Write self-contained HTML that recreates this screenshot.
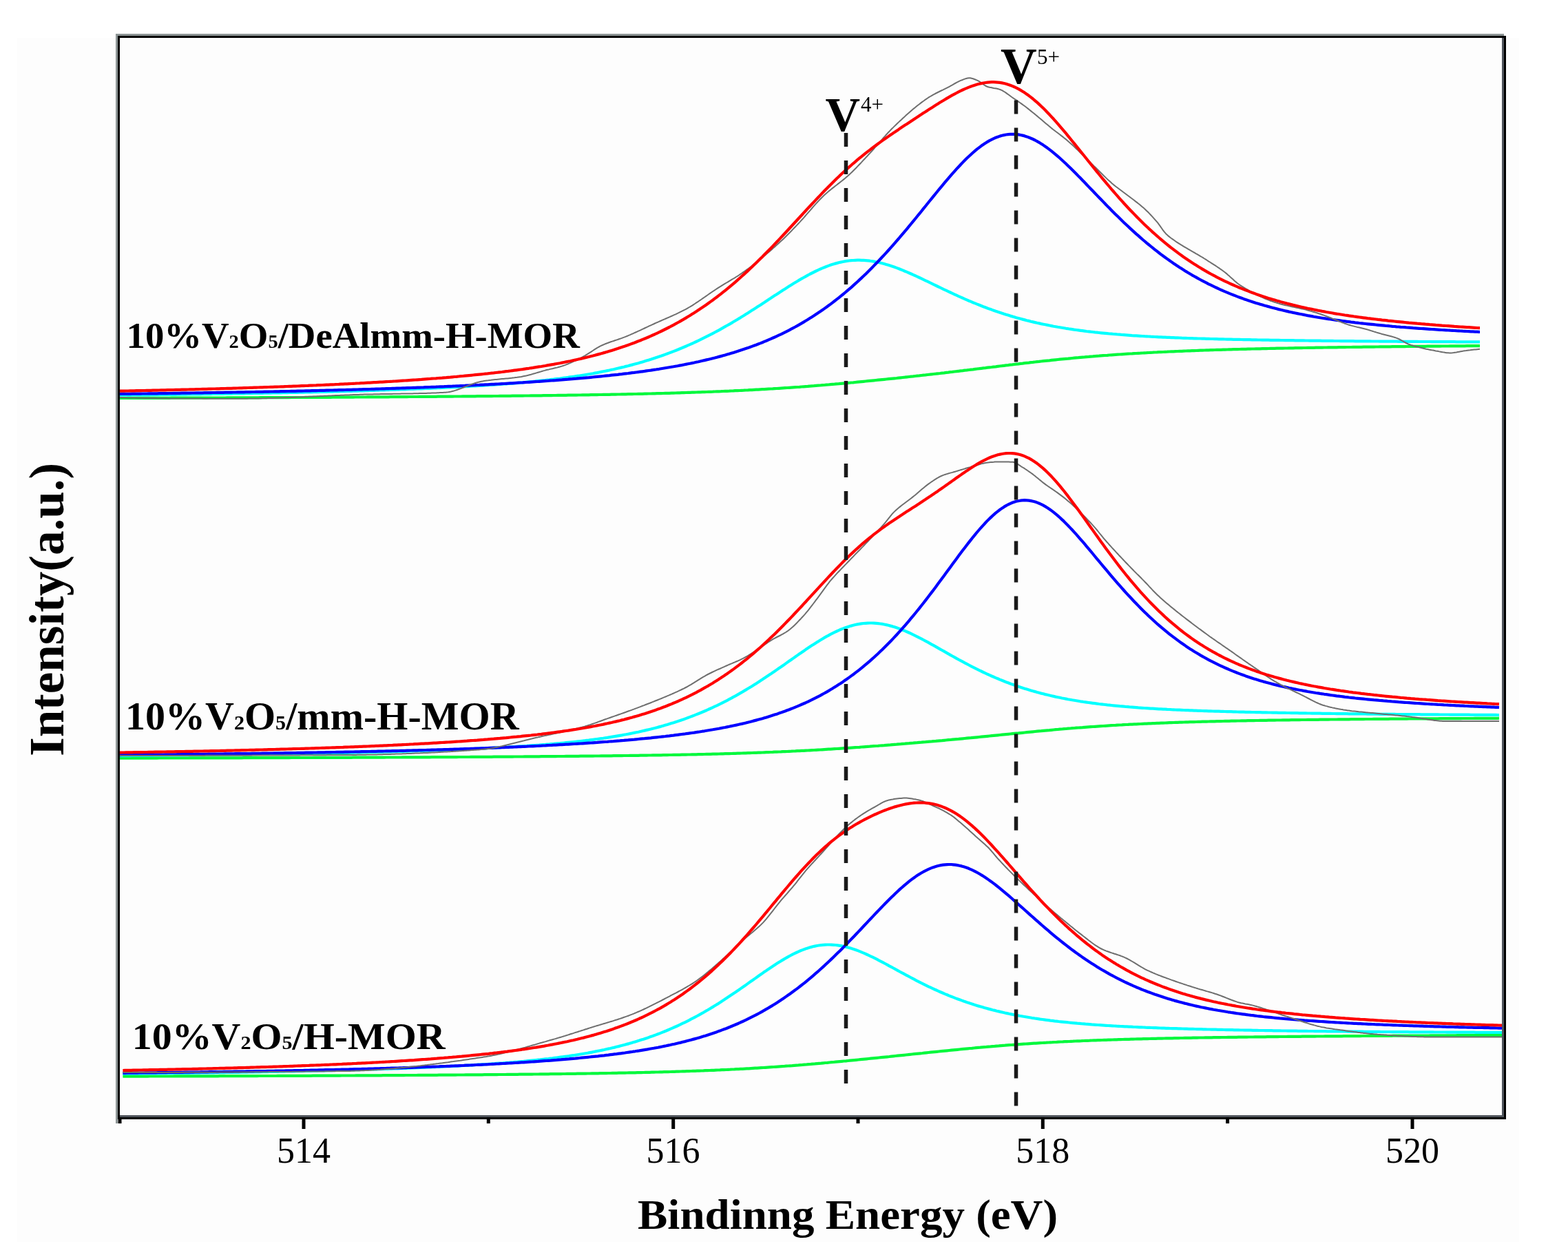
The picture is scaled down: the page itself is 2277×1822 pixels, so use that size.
<!DOCTYPE html>
<html><head><meta charset="utf-8"><title>XPS V2p spectra</title>
<style>
html,body{margin:0;padding:0;background:#fff;}
body{width:2277px;height:1822px;overflow:hidden;position:relative;}
svg{position:absolute;left:0;top:0;}
.t{position:absolute;white-space:nowrap;font-family:"Liberation Serif","Times New Roman",serif;color:#000;line-height:1;}
.b{font-weight:bold;}
.s{font-size:0.52em;}
</style></head><body>
<svg width="2277" height="1822" viewBox="0 0 2277 1822">
<rect width="2277" height="1822" fill="#ffffff"/>
<rect x="25" y="55" width="2181" height="1748" fill="#fdfdfd"/>
<g fill="none" stroke-linejoin="round" stroke-linecap="butt">
<path d="M171,578 L174,578 L177,578 L180,578 L183,578 L186,577.9 L189,577.9 L192,577.9 L195,577.9 L198,577.9 L201,577.9 L204,577.9 L207,577.9 L210,577.9 L213,577.9 L216,577.9 L219,577.8 L222,577.8 L225,577.8 L228,577.8 L231,577.8 L234,577.8 L237,577.8 L240,577.8 L243,577.8 L246,577.8 L249,577.7 L252,577.7 L255,577.7 L258,577.7 L261,577.7 L264,577.7 L267,577.7 L270,577.7 L273,577.7 L276,577.6 L279,577.6 L282,577.6 L285,577.6 L288,577.6 L291,577.6 L294,577.6 L297,577.6 L300,577.6 L303,577.5 L306,577.5 L309,577.5 L312,577.5 L315,577.5 L318,577.5 L321,577.5 L324,577.5 L327,577.5 L330,577.4 L333,577.4 L336,577.4 L339,577.4 L342,577.4 L345,577.4 L348,577.4 L351,577.4 L354,577.3 L357,577.3 L360,577.3 L363,577.3 L366,577.3 L369,577.3 L372,577.3 L375,577.3 L378,577.2 L381,577.2 L384,577.2 L387,577.2 L390,577.2 L393,577.2 L396,577.2 L399,577.2 L402,577.1 L405,577.1 L408,577.1 L411,577.1 L414,577.1 L417,577.1 L420,577.1 L423,577 L426,577 L429,577 L432,577 L435,577 L438,577 L441,577 L444,576.9 L447,576.9 L450,576.9 L453,576.9 L456,576.9 L459,576.9 L462,576.8 L465,576.8 L468,576.8 L471,576.8 L474,576.8 L477,576.8 L480,576.8 L483,576.7 L486,576.7 L489,576.7 L492,576.7 L495,576.7 L498,576.7 L501,576.6 L504,576.6 L507,576.6 L510,576.6 L513,576.6 L516,576.5 L519,576.5 L522,576.5 L525,576.5 L528,576.5 L531,576.5 L534,576.4 L537,576.4 L540,576.4 L543,576.4 L546,576.4 L549,576.3 L552,576.3 L555,576.3 L558,576.3 L561,576.3 L564,576.3 L567,576.2 L570,576.2 L573,576.2 L576,576.2 L579,576.2 L582,576.1 L585,576.1 L588,576.1 L591,576.1 L594,576 L597,576 L600,576 L603,576 L606,576 L609,575.9 L612,575.9 L615,575.9 L618,575.9 L621,575.9 L624,575.8 L627,575.8 L630,575.8 L633,575.8 L636,575.7 L639,575.7 L642,575.7 L645,575.7 L648,575.6 L651,575.6 L654,575.6 L657,575.6 L660,575.5 L663,575.5 L666,575.5 L669,575.5 L672,575.4 L675,575.4 L678,575.4 L681,575.4 L684,575.3 L687,575.3 L690,575.3 L693,575.2 L696,575.2 L699,575.2 L702,575.2 L705,575.1 L708,575.1 L711,575.1 L714,575.1 L717,575 L720,575 L723,575 L726,574.9 L729,574.9 L732,574.9 L735,574.8 L738,574.8 L741,574.8 L744,574.7 L747,574.7 L750,574.7 L753,574.6 L756,574.6 L759,574.6 L762,574.5 L765,574.5 L768,574.5 L771,574.4 L774,574.4 L777,574.4 L780,574.3 L783,574.3 L786,574.3 L789,574.2 L792,574.2 L795,574.1 L798,574.1 L801,574.1 L804,574 L807,574 L810,573.9 L813,573.9 L816,573.9 L819,573.8 L822,573.8 L825,573.7 L828,573.7 L831,573.6 L834,573.6 L837,573.6 L840,573.5 L843,573.5 L846,573.4 L849,573.4 L852,573.3 L855,573.3 L858,573.2 L861,573.2 L864,573.1 L867,573.1 L870,573 L873,573 L876,572.9 L879,572.9 L882,572.8 L885,572.8 L888,572.7 L891,572.6 L894,572.6 L897,572.5 L900,572.5 L903,572.4 L906,572.3 L909,572.3 L912,572.2 L915,572.2 L918,572.1 L921,572 L924,572 L927,571.9 L930,571.8 L933,571.8 L936,571.7 L939,571.6 L942,571.5 L945,571.5 L948,571.4 L951,571.3 L954,571.2 L957,571.2 L960,571.1 L963,571 L966,570.9 L969,570.8 L972,570.8 L975,570.7 L978,570.6 L981,570.5 L984,570.4 L987,570.3 L990,570.2 L993,570.1 L996,570 L999,569.9 L1002,569.8 L1005,569.7 L1008,569.6 L1011,569.5 L1014,569.4 L1017,569.3 L1020,569.2 L1023,569.1 L1026,569 L1029,568.9 L1032,568.8 L1035,568.7 L1038,568.5 L1041,568.4 L1044,568.3 L1047,568.2 L1050,568 L1053,567.9 L1056,567.8 L1059,567.7 L1062,567.5 L1065,567.4 L1068,567.2 L1071,567.1 L1074,567 L1077,566.8 L1080,566.7 L1083,566.5 L1086,566.4 L1089,566.2 L1092,566.1 L1095,565.9 L1098,565.7 L1101,565.6 L1104,565.4 L1107,565.2 L1110,565.1 L1113,564.9 L1116,564.7 L1119,564.5 L1122,564.4 L1125,564.2 L1128,564 L1131,563.8 L1134,563.6 L1137,563.4 L1140,563.2 L1143,563 L1146,562.8 L1149,562.6 L1152,562.4 L1155,562.2 L1158,562 L1161,561.8 L1164,561.5 L1167,561.3 L1170,561.1 L1173,560.9 L1176,560.6 L1179,560.4 L1182,560.2 L1185,559.9 L1188,559.7 L1191,559.5 L1194,559.2 L1197,559 L1200,558.7 L1203,558.5 L1206,558.2 L1209,557.9 L1212,557.7 L1215,557.4 L1218,557.2 L1221,556.9 L1224,556.6 L1227,556.4 L1230,556.1 L1233,555.8 L1236,555.5 L1239,555.3 L1242,555 L1245,554.7 L1248,554.4 L1251,554.1 L1254,553.8 L1257,553.5 L1260,553.2 L1263,552.9 L1266,552.6 L1269,552.3 L1272,552 L1275,551.7 L1278,551.4 L1281,551.1 L1284,550.8 L1287,550.5 L1290,550.2 L1293,549.9 L1296,549.6 L1299,549.3 L1302,549 L1305,548.6 L1308,548.3 L1311,548 L1314,547.7 L1317,547.3 L1320,547 L1323,546.7 L1326,546.4 L1329,546 L1332,545.7 L1335,545.4 L1338,545 L1341,544.7 L1344,544.4 L1347,544 L1350,543.7 L1353,543.3 L1356,543 L1359,542.7 L1362,542.3 L1365,542 L1368,541.6 L1371,541.3 L1374,540.9 L1377,540.6 L1380,540.2 L1383,539.9 L1386,539.5 L1389,539.2 L1392,538.8 L1395,538.4 L1398,538.1 L1401,537.7 L1404,537.4 L1407,537 L1410,536.6 L1413,536.3 L1416,535.9 L1419,535.5 L1422,535.2 L1425,534.8 L1428,534.4 L1431,534.1 L1434,533.7 L1437,533.3 L1440,533 L1443,532.6 L1446,532.3 L1449,531.9 L1452,531.5 L1455,531.2 L1458,530.8 L1461,530.4 L1464,530.1 L1467,529.7 L1470,529.4 L1473,529 L1476,528.6 L1479,528.3 L1482,527.9 L1485,527.6 L1488,527.2 L1491,526.9 L1494,526.6 L1497,526.2 L1500,525.9 L1503,525.5 L1506,525.2 L1509,524.9 L1512,524.5 L1515,524.2 L1518,523.9 L1521,523.6 L1524,523.3 L1527,522.9 L1530,522.6 L1533,522.3 L1536,522 L1539,521.7 L1542,521.4 L1545,521.1 L1548,520.8 L1551,520.6 L1554,520.3 L1557,520 L1560,519.7 L1563,519.4 L1566,519.2 L1569,518.9 L1572,518.6 L1575,518.4 L1578,518.1 L1581,517.9 L1584,517.6 L1587,517.4 L1590,517.1 L1593,516.9 L1596,516.7 L1599,516.4 L1602,516.2 L1605,516 L1608,515.8 L1611,515.5 L1614,515.3 L1617,515.1 L1620,514.9 L1623,514.7 L1626,514.5 L1629,514.3 L1632,514.1 L1635,513.9 L1638,513.7 L1641,513.5 L1644,513.4 L1647,513.2 L1650,513 L1653,512.8 L1656,512.7 L1659,512.5 L1662,512.3 L1665,512.2 L1668,512 L1671,511.8 L1674,511.7 L1677,511.5 L1680,511.4 L1683,511.2 L1686,511.1 L1689,511 L1692,510.8 L1695,510.7 L1698,510.5 L1701,510.4 L1704,510.3 L1707,510.1 L1710,510 L1713,509.9 L1716,509.8 L1719,509.6 L1722,509.5 L1725,509.4 L1728,509.3 L1731,509.2 L1734,509.1 L1737,509 L1740,508.8 L1743,508.7 L1746,508.6 L1749,508.5 L1752,508.4 L1755,508.3 L1758,508.2 L1761,508.1 L1764,508 L1767,507.9 L1770,507.8 L1773,507.8 L1776,507.7 L1779,507.6 L1782,507.5 L1785,507.4 L1788,507.3 L1791,507.2 L1794,507.2 L1797,507.1 L1800,507 L1803,506.9 L1806,506.8 L1809,506.8 L1812,506.7 L1815,506.6 L1818,506.5 L1821,506.5 L1824,506.4 L1827,506.3 L1830,506.3 L1833,506.2 L1836,506.1 L1839,506.1 L1842,506 L1845,505.9 L1848,505.9 L1851,505.8 L1854,505.7 L1857,505.7 L1860,505.6 L1863,505.6 L1866,505.5 L1869,505.5 L1872,505.4 L1875,505.3 L1878,505.3 L1881,505.2 L1884,505.2 L1887,505.1 L1890,505.1 L1893,505 L1896,505 L1899,504.9 L1902,504.9 L1905,504.8 L1908,504.8 L1911,504.7 L1914,504.7 L1917,504.6 L1920,504.6 L1923,504.5 L1926,504.5 L1929,504.4 L1932,504.4 L1935,504.3 L1938,504.3 L1941,504.3 L1944,504.2 L1947,504.2 L1950,504.1 L1953,504.1 L1956,504 L1959,504 L1962,504 L1965,503.9 L1968,503.9 L1971,503.9 L1974,503.8 L1977,503.8 L1980,503.7 L1983,503.7 L1986,503.7 L1989,503.6 L1992,503.6 L1995,503.6 L1998,503.5 L2001,503.5 L2004,503.4 L2007,503.4 L2010,503.4 L2013,503.3 L2016,503.3 L2019,503.3 L2022,503.2 L2025,503.2 L2028,503.2 L2031,503.2 L2034,503.1 L2037,503.1 L2040,503.1 L2043,503 L2046,503 L2049,503 L2052,502.9 L2055,502.9 L2058,502.9 L2061,502.8 L2064,502.8 L2067,502.8 L2070,502.8 L2073,502.7 L2076,502.7 L2079,502.7 L2082,502.6 L2085,502.6 L2088,502.6 L2091,502.6 L2094,502.5 L2097,502.5 L2100,502.5 L2103,502.5 L2106,502.4 L2109,502.4 L2112,502.4 L2115,502.4 L2118,502.3 L2121,502.3 L2124,502.3 L2127,502.3 L2130,502.2 L2133,502.2 L2136,502.2 L2139,502.2 L2142,502.1 L2145,502.1 L2148,502.1 L2149,502.1" stroke="#00f83c" stroke-width="4.2"/>
<path d="M171,573.8 L174,573.7 L177,573.7 L180,573.7 L183,573.6 L186,573.6 L189,573.6 L192,573.5 L195,573.5 L198,573.5 L201,573.4 L204,573.4 L207,573.4 L210,573.3 L213,573.3 L216,573.3 L219,573.2 L222,573.2 L225,573.2 L228,573.1 L231,573.1 L234,573 L237,573 L240,573 L243,572.9 L246,572.9 L249,572.9 L252,572.8 L255,572.8 L258,572.7 L261,572.7 L264,572.7 L267,572.6 L270,572.6 L273,572.5 L276,572.5 L279,572.5 L282,572.4 L285,572.4 L288,572.3 L291,572.3 L294,572.2 L297,572.2 L300,572.1 L303,572.1 L306,572.1 L309,572 L312,572 L315,571.9 L318,571.9 L321,571.8 L324,571.8 L327,571.7 L330,571.7 L333,571.6 L336,571.6 L339,571.5 L342,571.5 L345,571.4 L348,571.4 L351,571.3 L354,571.3 L357,571.2 L360,571.2 L363,571.1 L366,571.1 L369,571 L372,571 L375,570.9 L378,570.9 L381,570.8 L384,570.7 L387,570.7 L390,570.6 L393,570.6 L396,570.5 L399,570.5 L402,570.4 L405,570.3 L408,570.3 L411,570.2 L414,570.1 L417,570.1 L420,570 L423,570 L426,569.9 L429,569.8 L432,569.8 L435,569.7 L438,569.6 L441,569.6 L444,569.5 L447,569.4 L450,569.4 L453,569.3 L456,569.2 L459,569.1 L462,569.1 L465,569 L468,568.9 L471,568.9 L474,568.8 L477,568.7 L480,568.6 L483,568.6 L486,568.5 L489,568.4 L492,568.3 L495,568.2 L498,568.2 L501,568.1 L504,568 L507,567.9 L510,567.8 L513,567.7 L516,567.6 L519,567.6 L522,567.5 L525,567.4 L528,567.3 L531,567.2 L534,567.1 L537,567 L540,566.9 L543,566.8 L546,566.7 L549,566.6 L552,566.5 L555,566.4 L558,566.3 L561,566.2 L564,566.1 L567,566 L570,565.9 L573,565.8 L576,565.7 L579,565.6 L582,565.5 L585,565.4 L588,565.3 L591,565.1 L594,565 L597,564.9 L600,564.8 L603,564.7 L606,564.5 L609,564.4 L612,564.3 L615,564.2 L618,564 L621,563.9 L624,563.8 L627,563.7 L630,563.5 L633,563.4 L636,563.2 L639,563.1 L642,563 L645,562.8 L648,562.7 L651,562.5 L654,562.4 L657,562.2 L660,562.1 L663,561.9 L666,561.7 L669,561.6 L672,561.4 L675,561.2 L678,561.1 L681,560.9 L684,560.7 L687,560.5 L690,560.4 L693,560.2 L696,560 L699,559.8 L702,559.6 L705,559.4 L708,559.2 L711,559 L714,558.8 L717,558.6 L720,558.4 L723,558.2 L726,558 L729,557.7 L732,557.5 L735,557.3 L738,557 L741,556.8 L744,556.6 L747,556.3 L750,556.1 L753,555.8 L756,555.5 L759,555.3 L762,555 L765,554.7 L768,554.4 L771,554.1 L774,553.9 L777,553.6 L780,553.2 L783,552.9 L786,552.6 L789,552.3 L792,552 L795,551.6 L798,551.3 L801,550.9 L804,550.6 L807,550.2 L810,549.8 L813,549.5 L816,549.1 L819,548.7 L822,548.3 L825,547.9 L828,547.4 L831,547 L834,546.6 L837,546.1 L840,545.7 L843,545.2 L846,544.7 L849,544.2 L852,543.7 L855,543.2 L858,542.7 L861,542.2 L864,541.6 L867,541.1 L870,540.5 L873,539.9 L876,539.3 L879,538.7 L882,538.1 L885,537.5 L888,536.8 L891,536.2 L894,535.5 L897,534.8 L900,534.1 L903,533.4 L906,532.7 L909,531.9 L912,531.2 L915,530.4 L918,529.6 L921,528.8 L924,528 L927,527.2 L930,526.3 L933,525.4 L936,524.5 L939,523.6 L942,522.7 L945,521.8 L948,520.8 L951,519.8 L954,518.8 L957,517.8 L960,516.8 L963,515.7 L966,514.6 L969,513.5 L972,512.4 L975,511.3 L978,510.1 L981,509 L984,507.8 L987,506.5 L990,505.3 L993,504 L996,502.7 L999,501.4 L1002,500.1 L1005,498.8 L1008,497.4 L1011,496 L1014,494.6 L1017,493.2 L1020,491.7 L1023,490.2 L1026,488.7 L1029,487.2 L1032,485.7 L1035,484.1 L1038,482.5 L1041,480.9 L1044,479.3 L1047,477.6 L1050,475.9 L1053,474.2 L1056,472.5 L1059,470.8 L1062,469.1 L1065,467.3 L1068,465.5 L1071,463.7 L1074,461.9 L1077,460 L1080,458.2 L1083,456.3 L1086,454.4 L1089,452.5 L1092,450.6 L1095,448.7 L1098,446.8 L1101,444.8 L1104,442.9 L1107,440.9 L1110,439 L1113,437 L1116,435 L1119,433.1 L1122,431.1 L1125,429.1 L1128,427.2 L1131,425.2 L1134,423.3 L1137,421.3 L1140,419.4 L1143,417.5 L1146,415.6 L1149,413.7 L1152,411.8 L1155,410 L1158,408.2 L1161,406.4 L1164,404.7 L1167,403 L1170,401.3 L1173,399.6 L1176,398 L1179,396.5 L1182,395 L1185,393.5 L1188,392.1 L1191,390.7 L1194,389.4 L1197,388.2 L1200,387 L1203,385.9 L1206,384.8 L1209,383.8 L1212,382.9 L1215,382.1 L1218,381.3 L1221,380.6 L1224,380 L1227,379.4 L1230,378.9 L1233,378.5 L1236,378.2 L1239,378 L1242,377.8 L1245,377.7 L1248,377.7 L1251,377.8 L1254,377.9 L1257,378.1 L1260,378.4 L1263,378.7 L1266,379.2 L1269,379.6 L1272,380.2 L1275,380.8 L1278,381.5 L1281,382.2 L1284,383 L1287,383.9 L1290,384.8 L1293,385.8 L1296,386.8 L1299,387.8 L1302,388.9 L1305,390 L1308,391.2 L1311,392.4 L1314,393.7 L1317,394.9 L1320,396.2 L1323,397.5 L1326,398.9 L1329,400.2 L1332,401.6 L1335,403 L1338,404.4 L1341,405.9 L1344,407.3 L1347,408.7 L1350,410.2 L1353,411.6 L1356,413.1 L1359,414.5 L1362,416 L1365,417.4 L1368,418.8 L1371,420.3 L1374,421.7 L1377,423.1 L1380,424.5 L1383,425.9 L1386,427.3 L1389,428.7 L1392,430.1 L1395,431.4 L1398,432.7 L1401,434.1 L1404,435.4 L1407,436.7 L1410,437.9 L1413,439.2 L1416,440.4 L1419,441.6 L1422,442.8 L1425,444 L1428,445.2 L1431,446.3 L1434,447.5 L1437,448.6 L1440,449.6 L1443,450.7 L1446,451.8 L1449,452.8 L1452,453.8 L1455,454.8 L1458,455.8 L1461,456.7 L1464,457.6 L1467,458.6 L1470,459.4 L1473,460.3 L1476,461.2 L1479,462 L1482,462.8 L1485,463.6 L1488,464.4 L1491,465.2 L1494,465.9 L1497,466.7 L1500,467.4 L1503,468.1 L1506,468.8 L1509,469.4 L1512,470.1 L1515,470.7 L1518,471.3 L1521,471.9 L1524,472.5 L1527,473.1 L1530,473.7 L1533,474.2 L1536,474.8 L1539,475.3 L1542,475.8 L1545,476.3 L1548,476.8 L1551,477.2 L1554,477.7 L1557,478.1 L1560,478.6 L1563,479 L1566,479.4 L1569,479.8 L1572,480.2 L1575,480.6 L1578,481 L1581,481.3 L1584,481.7 L1587,482 L1590,482.4 L1593,482.7 L1596,483 L1599,483.3 L1602,483.6 L1605,483.9 L1608,484.2 L1611,484.5 L1614,484.7 L1617,485 L1620,485.2 L1623,485.5 L1626,485.7 L1629,486 L1632,486.2 L1635,486.4 L1638,486.6 L1641,486.8 L1644,487.1 L1647,487.3 L1650,487.4 L1653,487.6 L1656,487.8 L1659,488 L1662,488.2 L1665,488.3 L1668,488.5 L1671,488.7 L1674,488.8 L1677,489 L1680,489.1 L1683,489.3 L1686,489.4 L1689,489.6 L1692,489.7 L1695,489.8 L1698,489.9 L1701,490.1 L1704,490.2 L1707,490.3 L1710,490.4 L1713,490.5 L1716,490.7 L1719,490.8 L1722,490.9 L1725,491 L1728,491.1 L1731,491.2 L1734,491.3 L1737,491.4 L1740,491.5 L1743,491.5 L1746,491.6 L1749,491.7 L1752,491.8 L1755,491.9 L1758,492 L1761,492 L1764,492.1 L1767,492.2 L1770,492.3 L1773,492.3 L1776,492.4 L1779,492.5 L1782,492.6 L1785,492.6 L1788,492.7 L1791,492.8 L1794,492.8 L1797,492.9 L1800,492.9 L1803,493 L1806,493.1 L1809,493.1 L1812,493.2 L1815,493.2 L1818,493.3 L1821,493.4 L1824,493.4 L1827,493.5 L1830,493.5 L1833,493.6 L1836,493.6 L1839,493.7 L1842,493.7 L1845,493.8 L1848,493.8 L1851,493.9 L1854,493.9 L1857,493.9 L1860,494 L1863,494 L1866,494.1 L1869,494.1 L1872,494.2 L1875,494.2 L1878,494.2 L1881,494.3 L1884,494.3 L1887,494.4 L1890,494.4 L1893,494.4 L1896,494.5 L1899,494.5 L1902,494.6 L1905,494.6 L1908,494.6 L1911,494.7 L1914,494.7 L1917,494.7 L1920,494.8 L1923,494.8 L1926,494.8 L1929,494.9 L1932,494.9 L1935,494.9 L1938,495 L1941,495 L1944,495 L1947,495.1 L1950,495.1 L1953,495.1 L1956,495.1 L1959,495.2 L1962,495.2 L1965,495.2 L1968,495.3 L1971,495.3 L1974,495.3 L1977,495.3 L1980,495.4 L1983,495.4 L1986,495.4 L1989,495.4 L1992,495.5 L1995,495.5 L1998,495.5 L2001,495.5 L2004,495.6 L2007,495.6 L2010,495.6 L2013,495.6 L2016,495.6 L2019,495.7 L2022,495.7 L2025,495.7 L2028,495.7 L2031,495.8 L2034,495.8 L2037,495.8 L2040,495.8 L2043,495.8 L2046,495.9 L2049,495.9 L2052,495.9 L2055,495.9 L2058,495.9 L2061,496 L2064,496 L2067,496 L2070,496 L2073,496 L2076,496 L2079,496.1 L2082,496.1 L2085,496.1 L2088,496.1 L2091,496.1 L2094,496.1 L2097,496.2 L2100,496.2 L2103,496.2 L2106,496.2 L2109,496.2 L2112,496.2 L2115,496.3 L2118,496.3 L2121,496.3 L2124,496.3 L2127,496.3 L2130,496.3 L2133,496.3 L2136,496.4 L2139,496.4 L2142,496.4 L2145,496.4 L2148,496.4 L2149,496.4" stroke="#00ffff" stroke-width="4.2"/>
<path d="M171,572 L174,572 L177,571.9 L180,571.9 L183,571.8 L186,571.8 L189,571.8 L192,571.7 L195,571.7 L198,571.7 L201,571.6 L204,571.6 L207,571.5 L210,571.5 L213,571.5 L216,571.4 L219,571.4 L222,571.3 L225,571.3 L228,571.3 L231,571.2 L234,571.2 L237,571.1 L240,571.1 L243,571.1 L246,571 L249,571 L252,570.9 L255,570.9 L258,570.8 L261,570.8 L264,570.7 L267,570.7 L270,570.7 L273,570.6 L276,570.6 L279,570.5 L282,570.5 L285,570.4 L288,570.4 L291,570.3 L294,570.3 L297,570.2 L300,570.2 L303,570.1 L306,570.1 L309,570 L312,570 L315,569.9 L318,569.9 L321,569.8 L324,569.8 L327,569.7 L330,569.7 L333,569.6 L336,569.6 L339,569.5 L342,569.5 L345,569.4 L348,569.4 L351,569.3 L354,569.3 L357,569.2 L360,569.2 L363,569.1 L366,569 L369,569 L372,568.9 L375,568.9 L378,568.8 L381,568.8 L384,568.7 L387,568.6 L390,568.6 L393,568.5 L396,568.5 L399,568.4 L402,568.3 L405,568.3 L408,568.2 L411,568.1 L414,568.1 L417,568 L420,568 L423,567.9 L426,567.8 L429,567.8 L432,567.7 L435,567.6 L438,567.6 L441,567.5 L444,567.4 L447,567.3 L450,567.3 L453,567.2 L456,567.1 L459,567.1 L462,567 L465,566.9 L468,566.8 L471,566.8 L474,566.7 L477,566.6 L480,566.5 L483,566.5 L486,566.4 L489,566.3 L492,566.2 L495,566.2 L498,566.1 L501,566 L504,565.9 L507,565.8 L510,565.8 L513,565.7 L516,565.6 L519,565.5 L522,565.4 L525,565.3 L528,565.2 L531,565.2 L534,565.1 L537,565 L540,564.9 L543,564.8 L546,564.7 L549,564.6 L552,564.5 L555,564.4 L558,564.3 L561,564.2 L564,564.1 L567,564 L570,563.9 L573,563.8 L576,563.7 L579,563.6 L582,563.5 L585,563.4 L588,563.3 L591,563.2 L594,563.1 L597,563 L600,562.9 L603,562.8 L606,562.7 L609,562.6 L612,562.5 L615,562.4 L618,562.2 L621,562.1 L624,562 L627,561.9 L630,561.8 L633,561.7 L636,561.5 L639,561.4 L642,561.3 L645,561.2 L648,561 L651,560.9 L654,560.8 L657,560.7 L660,560.5 L663,560.4 L666,560.3 L669,560.1 L672,560 L675,559.9 L678,559.7 L681,559.6 L684,559.4 L687,559.3 L690,559.2 L693,559 L696,558.9 L699,558.7 L702,558.6 L705,558.4 L708,558.3 L711,558.1 L714,557.9 L717,557.8 L720,557.6 L723,557.5 L726,557.3 L729,557.1 L732,557 L735,556.8 L738,556.6 L741,556.4 L744,556.3 L747,556.1 L750,555.9 L753,555.7 L756,555.5 L759,555.4 L762,555.2 L765,555 L768,554.8 L771,554.6 L774,554.4 L777,554.2 L780,554 L783,553.8 L786,553.6 L789,553.4 L792,553.2 L795,553 L798,552.7 L801,552.5 L804,552.3 L807,552.1 L810,551.8 L813,551.6 L816,551.4 L819,551.1 L822,550.9 L825,550.7 L828,550.4 L831,550.2 L834,549.9 L837,549.7 L840,549.4 L843,549.1 L846,548.9 L849,548.6 L852,548.3 L855,548.1 L858,547.8 L861,547.5 L864,547.2 L867,546.9 L870,546.6 L873,546.3 L876,546 L879,545.7 L882,545.4 L885,545.1 L888,544.7 L891,544.4 L894,544.1 L897,543.8 L900,543.4 L903,543.1 L906,542.7 L909,542.3 L912,542 L915,541.6 L918,541.2 L921,540.9 L924,540.5 L927,540.1 L930,539.7 L933,539.3 L936,538.9 L939,538.4 L942,538 L945,537.6 L948,537.1 L951,536.7 L954,536.2 L957,535.8 L960,535.3 L963,534.8 L966,534.3 L969,533.8 L972,533.3 L975,532.8 L978,532.3 L981,531.7 L984,531.2 L987,530.6 L990,530.1 L993,529.5 L996,528.9 L999,528.3 L1002,527.7 L1005,527.1 L1008,526.5 L1011,525.8 L1014,525.2 L1017,524.5 L1020,523.8 L1023,523.1 L1026,522.4 L1029,521.7 L1032,521 L1035,520.2 L1038,519.5 L1041,518.7 L1044,517.9 L1047,517.1 L1050,516.3 L1053,515.5 L1056,514.6 L1059,513.7 L1062,512.8 L1065,511.9 L1068,511 L1071,510.1 L1074,509.1 L1077,508.1 L1080,507.1 L1083,506.1 L1086,505.1 L1089,504 L1092,502.9 L1095,501.8 L1098,500.7 L1101,499.5 L1104,498.4 L1107,497.2 L1110,495.9 L1113,494.7 L1116,493.4 L1119,492.1 L1122,490.8 L1125,489.5 L1128,488.1 L1131,486.7 L1134,485.3 L1137,483.8 L1140,482.3 L1143,480.8 L1146,479.3 L1149,477.7 L1152,476.1 L1155,474.5 L1158,472.8 L1161,471.1 L1164,469.4 L1167,467.6 L1170,465.8 L1173,464 L1176,462.1 L1179,460.2 L1182,458.3 L1185,456.3 L1188,454.3 L1191,452.3 L1194,450.2 L1197,448.1 L1200,446 L1203,443.8 L1206,441.6 L1209,439.3 L1212,437 L1215,434.7 L1218,432.3 L1221,429.9 L1224,427.5 L1227,425 L1230,422.4 L1233,419.9 L1236,417.3 L1239,414.6 L1242,411.9 L1245,409.2 L1248,406.4 L1251,403.6 L1254,400.8 L1257,397.9 L1260,394.9 L1263,392 L1266,389 L1269,385.9 L1272,382.8 L1275,379.7 L1278,376.5 L1281,373.3 L1284,370.1 L1287,366.8 L1290,363.5 L1293,360.2 L1296,356.8 L1299,353.4 L1302,349.9 L1305,346.5 L1308,342.9 L1311,339.4 L1314,335.9 L1317,332.3 L1320,328.7 L1323,325 L1326,321.4 L1329,317.7 L1332,314 L1335,310.4 L1338,306.7 L1341,302.9 L1344,299.2 L1347,295.5 L1350,291.8 L1353,288.1 L1356,284.4 L1359,280.7 L1362,277 L1365,273.4 L1368,269.8 L1371,266.2 L1374,262.6 L1377,259.1 L1380,255.6 L1383,252.2 L1386,248.8 L1389,245.4 L1392,242.2 L1395,239 L1398,235.9 L1401,232.8 L1404,229.8 L1407,227 L1410,224.2 L1413,221.5 L1416,218.9 L1419,216.4 L1422,214.1 L1425,211.8 L1428,209.7 L1431,207.7 L1434,205.9 L1437,204.1 L1440,202.6 L1443,201.1 L1446,199.8 L1449,198.7 L1452,197.6 L1455,196.8 L1458,196.1 L1461,195.5 L1464,195.1 L1467,194.9 L1470,194.8 L1473,194.9 L1476,195.1 L1479,195.4 L1482,196 L1485,196.6 L1488,197.4 L1491,198.4 L1494,199.5 L1497,200.7 L1500,202 L1503,203.5 L1506,205.1 L1509,206.8 L1512,208.7 L1515,210.6 L1518,212.7 L1521,214.8 L1524,217.1 L1527,219.4 L1530,221.8 L1533,224.3 L1536,226.9 L1539,229.5 L1542,232.2 L1545,235 L1548,237.8 L1551,240.7 L1554,243.6 L1557,246.5 L1560,249.5 L1563,252.5 L1566,255.6 L1569,258.6 L1572,261.7 L1575,264.8 L1578,268 L1581,271.1 L1584,274.2 L1587,277.3 L1590,280.5 L1593,283.6 L1596,286.7 L1599,289.8 L1602,292.9 L1605,296 L1608,299.1 L1611,302.1 L1614,305.2 L1617,308.2 L1620,311.2 L1623,314.1 L1626,317.1 L1629,320 L1632,322.9 L1635,325.7 L1638,328.6 L1641,331.4 L1644,334.1 L1647,336.9 L1650,339.6 L1653,342.2 L1656,344.9 L1659,347.5 L1662,350 L1665,352.6 L1668,355 L1671,357.5 L1674,359.9 L1677,362.3 L1680,364.7 L1683,367 L1686,369.3 L1689,371.5 L1692,373.7 L1695,375.9 L1698,378 L1701,380.1 L1704,382.2 L1707,384.2 L1710,386.2 L1713,388.2 L1716,390.1 L1719,392 L1722,393.9 L1725,395.7 L1728,397.5 L1731,399.3 L1734,401 L1737,402.7 L1740,404.4 L1743,406 L1746,407.6 L1749,409.2 L1752,410.7 L1755,412.3 L1758,413.7 L1761,415.2 L1764,416.6 L1767,418 L1770,419.4 L1773,420.8 L1776,422.1 L1779,423.4 L1782,424.6 L1785,425.9 L1788,427.1 L1791,428.3 L1794,429.4 L1797,430.6 L1800,431.7 L1803,432.8 L1806,433.9 L1809,434.9 L1812,436 L1815,437 L1818,437.9 L1821,438.9 L1824,439.9 L1827,440.8 L1830,441.7 L1833,442.6 L1836,443.5 L1839,444.3 L1842,445.1 L1845,446 L1848,446.8 L1851,447.5 L1854,448.3 L1857,449.1 L1860,449.8 L1863,450.5 L1866,451.2 L1869,451.9 L1872,452.6 L1875,453.2 L1878,453.9 L1881,454.5 L1884,455.1 L1887,455.7 L1890,456.3 L1893,456.9 L1896,457.5 L1899,458.1 L1902,458.6 L1905,459.1 L1908,459.7 L1911,460.2 L1914,460.7 L1917,461.2 L1920,461.7 L1923,462.2 L1926,462.6 L1929,463.1 L1932,463.5 L1935,464 L1938,464.4 L1941,464.8 L1944,465.2 L1947,465.6 L1950,466 L1953,466.4 L1956,466.8 L1959,467.2 L1962,467.6 L1965,467.9 L1968,468.3 L1971,468.6 L1974,469 L1977,469.3 L1980,469.7 L1983,470 L1986,470.3 L1989,470.6 L1992,470.9 L1995,471.2 L1998,471.5 L2001,471.8 L2004,472.1 L2007,472.4 L2010,472.7 L2013,473 L2016,473.2 L2019,473.5 L2022,473.8 L2025,474 L2028,474.3 L2031,474.5 L2034,474.8 L2037,475 L2040,475.2 L2043,475.5 L2046,475.7 L2049,475.9 L2052,476.2 L2055,476.4 L2058,476.6 L2061,476.8 L2064,477 L2067,477.2 L2070,477.4 L2073,477.6 L2076,477.8 L2079,478 L2082,478.2 L2085,478.4 L2088,478.6 L2091,478.8 L2094,479 L2097,479.1 L2100,479.3 L2103,479.5 L2106,479.7 L2109,479.8 L2112,480 L2115,480.2 L2118,480.3 L2121,480.5 L2124,480.7 L2127,480.8 L2130,481 L2133,481.1 L2136,481.3 L2139,481.4 L2142,481.6 L2145,481.7 L2148,481.9 L2149,481.9" stroke="#0000ff" stroke-width="4.2"/>
<path d="M171,577 L173,577.1 L175,577.1 L177,577.2 L179,577.2 L181,577.3 L183,577.3 L185,577.4 L187,577.4 L189,577.5 L191,577.5 L193,577.6 L195,577.6 L197,577.6 L199,577.7 L201,577.7 L203,577.8 L205,577.8 L207,577.8 L209,577.9 L211,577.9 L213,577.9 L215,578 L217,578 L219,578 L221,578.1 L223,578.1 L225,578.1 L227,578.2 L229,578.2 L231,578.2 L233,578.2 L235,578.3 L237,578.3 L239,578.3 L241,578.3 L243,578.3 L245,578.4 L247,578.4 L249,578.4 L251,578.4 L253,578.4 L255,578.4 L257,578.5 L259,578.5 L261,578.5 L263,578.5 L265,578.5 L267,578.5 L269,578.5 L271,578.6 L273,578.6 L275,578.6 L277,578.6 L279,578.6 L281,578.6 L283,578.6 L285,578.6 L287,578.6 L289,578.6 L291,578.6 L293,578.6 L295,578.7 L297,578.7 L299,578.7 L301,578.7 L303,578.7 L305,578.7 L307,578.7 L309,578.7 L311,578.7 L313,578.7 L315,578.7 L317,578.7 L319,578.7 L321,578.7 L323,578.7 L325,578.7 L327,578.7 L329,578.7 L331,578.7 L333,578.7 L335,578.7 L337,578.7 L339,578.7 L341,578.7 L343,578.7 L345,578.7 L347,578.7 L349,578.7 L351,578.7 L353,578.7 L355,578.7 L357,578.7 L359,578.7 L361,578.6 L363,578.6 L365,578.6 L367,578.6 L369,578.5 L371,578.5 L373,578.5 L375,578.4 L377,578.4 L379,578.4 L381,578.3 L383,578.3 L385,578.2 L387,578.2 L389,578.1 L391,578.1 L393,578 L395,578 L397,577.9 L399,577.8 L401,577.8 L403,577.7 L405,577.6 L407,577.6 L409,577.5 L411,577.4 L413,577.3 L415,577.3 L417,577.2 L419,577.1 L421,577 L423,577 L425,576.9 L427,576.8 L429,576.7 L431,576.6 L433,576.5 L435,576.5 L437,576.4 L439,576.3 L441,576.2 L443,576.1 L445,576 L447,575.9 L449,575.8 L451,575.7 L453,575.7 L455,575.6 L457,575.5 L459,575.4 L461,575.3 L463,575.2 L465,575.1 L467,575 L469,574.9 L471,574.8 L473,574.8 L475,574.7 L477,574.6 L479,574.5 L481,574.4 L483,574.3 L485,574.2 L487,574.1 L489,574.1 L491,574 L493,573.9 L495,573.8 L497,573.7 L499,573.7 L501,573.6 L503,573.5 L505,573.4 L507,573.4 L509,573.3 L511,573.2 L513,573.1 L515,573.1 L517,573 L519,572.9 L521,572.9 L523,572.8 L525,572.8 L527,572.7 L529,572.6 L531,572.6 L533,572.5 L535,572.5 L537,572.4 L539,572.4 L541,572.4 L543,572.3 L545,572.3 L547,572.2 L549,572.2 L551,572.2 L553,572.1 L555,572.1 L557,572.1 L559,572 L561,572 L563,572 L565,571.9 L567,571.9 L569,571.9 L571,571.8 L573,571.8 L575,571.8 L577,571.7 L579,571.7 L581,571.7 L583,571.6 L585,571.6 L587,571.6 L589,571.5 L591,571.5 L593,571.5 L595,571.4 L597,571.4 L599,571.4 L601,571.3 L603,571.3 L605,571.2 L607,571.2 L609,571.1 L611,571.1 L613,571 L615,571 L617,570.9 L619,570.9 L621,570.8 L623,570.7 L625,570.7 L627,570.6 L629,570.5 L631,570.5 L633,570.4 L635,570.3 L637,570.2 L639,570.1 L641,570 L643,569.9 L645,569.8 L647,569.7 L649,569.5 L651,569.3 L653,568.9 L655,568.5 L657,568 L659,567.5 L661,566.9 L663,566.2 L665,565.5 L667,564.8 L669,564.1 L671,563.3 L673,562.5 L675,561.7 L677,560.9 L679,560.1 L681,559.4 L683,558.6 L685,557.8 L687,557.1 L689,556.4 L691,555.8 L693,555.2 L695,554.7 L697,554.2 L699,553.8 L701,553.4 L703,553.1 L705,552.8 L707,552.5 L709,552.3 L711,552 L713,551.8 L715,551.5 L717,551.3 L719,551.1 L721,550.9 L723,550.7 L725,550.5 L727,550.3 L729,550.1 L731,550 L733,549.8 L735,549.6 L737,549.4 L739,549.2 L741,549 L743,548.8 L745,548.5 L747,548.3 L749,548 L751,547.8 L753,547.5 L755,547.2 L757,546.9 L759,546.5 L761,546.1 L763,545.7 L765,545.3 L767,544.8 L769,544.2 L771,543.7 L773,543.1 L775,542.5 L777,542 L779,541.4 L781,540.8 L783,540.2 L785,539.6 L787,539 L789,538.4 L791,537.9 L793,537.3 L795,536.8 L797,536.4 L799,535.9 L801,535.4 L803,535 L805,534.5 L807,534.1 L809,533.6 L811,533 L813,532.5 L815,531.9 L817,531.3 L819,530.6 L821,529.9 L823,529.1 L825,528.3 L827,527.4 L829,526.6 L831,525.7 L833,524.7 L835,523.8 L837,522.8 L839,521.8 L841,520.8 L843,519.8 L845,518.8 L847,517.7 L849,516.6 L851,515.4 L853,514.2 L855,512.9 L857,511.6 L859,510.3 L861,509 L863,507.7 L865,506.4 L867,505.2 L869,504 L871,502.9 L873,501.9 L875,501 L877,500.1 L879,499.3 L881,498.5 L883,497.8 L885,497 L887,496.3 L889,495.6 L891,495 L893,494.3 L895,493.6 L897,493 L899,492.3 L901,491.6 L903,490.9 L905,490.1 L907,489.4 L909,488.6 L911,487.8 L913,486.9 L915,486.1 L917,485.2 L919,484.3 L921,483.4 L923,482.5 L925,481.6 L927,480.7 L929,479.8 L931,478.9 L933,477.9 L935,477 L937,476 L939,475.1 L941,474.2 L943,473.2 L945,472.3 L947,471.4 L949,470.5 L951,469.5 L953,468.6 L955,467.8 L957,466.9 L959,466 L961,465.1 L963,464.2 L965,463.4 L967,462.5 L969,461.6 L971,460.8 L973,459.9 L975,459 L977,458.1 L979,457.2 L981,456.3 L983,455.3 L985,454.4 L987,453.4 L989,452.4 L991,451.4 L993,450.4 L995,449.4 L997,448.3 L999,447.2 L1001,446 L1003,444.8 L1005,443.6 L1007,442.3 L1009,441 L1011,439.7 L1013,438.4 L1015,437 L1017,435.7 L1019,434.3 L1021,432.9 L1023,431.5 L1025,430.1 L1027,428.7 L1029,427.3 L1031,425.9 L1033,424.5 L1035,423.2 L1037,421.8 L1039,420.5 L1041,419.2 L1043,417.9 L1045,416.6 L1047,415.4 L1049,414.1 L1051,412.9 L1053,411.7 L1055,410.5 L1057,409.3 L1059,408.1 L1061,406.9 L1063,405.7 L1065,404.5 L1067,403.3 L1069,402 L1071,400.8 L1073,399.5 L1075,398.1 L1077,396.8 L1079,395.4 L1081,394 L1083,392.6 L1085,391.1 L1087,389.7 L1089,388.2 L1091,386.7 L1093,385.1 L1095,383.6 L1097,382 L1099,380.4 L1101,378.8 L1103,377.2 L1105,375.6 L1107,373.9 L1109,372.2 L1111,370.5 L1113,368.8 L1115,367.1 L1117,365.4 L1119,363.7 L1121,361.9 L1123,360.1 L1125,358.4 L1127,356.6 L1129,354.8 L1131,352.9 L1133,351.1 L1135,349.3 L1137,347.4 L1139,345.5 L1141,343.5 L1143,341.5 L1145,339.5 L1147,337.5 L1149,335.5 L1151,333.4 L1153,331.3 L1155,329.2 L1157,327.1 L1159,325 L1161,322.9 L1163,320.7 L1165,318.5 L1167,316.3 L1169,314 L1171,311.7 L1173,309.4 L1175,307.1 L1177,304.8 L1179,302.5 L1181,300.2 L1183,297.9 L1185,295.7 L1187,293.5 L1189,291.4 L1191,289.3 L1193,287.2 L1195,285.2 L1197,283.3 L1199,281.5 L1201,279.7 L1203,278 L1205,276.4 L1207,274.7 L1209,273.1 L1211,271.6 L1213,270 L1215,268.5 L1217,266.9 L1219,265.4 L1221,263.8 L1223,262.2 L1225,260.6 L1227,259 L1229,257.3 L1231,255.6 L1233,253.8 L1235,251.9 L1237,250 L1239,248 L1241,246 L1243,244 L1245,241.9 L1247,239.8 L1249,237.7 L1251,235.6 L1253,233.4 L1255,231.3 L1257,229.1 L1259,227 L1261,224.8 L1263,222.7 L1265,220.5 L1267,218.3 L1269,216 L1271,213.7 L1273,211.5 L1275,209.2 L1277,206.9 L1279,204.6 L1281,202.3 L1283,200 L1285,197.8 L1287,195.5 L1289,193.3 L1291,191.2 L1293,189.1 L1295,187 L1297,185.1 L1299,183.1 L1301,181.2 L1303,179.3 L1305,177.4 L1307,175.5 L1309,173.7 L1311,171.8 L1313,170 L1315,168.1 L1317,166.3 L1319,164.6 L1321,162.8 L1323,161 L1325,159.3 L1327,157.6 L1329,156 L1331,154.3 L1333,152.7 L1335,151.2 L1337,149.6 L1339,148.1 L1341,146.7 L1343,145.2 L1345,143.9 L1347,142.5 L1349,141.2 L1351,140 L1353,138.8 L1355,137.7 L1357,136.6 L1359,135.5 L1361,134.5 L1363,133.5 L1365,132.5 L1367,131.5 L1369,130.6 L1371,129.6 L1373,128.6 L1375,127.6 L1377,126.6 L1379,125.6 L1381,124.4 L1383,123.3 L1385,122.1 L1387,121 L1389,119.9 L1391,118.8 L1393,117.8 L1395,116.9 L1397,116.2 L1399,115.4 L1401,114.6 L1403,114 L1405,113.5 L1407,113.2 L1409,113.3 L1411,113.7 L1413,114.2 L1415,115 L1417,115.8 L1419,116.7 L1421,117.6 L1423,118.8 L1425,120.2 L1427,121.8 L1429,123.2 L1431,124.5 L1433,125.5 L1435,126.2 L1437,126.7 L1439,127.1 L1441,127.5 L1443,127.9 L1445,128.2 L1447,128.6 L1449,129 L1451,129.6 L1453,130.3 L1455,131.2 L1457,132.3 L1459,133.5 L1461,134.9 L1463,136.4 L1465,137.8 L1467,139.3 L1469,140.8 L1471,142.2 L1473,143.5 L1475,144.9 L1477,146.2 L1479,147.6 L1481,149 L1483,150.4 L1485,151.9 L1487,153.3 L1489,154.8 L1491,156.3 L1493,157.9 L1495,159.5 L1497,161.1 L1499,162.7 L1501,164.3 L1503,165.9 L1505,167.6 L1507,169.2 L1509,170.9 L1511,172.6 L1513,174.2 L1515,176 L1517,177.7 L1519,179.4 L1521,181.1 L1523,182.8 L1525,184.4 L1527,186.1 L1529,187.7 L1531,189.2 L1533,190.8 L1535,192.3 L1537,193.8 L1539,195.3 L1541,196.9 L1543,198.4 L1545,200 L1547,201.6 L1549,203.3 L1551,205 L1553,206.7 L1555,208.5 L1557,210.3 L1559,212.1 L1561,214 L1563,215.9 L1565,217.8 L1567,219.7 L1569,221.7 L1571,223.7 L1573,225.6 L1575,227.6 L1577,229.6 L1579,231.6 L1581,233.5 L1583,235.5 L1585,237.5 L1587,239.4 L1589,241.4 L1591,243.3 L1593,245.3 L1595,247.2 L1597,249.2 L1599,251.2 L1601,253.2 L1603,255.2 L1605,257.1 L1607,259.1 L1609,261 L1611,262.8 L1613,264.6 L1615,266.4 L1617,268.1 L1619,269.7 L1621,271.3 L1623,272.8 L1625,274.3 L1627,275.8 L1629,277.3 L1631,278.8 L1633,280.2 L1635,281.7 L1637,283.2 L1639,284.7 L1641,286.2 L1643,287.8 L1645,289.3 L1647,290.8 L1649,292.4 L1651,293.9 L1653,295.5 L1655,297 L1657,298.7 L1659,300.4 L1661,302.1 L1663,304 L1665,305.9 L1667,307.8 L1669,309.9 L1671,312 L1673,314.1 L1675,316.3 L1677,318.6 L1679,320.9 L1681,323.2 L1683,325.9 L1685,328.6 L1687,331.5 L1689,334.3 L1691,336.9 L1693,339.2 L1695,341.1 L1697,342.9 L1699,344.5 L1701,346 L1703,347.4 L1705,348.8 L1707,350.2 L1709,351.6 L1711,352.9 L1713,354.2 L1715,355.4 L1717,356.6 L1719,357.9 L1721,359 L1723,360.2 L1725,361.4 L1727,362.5 L1729,363.7 L1731,364.8 L1733,366 L1735,367.1 L1737,368.3 L1739,369.4 L1741,370.6 L1743,371.8 L1745,373 L1747,374.2 L1749,375.5 L1751,376.7 L1753,378 L1755,379.3 L1757,380.5 L1759,381.8 L1761,383.1 L1763,384.4 L1765,385.7 L1767,387 L1769,388.4 L1771,389.7 L1773,391.1 L1775,392.5 L1777,394 L1779,395.5 L1781,397.1 L1783,398.9 L1785,400.6 L1787,402.5 L1789,404.3 L1791,406.1 L1793,407.9 L1795,409.6 L1797,411.2 L1799,412.7 L1801,414.1 L1803,415.4 L1805,416.6 L1807,417.8 L1809,419.1 L1811,420.2 L1813,421.4 L1815,422.5 L1817,423.7 L1819,424.7 L1821,425.8 L1823,426.9 L1825,427.9 L1827,428.9 L1829,429.8 L1831,430.8 L1833,431.7 L1835,432.6 L1837,433.5 L1839,434.3 L1841,435.1 L1843,435.9 L1845,436.7 L1847,437.4 L1849,438.1 L1851,438.8 L1853,439.4 L1855,440 L1857,440.6 L1859,441.2 L1861,441.7 L1863,442.2 L1865,442.7 L1867,443.2 L1869,443.6 L1871,444.1 L1873,444.5 L1875,445 L1877,445.4 L1879,445.8 L1881,446.2 L1883,446.7 L1885,447.1 L1887,447.5 L1889,448 L1891,448.4 L1893,448.9 L1895,449.4 L1897,449.9 L1899,450.5 L1901,451 L1903,451.6 L1905,452.1 L1907,452.7 L1909,453.3 L1911,453.9 L1913,454.5 L1915,455.2 L1917,455.8 L1919,456.5 L1921,457.2 L1923,457.9 L1925,458.6 L1927,459.4 L1929,460.2 L1931,461 L1933,461.8 L1935,462.6 L1937,463.4 L1939,464.2 L1941,465 L1943,465.8 L1945,466.6 L1947,467.4 L1949,468.2 L1951,468.9 L1953,469.7 L1955,470.4 L1957,471.1 L1959,471.7 L1961,472.3 L1963,472.9 L1965,473.4 L1967,473.9 L1969,474.4 L1971,474.9 L1973,475.3 L1975,475.8 L1977,476.3 L1979,476.8 L1981,477.3 L1983,477.8 L1985,478.3 L1987,478.9 L1989,479.5 L1991,480.1 L1993,480.7 L1995,481.4 L1997,482 L1999,482.6 L2001,483.2 L2003,483.8 L2005,484.4 L2007,485 L2009,485.5 L2011,486 L2013,486.5 L2015,487 L2017,487.5 L2019,488 L2021,488.5 L2023,489.1 L2025,489.7 L2027,490.4 L2029,491.1 L2031,492 L2033,493 L2035,494.1 L2037,495.2 L2039,496.4 L2041,497.5 L2043,498.5 L2045,499.5 L2047,500.2 L2049,500.9 L2051,501.5 L2053,502.1 L2055,502.7 L2057,503.3 L2059,503.8 L2061,504.3 L2063,504.8 L2065,505.3 L2067,505.8 L2069,506.2 L2071,506.7 L2073,507.1 L2075,507.5 L2077,507.9 L2079,508.3 L2081,508.6 L2083,509 L2085,509.4 L2087,509.7 L2089,510.1 L2091,510.6 L2093,510.9 L2095,511.3 L2097,511.6 L2099,511.9 L2101,512.2 L2103,512.3 L2105,512.4 L2107,512.4 L2109,512.3 L2111,512.1 L2113,511.8 L2115,511.5 L2117,511.1 L2119,510.7 L2121,510.3 L2123,509.9 L2125,509.6 L2127,509.2 L2129,509 L2131,508.7 L2133,508.5 L2135,508.3 L2137,508 L2139,507.8 L2141,507.6 L2143,507.4 L2145,507.2 L2147,507 L2149,506.8" stroke="#6e6e6e" stroke-width="2.0"/>
<path d="M171,567.8 L174,567.7 L177,567.7 L180,567.6 L183,567.5 L186,567.5 L189,567.4 L192,567.3 L195,567.3 L198,567.2 L201,567.2 L204,567.1 L207,567 L210,567 L213,566.9 L216,566.8 L219,566.8 L222,566.7 L225,566.6 L228,566.6 L231,566.5 L234,566.4 L237,566.4 L240,566.3 L243,566.2 L246,566.2 L249,566.1 L252,566 L255,565.9 L258,565.9 L261,565.8 L264,565.7 L267,565.6 L270,565.6 L273,565.5 L276,565.4 L279,565.3 L282,565.3 L285,565.2 L288,565.1 L291,565 L294,564.9 L297,564.9 L300,564.8 L303,564.7 L306,564.6 L309,564.5 L312,564.5 L315,564.4 L318,564.3 L321,564.2 L324,564.1 L327,564 L330,563.9 L333,563.8 L336,563.8 L339,563.7 L342,563.6 L345,563.5 L348,563.4 L351,563.3 L354,563.2 L357,563.1 L360,563 L363,562.9 L366,562.8 L369,562.7 L372,562.6 L375,562.5 L378,562.4 L381,562.3 L384,562.2 L387,562.1 L390,562 L393,561.9 L396,561.8 L399,561.7 L402,561.6 L405,561.5 L408,561.4 L411,561.3 L414,561.1 L417,561 L420,560.9 L423,560.8 L426,560.7 L429,560.6 L432,560.5 L435,560.3 L438,560.2 L441,560.1 L444,560 L447,559.9 L450,559.7 L453,559.6 L456,559.5 L459,559.4 L462,559.2 L465,559.1 L468,559 L471,558.8 L474,558.7 L477,558.6 L480,558.4 L483,558.3 L486,558.2 L489,558 L492,557.9 L495,557.7 L498,557.6 L501,557.4 L504,557.3 L507,557.1 L510,557 L513,556.8 L516,556.7 L519,556.5 L522,556.4 L525,556.2 L528,556.1 L531,555.9 L534,555.7 L537,555.6 L540,555.4 L543,555.2 L546,555.1 L549,554.9 L552,554.7 L555,554.6 L558,554.4 L561,554.2 L564,554 L567,553.8 L570,553.7 L573,553.5 L576,553.3 L579,553.1 L582,552.9 L585,552.7 L588,552.5 L591,552.3 L594,552.1 L597,551.9 L600,551.7 L603,551.5 L606,551.3 L609,551.1 L612,550.9 L615,550.6 L618,550.4 L621,550.2 L624,550 L627,549.7 L630,549.5 L633,549.3 L636,549 L639,548.8 L642,548.6 L645,548.3 L648,548.1 L651,547.8 L654,547.6 L657,547.3 L660,547 L663,546.8 L666,546.5 L669,546.2 L672,546 L675,545.7 L678,545.4 L681,545.1 L684,544.8 L687,544.5 L690,544.2 L693,543.9 L696,543.6 L699,543.3 L702,543 L705,542.7 L708,542.4 L711,542 L714,541.7 L717,541.4 L720,541 L723,540.7 L726,540.3 L729,540 L732,539.6 L735,539.2 L738,538.9 L741,538.5 L744,538.1 L747,537.7 L750,537.3 L753,536.9 L756,536.5 L759,536.1 L762,535.6 L765,535.2 L768,534.8 L771,534.3 L774,533.9 L777,533.4 L780,532.9 L783,532.4 L786,532 L789,531.5 L792,531 L795,530.4 L798,529.9 L801,529.4 L804,528.9 L807,528.3 L810,527.7 L813,527.2 L816,526.6 L819,526 L822,525.4 L825,524.8 L828,524.2 L831,523.5 L834,522.9 L837,522.2 L840,521.5 L843,520.9 L846,520.2 L849,519.5 L852,518.7 L855,518 L858,517.2 L861,516.5 L864,515.7 L867,514.9 L870,514.1 L873,513.3 L876,512.4 L879,511.6 L882,510.7 L885,509.8 L888,508.9 L891,508 L894,507 L897,506.1 L900,505.1 L903,504.1 L906,503.1 L909,502 L912,501 L915,499.9 L918,498.8 L921,497.7 L924,496.5 L927,495.3 L930,494.2 L933,492.9 L936,491.7 L939,490.5 L942,489.2 L945,487.9 L948,486.5 L951,485.2 L954,483.8 L957,482.4 L960,481 L963,479.5 L966,478 L969,476.5 L972,475 L975,473.4 L978,471.8 L981,470.2 L984,468.5 L987,466.9 L990,465.1 L993,463.4 L996,461.6 L999,459.8 L1002,458 L1005,456.1 L1008,454.2 L1011,452.3 L1014,450.3 L1017,448.3 L1020,446.3 L1023,444.3 L1026,442.2 L1029,440 L1032,437.9 L1035,435.7 L1038,433.4 L1041,431.2 L1044,428.9 L1047,426.6 L1050,424.2 L1053,421.8 L1056,419.4 L1059,416.9 L1062,414.4 L1065,411.8 L1068,409.3 L1071,406.7 L1074,404 L1077,401.3 L1080,398.6 L1083,395.9 L1086,393.1 L1089,390.3 L1092,387.5 L1095,384.6 L1098,381.7 L1101,378.8 L1104,375.8 L1107,372.9 L1110,369.8 L1113,366.8 L1116,363.7 L1119,360.7 L1122,357.6 L1125,354.4 L1128,351.3 L1131,348.1 L1134,344.9 L1137,341.7 L1140,338.5 L1143,335.3 L1146,332 L1149,328.8 L1152,325.5 L1155,322.3 L1158,319 L1161,315.8 L1164,312.5 L1167,309.2 L1170,306 L1173,302.7 L1176,299.5 L1179,296.3 L1182,293.1 L1185,289.9 L1188,286.7 L1191,283.6 L1194,280.4 L1197,277.3 L1200,274.3 L1203,271.2 L1206,268.2 L1209,265.2 L1212,262.3 L1215,259.3 L1218,256.5 L1221,253.6 L1224,250.8 L1227,248 L1230,245.3 L1233,242.6 L1236,240 L1239,237.3 L1242,234.8 L1245,232.2 L1248,229.7 L1251,227.3 L1254,224.8 L1257,222.4 L1260,220.1 L1263,217.8 L1266,215.5 L1269,213.2 L1272,211 L1275,208.8 L1278,206.6 L1281,204.4 L1284,202.3 L1287,200.2 L1290,198.1 L1293,196 L1296,194 L1299,191.9 L1302,189.9 L1305,187.9 L1308,185.8 L1311,183.8 L1314,181.8 L1317,179.9 L1320,177.9 L1323,175.9 L1326,173.9 L1329,171.9 L1332,170 L1335,168 L1338,166.1 L1341,164.1 L1344,162.2 L1347,160.2 L1350,158.3 L1353,156.4 L1356,154.5 L1359,152.6 L1362,150.7 L1365,148.8 L1368,147 L1371,145.2 L1374,143.4 L1377,141.6 L1380,139.9 L1383,138.2 L1386,136.6 L1389,135 L1392,133.4 L1395,131.9 L1398,130.5 L1401,129.1 L1404,127.9 L1407,126.6 L1410,125.5 L1413,124.4 L1416,123.4 L1419,122.5 L1422,121.7 L1425,121.1 L1428,120.5 L1431,120 L1434,119.6 L1437,119.4 L1440,119.2 L1443,119.2 L1446,119.3 L1449,119.6 L1452,119.9 L1455,120.4 L1458,121 L1461,121.8 L1464,122.7 L1467,123.7 L1470,124.9 L1473,126.2 L1476,127.6 L1479,129.2 L1482,130.9 L1485,132.7 L1488,134.6 L1491,136.7 L1494,138.8 L1497,141.1 L1500,143.5 L1503,146.1 L1506,148.7 L1509,151.4 L1512,154.2 L1515,157.1 L1518,160.1 L1521,163.2 L1524,166.3 L1527,169.6 L1530,172.8 L1533,176.2 L1536,179.6 L1539,183.1 L1542,186.6 L1545,190.1 L1548,193.7 L1551,197.3 L1554,201 L1557,204.7 L1560,208.4 L1563,212.1 L1566,215.8 L1569,219.6 L1572,223.3 L1575,227 L1578,230.8 L1581,234.5 L1584,238.3 L1587,242 L1590,245.7 L1593,249.4 L1596,253 L1599,256.7 L1602,260.3 L1605,263.9 L1608,267.5 L1611,271 L1614,274.6 L1617,278 L1620,281.5 L1623,284.9 L1626,288.3 L1629,291.6 L1632,295 L1635,298.2 L1638,301.5 L1641,304.7 L1644,307.8 L1647,310.9 L1650,314 L1653,317 L1656,320 L1659,323 L1662,325.9 L1665,328.7 L1668,331.6 L1671,334.3 L1674,337.1 L1677,339.8 L1680,342.4 L1683,345 L1686,347.6 L1689,350.1 L1692,352.6 L1695,355.1 L1698,357.5 L1701,359.8 L1704,362.1 L1707,364.4 L1710,366.7 L1713,368.9 L1716,371 L1719,373.2 L1722,375.2 L1725,377.3 L1728,379.3 L1731,381.3 L1734,383.2 L1737,385.1 L1740,387 L1743,388.8 L1746,390.6 L1749,392.4 L1752,394.1 L1755,395.8 L1758,397.5 L1761,399.1 L1764,400.7 L1767,402.3 L1770,403.8 L1773,405.3 L1776,406.8 L1779,408.3 L1782,409.7 L1785,411.1 L1788,412.5 L1791,413.8 L1794,415.1 L1797,416.4 L1800,417.7 L1803,418.9 L1806,420.1 L1809,421.3 L1812,422.4 L1815,423.6 L1818,424.7 L1821,425.8 L1824,426.9 L1827,427.9 L1830,428.9 L1833,430 L1836,430.9 L1839,431.9 L1842,432.9 L1845,433.8 L1848,434.7 L1851,435.6 L1854,436.5 L1857,437.3 L1860,438.2 L1863,439 L1866,439.8 L1869,440.6 L1872,441.3 L1875,442.1 L1878,442.9 L1881,443.6 L1884,444.3 L1887,445 L1890,445.7 L1893,446.4 L1896,447 L1899,447.7 L1902,448.3 L1905,448.9 L1908,449.5 L1911,450.1 L1914,450.7 L1917,451.3 L1920,451.9 L1923,452.4 L1926,453 L1929,453.5 L1932,454 L1935,454.5 L1938,455.1 L1941,455.6 L1944,456 L1947,456.5 L1950,457 L1953,457.5 L1956,457.9 L1959,458.4 L1962,458.8 L1965,459.2 L1968,459.7 L1971,460.1 L1974,460.5 L1977,460.9 L1980,461.3 L1983,461.7 L1986,462.1 L1989,462.4 L1992,462.8 L1995,463.2 L1998,463.5 L2001,463.9 L2004,464.2 L2007,464.6 L2010,464.9 L2013,465.2 L2016,465.6 L2019,465.9 L2022,466.2 L2025,466.5 L2028,466.8 L2031,467.1 L2034,467.4 L2037,467.7 L2040,468 L2043,468.3 L2046,468.6 L2049,468.8 L2052,469.1 L2055,469.4 L2058,469.7 L2061,469.9 L2064,470.2 L2067,470.4 L2070,470.7 L2073,470.9 L2076,471.2 L2079,471.4 L2082,471.6 L2085,471.9 L2088,472.1 L2091,472.3 L2094,472.6 L2097,472.8 L2100,473 L2103,473.2 L2106,473.4 L2109,473.6 L2112,473.9 L2115,474.1 L2118,474.3 L2121,474.5 L2124,474.7 L2127,474.9 L2130,475.1 L2133,475.2 L2136,475.4 L2139,475.6 L2142,475.8 L2145,476 L2148,476.2 L2149,476.2" stroke="#ff0000" stroke-width="4.2"/>
</g>
<g fill="none" stroke-linejoin="round" stroke-linecap="butt">
<path d="M171,1100.7 L174,1100.7 L177,1100.7 L180,1100.7 L183,1100.6 L186,1100.6 L189,1100.6 L192,1100.6 L195,1100.6 L198,1100.6 L201,1100.6 L204,1100.6 L207,1100.6 L210,1100.6 L213,1100.6 L216,1100.6 L219,1100.6 L222,1100.6 L225,1100.6 L228,1100.6 L231,1100.5 L234,1100.5 L237,1100.5 L240,1100.5 L243,1100.5 L246,1100.5 L249,1100.5 L252,1100.5 L255,1100.5 L258,1100.5 L261,1100.5 L264,1100.5 L267,1100.5 L270,1100.5 L273,1100.5 L276,1100.4 L279,1100.4 L282,1100.4 L285,1100.4 L288,1100.4 L291,1100.4 L294,1100.4 L297,1100.4 L300,1100.4 L303,1100.4 L306,1100.4 L309,1100.4 L312,1100.4 L315,1100.4 L318,1100.3 L321,1100.3 L324,1100.3 L327,1100.3 L330,1100.3 L333,1100.3 L336,1100.3 L339,1100.3 L342,1100.3 L345,1100.3 L348,1100.3 L351,1100.3 L354,1100.2 L357,1100.2 L360,1100.2 L363,1100.2 L366,1100.2 L369,1100.2 L372,1100.2 L375,1100.2 L378,1100.2 L381,1100.2 L384,1100.2 L387,1100.2 L390,1100.1 L393,1100.1 L396,1100.1 L399,1100.1 L402,1100.1 L405,1100.1 L408,1100.1 L411,1100.1 L414,1100.1 L417,1100.1 L420,1100.1 L423,1100 L426,1100 L429,1100 L432,1100 L435,1100 L438,1100 L441,1100 L444,1100 L447,1100 L450,1100 L453,1100 L456,1099.9 L459,1099.9 L462,1099.9 L465,1099.9 L468,1099.9 L471,1099.9 L474,1099.9 L477,1099.9 L480,1099.9 L483,1099.8 L486,1099.8 L489,1099.8 L492,1099.8 L495,1099.8 L498,1099.8 L501,1099.8 L504,1099.8 L507,1099.8 L510,1099.8 L513,1099.7 L516,1099.7 L519,1099.7 L522,1099.7 L525,1099.7 L528,1099.7 L531,1099.7 L534,1099.7 L537,1099.6 L540,1099.6 L543,1099.6 L546,1099.6 L549,1099.6 L552,1099.6 L555,1099.6 L558,1099.6 L561,1099.5 L564,1099.5 L567,1099.5 L570,1099.5 L573,1099.5 L576,1099.5 L579,1099.5 L582,1099.5 L585,1099.4 L588,1099.4 L591,1099.4 L594,1099.4 L597,1099.4 L600,1099.4 L603,1099.4 L606,1099.3 L609,1099.3 L612,1099.3 L615,1099.3 L618,1099.3 L621,1099.3 L624,1099.3 L627,1099.2 L630,1099.2 L633,1099.2 L636,1099.2 L639,1099.2 L642,1099.2 L645,1099.2 L648,1099.1 L651,1099.1 L654,1099.1 L657,1099.1 L660,1099.1 L663,1099.1 L666,1099 L669,1099 L672,1099 L675,1099 L678,1099 L681,1099 L684,1098.9 L687,1098.9 L690,1098.9 L693,1098.9 L696,1098.9 L699,1098.9 L702,1098.8 L705,1098.8 L708,1098.8 L711,1098.8 L714,1098.8 L717,1098.7 L720,1098.7 L723,1098.7 L726,1098.7 L729,1098.7 L732,1098.6 L735,1098.6 L738,1098.6 L741,1098.6 L744,1098.6 L747,1098.5 L750,1098.5 L753,1098.5 L756,1098.5 L759,1098.5 L762,1098.4 L765,1098.4 L768,1098.4 L771,1098.4 L774,1098.3 L777,1098.3 L780,1098.3 L783,1098.3 L786,1098.2 L789,1098.2 L792,1098.2 L795,1098.2 L798,1098.2 L801,1098.1 L804,1098.1 L807,1098.1 L810,1098 L813,1098 L816,1098 L819,1098 L822,1097.9 L825,1097.9 L828,1097.9 L831,1097.9 L834,1097.8 L837,1097.8 L840,1097.8 L843,1097.7 L846,1097.7 L849,1097.7 L852,1097.7 L855,1097.6 L858,1097.6 L861,1097.6 L864,1097.5 L867,1097.5 L870,1097.5 L873,1097.4 L876,1097.4 L879,1097.4 L882,1097.3 L885,1097.3 L888,1097.3 L891,1097.2 L894,1097.2 L897,1097.2 L900,1097.1 L903,1097.1 L906,1097 L909,1097 L912,1097 L915,1096.9 L918,1096.9 L921,1096.8 L924,1096.8 L927,1096.8 L930,1096.7 L933,1096.7 L936,1096.6 L939,1096.6 L942,1096.5 L945,1096.5 L948,1096.4 L951,1096.4 L954,1096.3 L957,1096.3 L960,1096.3 L963,1096.2 L966,1096.1 L969,1096.1 L972,1096 L975,1096 L978,1095.9 L981,1095.9 L984,1095.8 L987,1095.8 L990,1095.7 L993,1095.6 L996,1095.6 L999,1095.5 L1002,1095.5 L1005,1095.4 L1008,1095.3 L1011,1095.3 L1014,1095.2 L1017,1095.1 L1020,1095.1 L1023,1095 L1026,1094.9 L1029,1094.9 L1032,1094.8 L1035,1094.7 L1038,1094.6 L1041,1094.6 L1044,1094.5 L1047,1094.4 L1050,1094.3 L1053,1094.2 L1056,1094.1 L1059,1094.1 L1062,1094 L1065,1093.9 L1068,1093.8 L1071,1093.7 L1074,1093.6 L1077,1093.5 L1080,1093.4 L1083,1093.3 L1086,1093.2 L1089,1093.1 L1092,1093 L1095,1092.9 L1098,1092.8 L1101,1092.7 L1104,1092.6 L1107,1092.5 L1110,1092.3 L1113,1092.2 L1116,1092.1 L1119,1092 L1122,1091.9 L1125,1091.7 L1128,1091.6 L1131,1091.5 L1134,1091.4 L1137,1091.2 L1140,1091.1 L1143,1091 L1146,1090.8 L1149,1090.7 L1152,1090.5 L1155,1090.4 L1158,1090.2 L1161,1090.1 L1164,1089.9 L1167,1089.8 L1170,1089.6 L1173,1089.5 L1176,1089.3 L1179,1089.1 L1182,1089 L1185,1088.8 L1188,1088.6 L1191,1088.5 L1194,1088.3 L1197,1088.1 L1200,1087.9 L1203,1087.7 L1206,1087.6 L1209,1087.4 L1212,1087.2 L1215,1087 L1218,1086.8 L1221,1086.6 L1224,1086.4 L1227,1086.2 L1230,1086 L1233,1085.8 L1236,1085.6 L1239,1085.4 L1242,1085.2 L1245,1085 L1248,1084.8 L1251,1084.5 L1254,1084.3 L1257,1084.1 L1260,1083.9 L1263,1083.7 L1266,1083.4 L1269,1083.2 L1272,1083 L1275,1082.8 L1278,1082.5 L1281,1082.3 L1284,1082.1 L1287,1081.8 L1290,1081.6 L1293,1081.4 L1296,1081.1 L1299,1080.9 L1302,1080.7 L1305,1080.4 L1308,1080.2 L1311,1079.9 L1314,1079.7 L1317,1079.4 L1320,1079.2 L1323,1078.9 L1326,1078.7 L1329,1078.4 L1332,1078.2 L1335,1077.9 L1338,1077.7 L1341,1077.4 L1344,1077.2 L1347,1076.9 L1350,1076.6 L1353,1076.4 L1356,1076.1 L1359,1075.9 L1362,1075.6 L1365,1075.3 L1368,1075.1 L1371,1074.8 L1374,1074.5 L1377,1074.2 L1380,1074 L1383,1073.7 L1386,1073.4 L1389,1073.1 L1392,1072.9 L1395,1072.6 L1398,1072.3 L1401,1072 L1404,1071.7 L1407,1071.4 L1410,1071.2 L1413,1070.9 L1416,1070.6 L1419,1070.3 L1422,1070 L1425,1069.7 L1428,1069.4 L1431,1069.1 L1434,1068.8 L1437,1068.5 L1440,1068.2 L1443,1067.9 L1446,1067.6 L1449,1067.3 L1452,1067 L1455,1066.7 L1458,1066.4 L1461,1066.1 L1464,1065.8 L1467,1065.5 L1470,1065.2 L1473,1064.9 L1476,1064.6 L1479,1064.4 L1482,1064.1 L1485,1063.8 L1488,1063.5 L1491,1063.2 L1494,1062.9 L1497,1062.6 L1500,1062.3 L1503,1062 L1506,1061.7 L1509,1061.4 L1512,1061.2 L1515,1060.9 L1518,1060.6 L1521,1060.3 L1524,1060.1 L1527,1059.8 L1530,1059.5 L1533,1059.2 L1536,1059 L1539,1058.7 L1542,1058.5 L1545,1058.2 L1548,1058 L1551,1057.7 L1554,1057.5 L1557,1057.2 L1560,1057 L1563,1056.7 L1566,1056.5 L1569,1056.3 L1572,1056.1 L1575,1055.8 L1578,1055.6 L1581,1055.4 L1584,1055.2 L1587,1055 L1590,1054.8 L1593,1054.6 L1596,1054.4 L1599,1054.2 L1602,1054 L1605,1053.8 L1608,1053.6 L1611,1053.4 L1614,1053.2 L1617,1053 L1620,1052.9 L1623,1052.7 L1626,1052.5 L1629,1052.4 L1632,1052.2 L1635,1052 L1638,1051.9 L1641,1051.7 L1644,1051.6 L1647,1051.4 L1650,1051.3 L1653,1051.1 L1656,1051 L1659,1050.8 L1662,1050.7 L1665,1050.6 L1668,1050.4 L1671,1050.3 L1674,1050.2 L1677,1050.1 L1680,1049.9 L1683,1049.8 L1686,1049.7 L1689,1049.6 L1692,1049.5 L1695,1049.3 L1698,1049.2 L1701,1049.1 L1704,1049 L1707,1048.9 L1710,1048.8 L1713,1048.7 L1716,1048.6 L1719,1048.5 L1722,1048.4 L1725,1048.3 L1728,1048.2 L1731,1048.2 L1734,1048.1 L1737,1048 L1740,1047.9 L1743,1047.8 L1746,1047.7 L1749,1047.7 L1752,1047.6 L1755,1047.5 L1758,1047.4 L1761,1047.3 L1764,1047.3 L1767,1047.2 L1770,1047.1 L1773,1047.1 L1776,1047 L1779,1046.9 L1782,1046.9 L1785,1046.8 L1788,1046.7 L1791,1046.7 L1794,1046.6 L1797,1046.5 L1800,1046.5 L1803,1046.4 L1806,1046.4 L1809,1046.3 L1812,1046.2 L1815,1046.2 L1818,1046.1 L1821,1046.1 L1824,1046 L1827,1046 L1830,1045.9 L1833,1045.9 L1836,1045.8 L1839,1045.8 L1842,1045.7 L1845,1045.7 L1848,1045.6 L1851,1045.6 L1854,1045.5 L1857,1045.5 L1860,1045.5 L1863,1045.4 L1866,1045.4 L1869,1045.3 L1872,1045.3 L1875,1045.2 L1878,1045.2 L1881,1045.2 L1884,1045.1 L1887,1045.1 L1890,1045 L1893,1045 L1896,1045 L1899,1044.9 L1902,1044.9 L1905,1044.9 L1908,1044.8 L1911,1044.8 L1914,1044.8 L1917,1044.7 L1920,1044.7 L1923,1044.6 L1926,1044.6 L1929,1044.6 L1932,1044.5 L1935,1044.5 L1938,1044.5 L1941,1044.5 L1944,1044.4 L1947,1044.4 L1950,1044.4 L1953,1044.3 L1956,1044.3 L1959,1044.3 L1962,1044.2 L1965,1044.2 L1968,1044.2 L1971,1044.2 L1974,1044.1 L1977,1044.1 L1980,1044.1 L1983,1044 L1986,1044 L1989,1044 L1992,1044 L1995,1043.9 L1998,1043.9 L2001,1043.9 L2004,1043.9 L2007,1043.8 L2010,1043.8 L2013,1043.8 L2016,1043.8 L2019,1043.7 L2022,1043.7 L2025,1043.7 L2028,1043.7 L2031,1043.7 L2034,1043.6 L2037,1043.6 L2040,1043.6 L2043,1043.6 L2046,1043.5 L2049,1043.5 L2052,1043.5 L2055,1043.5 L2058,1043.5 L2061,1043.4 L2064,1043.4 L2067,1043.4 L2070,1043.4 L2073,1043.4 L2076,1043.3 L2079,1043.3 L2082,1043.3 L2085,1043.3 L2088,1043.3 L2091,1043.2 L2094,1043.2 L2097,1043.2 L2100,1043.2 L2103,1043.2 L2106,1043.1 L2109,1043.1 L2112,1043.1 L2115,1043.1 L2118,1043.1 L2121,1043.1 L2124,1043 L2127,1043 L2130,1043 L2133,1043 L2136,1043 L2139,1043 L2142,1042.9 L2145,1042.9 L2148,1042.9 L2151,1042.9 L2154,1042.9 L2157,1042.9 L2160,1042.8 L2163,1042.8 L2166,1042.8 L2169,1042.8 L2172,1042.8 L2175,1042.8 L2177,1042.7" stroke="#00f83c" stroke-width="4.2"/>
<path d="M171,1097.2 L174,1097.2 L177,1097.2 L180,1097.1 L183,1097.1 L186,1097.1 L189,1097.1 L192,1097 L195,1097 L198,1097 L201,1097 L204,1096.9 L207,1096.9 L210,1096.9 L213,1096.8 L216,1096.8 L219,1096.8 L222,1096.8 L225,1096.7 L228,1096.7 L231,1096.7 L234,1096.7 L237,1096.6 L240,1096.6 L243,1096.6 L246,1096.5 L249,1096.5 L252,1096.5 L255,1096.4 L258,1096.4 L261,1096.4 L264,1096.4 L267,1096.3 L270,1096.3 L273,1096.3 L276,1096.2 L279,1096.2 L282,1096.2 L285,1096.1 L288,1096.1 L291,1096.1 L294,1096 L297,1096 L300,1096 L303,1095.9 L306,1095.9 L309,1095.9 L312,1095.8 L315,1095.8 L318,1095.8 L321,1095.7 L324,1095.7 L327,1095.6 L330,1095.6 L333,1095.6 L336,1095.5 L339,1095.5 L342,1095.5 L345,1095.4 L348,1095.4 L351,1095.3 L354,1095.3 L357,1095.3 L360,1095.2 L363,1095.2 L366,1095.1 L369,1095.1 L372,1095.1 L375,1095 L378,1095 L381,1094.9 L384,1094.9 L387,1094.8 L390,1094.8 L393,1094.7 L396,1094.7 L399,1094.7 L402,1094.6 L405,1094.6 L408,1094.5 L411,1094.5 L414,1094.4 L417,1094.4 L420,1094.3 L423,1094.3 L426,1094.2 L429,1094.2 L432,1094.1 L435,1094.1 L438,1094 L441,1094 L444,1093.9 L447,1093.9 L450,1093.8 L453,1093.8 L456,1093.7 L459,1093.7 L462,1093.6 L465,1093.5 L468,1093.5 L471,1093.4 L474,1093.4 L477,1093.3 L480,1093.3 L483,1093.2 L486,1093.1 L489,1093.1 L492,1093 L495,1093 L498,1092.9 L501,1092.8 L504,1092.8 L507,1092.7 L510,1092.6 L513,1092.6 L516,1092.5 L519,1092.4 L522,1092.4 L525,1092.3 L528,1092.2 L531,1092.2 L534,1092.1 L537,1092 L540,1091.9 L543,1091.9 L546,1091.8 L549,1091.7 L552,1091.6 L555,1091.6 L558,1091.5 L561,1091.4 L564,1091.3 L567,1091.3 L570,1091.2 L573,1091.1 L576,1091 L579,1090.9 L582,1090.8 L585,1090.8 L588,1090.7 L591,1090.6 L594,1090.5 L597,1090.4 L600,1090.3 L603,1090.2 L606,1090.1 L609,1090 L612,1089.9 L615,1089.8 L618,1089.7 L621,1089.7 L624,1089.6 L627,1089.4 L630,1089.3 L633,1089.2 L636,1089.1 L639,1089 L642,1088.9 L645,1088.8 L648,1088.7 L651,1088.6 L654,1088.5 L657,1088.4 L660,1088.2 L663,1088.1 L666,1088 L669,1087.9 L672,1087.8 L675,1087.6 L678,1087.5 L681,1087.4 L684,1087.3 L687,1087.1 L690,1087 L693,1086.8 L696,1086.7 L699,1086.6 L702,1086.4 L705,1086.3 L708,1086.1 L711,1086 L714,1085.8 L717,1085.7 L720,1085.5 L723,1085.4 L726,1085.2 L729,1085 L732,1084.9 L735,1084.7 L738,1084.5 L741,1084.4 L744,1084.2 L747,1084 L750,1083.8 L753,1083.6 L756,1083.4 L759,1083.3 L762,1083.1 L765,1082.9 L768,1082.6 L771,1082.4 L774,1082.2 L777,1082 L780,1081.8 L783,1081.6 L786,1081.3 L789,1081.1 L792,1080.9 L795,1080.6 L798,1080.4 L801,1080.1 L804,1079.9 L807,1079.6 L810,1079.3 L813,1079.1 L816,1078.8 L819,1078.5 L822,1078.2 L825,1077.9 L828,1077.6 L831,1077.3 L834,1077 L837,1076.7 L840,1076.3 L843,1076 L846,1075.7 L849,1075.3 L852,1074.9 L855,1074.6 L858,1074.2 L861,1073.8 L864,1073.4 L867,1073 L870,1072.6 L873,1072.2 L876,1071.8 L879,1071.3 L882,1070.9 L885,1070.4 L888,1069.9 L891,1069.4 L894,1068.9 L897,1068.4 L900,1067.9 L903,1067.4 L906,1066.8 L909,1066.3 L912,1065.7 L915,1065.1 L918,1064.5 L921,1063.9 L924,1063.3 L927,1062.7 L930,1062 L933,1061.3 L936,1060.6 L939,1059.9 L942,1059.2 L945,1058.5 L948,1057.7 L951,1057 L954,1056.2 L957,1055.4 L960,1054.6 L963,1053.7 L966,1052.8 L969,1052 L972,1051.1 L975,1050.1 L978,1049.2 L981,1048.2 L984,1047.3 L987,1046.3 L990,1045.2 L993,1044.2 L996,1043.1 L999,1042 L1002,1040.9 L1005,1039.8 L1008,1038.6 L1011,1037.4 L1014,1036.2 L1017,1035 L1020,1033.8 L1023,1032.5 L1026,1031.2 L1029,1029.8 L1032,1028.5 L1035,1027.1 L1038,1025.7 L1041,1024.3 L1044,1022.8 L1047,1021.4 L1050,1019.8 L1053,1018.3 L1056,1016.8 L1059,1015.2 L1062,1013.6 L1065,1011.9 L1068,1010.3 L1071,1008.6 L1074,1006.9 L1077,1005.2 L1080,1003.4 L1083,1001.6 L1086,999.8 L1089,998 L1092,996.2 L1095,994.3 L1098,992.4 L1101,990.5 L1104,988.5 L1107,986.6 L1110,984.6 L1113,982.6 L1116,980.6 L1119,978.6 L1122,976.5 L1125,974.5 L1128,972.4 L1131,970.3 L1134,968.3 L1137,966.2 L1140,964.1 L1143,961.9 L1146,959.8 L1149,957.7 L1152,955.6 L1155,953.5 L1158,951.4 L1161,949.3 L1164,947.3 L1167,945.2 L1170,943.1 L1173,941.1 L1176,939.1 L1179,937.1 L1182,935.2 L1185,933.2 L1188,931.4 L1191,929.5 L1194,927.7 L1197,925.9 L1200,924.2 L1203,922.6 L1206,920.9 L1209,919.4 L1212,917.9 L1215,916.5 L1218,915.1 L1221,913.8 L1224,912.6 L1227,911.5 L1230,910.4 L1233,909.5 L1236,908.6 L1239,907.8 L1242,907 L1245,906.4 L1248,905.9 L1251,905.4 L1254,905 L1257,904.8 L1260,904.6 L1263,904.5 L1266,904.5 L1269,904.6 L1272,904.8 L1275,905.1 L1278,905.5 L1281,905.9 L1284,906.5 L1287,907.1 L1290,907.8 L1293,908.6 L1296,909.4 L1299,910.3 L1302,911.3 L1305,912.4 L1308,913.5 L1311,914.7 L1314,915.9 L1317,917.2 L1320,918.5 L1323,919.9 L1326,921.4 L1329,922.8 L1332,924.3 L1335,925.9 L1338,927.4 L1341,929 L1344,930.6 L1347,932.2 L1350,933.9 L1353,935.6 L1356,937.2 L1359,938.9 L1362,940.6 L1365,942.3 L1368,944 L1371,945.7 L1374,947.4 L1377,949.1 L1380,950.8 L1383,952.5 L1386,954.1 L1389,955.8 L1392,957.5 L1395,959.1 L1398,960.7 L1401,962.3 L1404,963.9 L1407,965.5 L1410,967.1 L1413,968.6 L1416,970.1 L1419,971.6 L1422,973.1 L1425,974.5 L1428,976 L1431,977.4 L1434,978.8 L1437,980.1 L1440,981.5 L1443,982.8 L1446,984.1 L1449,985.3 L1452,986.6 L1455,987.8 L1458,989 L1461,990.2 L1464,991.3 L1467,992.5 L1470,993.6 L1473,994.6 L1476,995.7 L1479,996.7 L1482,997.7 L1485,998.7 L1488,999.7 L1491,1000.6 L1494,1001.5 L1497,1002.4 L1500,1003.3 L1503,1004.1 L1506,1005 L1509,1005.8 L1512,1006.6 L1515,1007.3 L1518,1008.1 L1521,1008.8 L1524,1009.5 L1527,1010.2 L1530,1010.9 L1533,1011.6 L1536,1012.2 L1539,1012.8 L1542,1013.5 L1545,1014 L1548,1014.6 L1551,1015.2 L1554,1015.7 L1557,1016.3 L1560,1016.8 L1563,1017.3 L1566,1017.8 L1569,1018.3 L1572,1018.7 L1575,1019.2 L1578,1019.6 L1581,1020 L1584,1020.4 L1587,1020.8 L1590,1021.2 L1593,1021.6 L1596,1022 L1599,1022.3 L1602,1022.7 L1605,1023 L1608,1023.4 L1611,1023.7 L1614,1024 L1617,1024.3 L1620,1024.6 L1623,1024.9 L1626,1025.2 L1629,1025.4 L1632,1025.7 L1635,1026 L1638,1026.2 L1641,1026.5 L1644,1026.7 L1647,1026.9 L1650,1027.1 L1653,1027.4 L1656,1027.6 L1659,1027.8 L1662,1028 L1665,1028.2 L1668,1028.4 L1671,1028.6 L1674,1028.7 L1677,1028.9 L1680,1029.1 L1683,1029.3 L1686,1029.4 L1689,1029.6 L1692,1029.7 L1695,1029.9 L1698,1030 L1701,1030.2 L1704,1030.3 L1707,1030.5 L1710,1030.6 L1713,1030.7 L1716,1030.8 L1719,1031 L1722,1031.1 L1725,1031.2 L1728,1031.3 L1731,1031.4 L1734,1031.6 L1737,1031.7 L1740,1031.8 L1743,1031.9 L1746,1032 L1749,1032.1 L1752,1032.2 L1755,1032.3 L1758,1032.4 L1761,1032.5 L1764,1032.6 L1767,1032.7 L1770,1032.7 L1773,1032.8 L1776,1032.9 L1779,1033 L1782,1033.1 L1785,1033.2 L1788,1033.2 L1791,1033.3 L1794,1033.4 L1797,1033.5 L1800,1033.6 L1803,1033.6 L1806,1033.7 L1809,1033.8 L1812,1033.8 L1815,1033.9 L1818,1034 L1821,1034 L1824,1034.1 L1827,1034.2 L1830,1034.2 L1833,1034.3 L1836,1034.4 L1839,1034.4 L1842,1034.5 L1845,1034.5 L1848,1034.6 L1851,1034.7 L1854,1034.7 L1857,1034.8 L1860,1034.8 L1863,1034.9 L1866,1034.9 L1869,1035 L1872,1035 L1875,1035.1 L1878,1035.1 L1881,1035.2 L1884,1035.2 L1887,1035.3 L1890,1035.3 L1893,1035.4 L1896,1035.4 L1899,1035.5 L1902,1035.5 L1905,1035.6 L1908,1035.6 L1911,1035.6 L1914,1035.7 L1917,1035.7 L1920,1035.8 L1923,1035.8 L1926,1035.9 L1929,1035.9 L1932,1035.9 L1935,1036 L1938,1036 L1941,1036.1 L1944,1036.1 L1947,1036.1 L1950,1036.2 L1953,1036.2 L1956,1036.2 L1959,1036.3 L1962,1036.3 L1965,1036.3 L1968,1036.4 L1971,1036.4 L1974,1036.4 L1977,1036.5 L1980,1036.5 L1983,1036.5 L1986,1036.6 L1989,1036.6 L1992,1036.6 L1995,1036.7 L1998,1036.7 L2001,1036.7 L2004,1036.8 L2007,1036.8 L2010,1036.8 L2013,1036.8 L2016,1036.9 L2019,1036.9 L2022,1036.9 L2025,1036.9 L2028,1037 L2031,1037 L2034,1037 L2037,1037.1 L2040,1037.1 L2043,1037.1 L2046,1037.1 L2049,1037.2 L2052,1037.2 L2055,1037.2 L2058,1037.2 L2061,1037.2 L2064,1037.3 L2067,1037.3 L2070,1037.3 L2073,1037.3 L2076,1037.4 L2079,1037.4 L2082,1037.4 L2085,1037.4 L2088,1037.4 L2091,1037.5 L2094,1037.5 L2097,1037.5 L2100,1037.5 L2103,1037.5 L2106,1037.6 L2109,1037.6 L2112,1037.6 L2115,1037.6 L2118,1037.6 L2121,1037.7 L2124,1037.7 L2127,1037.7 L2130,1037.7 L2133,1037.7 L2136,1037.8 L2139,1037.8 L2142,1037.8 L2145,1037.8 L2148,1037.8 L2151,1037.8 L2154,1037.9 L2157,1037.9 L2160,1037.9 L2163,1037.9 L2166,1037.9 L2169,1037.9 L2172,1037.9 L2175,1038 L2177,1038" stroke="#00ffff" stroke-width="4.2"/>
<path d="M171,1096.1 L174,1096.1 L177,1096 L180,1096 L183,1096 L186,1095.9 L189,1095.9 L192,1095.9 L195,1095.9 L198,1095.8 L201,1095.8 L204,1095.8 L207,1095.7 L210,1095.7 L213,1095.7 L216,1095.7 L219,1095.6 L222,1095.6 L225,1095.6 L228,1095.5 L231,1095.5 L234,1095.5 L237,1095.5 L240,1095.4 L243,1095.4 L246,1095.4 L249,1095.3 L252,1095.3 L255,1095.3 L258,1095.2 L261,1095.2 L264,1095.2 L267,1095.1 L270,1095.1 L273,1095.1 L276,1095 L279,1095 L282,1095 L285,1094.9 L288,1094.9 L291,1094.9 L294,1094.8 L297,1094.8 L300,1094.8 L303,1094.7 L306,1094.7 L309,1094.7 L312,1094.6 L315,1094.6 L318,1094.5 L321,1094.5 L324,1094.5 L327,1094.4 L330,1094.4 L333,1094.4 L336,1094.3 L339,1094.3 L342,1094.2 L345,1094.2 L348,1094.2 L351,1094.1 L354,1094.1 L357,1094 L360,1094 L363,1094 L366,1093.9 L369,1093.9 L372,1093.8 L375,1093.8 L378,1093.8 L381,1093.7 L384,1093.7 L387,1093.6 L390,1093.6 L393,1093.5 L396,1093.5 L399,1093.4 L402,1093.4 L405,1093.4 L408,1093.3 L411,1093.3 L414,1093.2 L417,1093.2 L420,1093.1 L423,1093.1 L426,1093 L429,1093 L432,1092.9 L435,1092.9 L438,1092.8 L441,1092.8 L444,1092.7 L447,1092.7 L450,1092.6 L453,1092.6 L456,1092.5 L459,1092.5 L462,1092.4 L465,1092.4 L468,1092.3 L471,1092.3 L474,1092.2 L477,1092.2 L480,1092.1 L483,1092 L486,1092 L489,1091.9 L492,1091.9 L495,1091.8 L498,1091.8 L501,1091.7 L504,1091.6 L507,1091.6 L510,1091.5 L513,1091.5 L516,1091.4 L519,1091.3 L522,1091.3 L525,1091.2 L528,1091.1 L531,1091.1 L534,1091 L537,1091 L540,1090.9 L543,1090.8 L546,1090.8 L549,1090.7 L552,1090.6 L555,1090.6 L558,1090.5 L561,1090.4 L564,1090.3 L567,1090.3 L570,1090.2 L573,1090.1 L576,1090.1 L579,1090 L582,1089.9 L585,1089.8 L588,1089.8 L591,1089.7 L594,1089.6 L597,1089.5 L600,1089.4 L603,1089.4 L606,1089.3 L609,1089.2 L612,1089.1 L615,1089 L618,1089 L621,1088.9 L624,1088.8 L627,1088.7 L630,1088.6 L633,1088.5 L636,1088.4 L639,1088.4 L642,1088.3 L645,1088.2 L648,1088.1 L651,1088 L654,1087.9 L657,1087.8 L660,1087.7 L663,1087.6 L666,1087.5 L669,1087.4 L672,1087.3 L675,1087.2 L678,1087.1 L681,1087 L684,1086.9 L687,1086.8 L690,1086.7 L693,1086.6 L696,1086.5 L699,1086.4 L702,1086.3 L705,1086.2 L708,1086 L711,1085.9 L714,1085.8 L717,1085.7 L720,1085.6 L723,1085.5 L726,1085.4 L729,1085.2 L732,1085.1 L735,1085 L738,1084.9 L741,1084.7 L744,1084.6 L747,1084.5 L750,1084.3 L753,1084.2 L756,1084.1 L759,1083.9 L762,1083.8 L765,1083.7 L768,1083.5 L771,1083.4 L774,1083.3 L777,1083.1 L780,1083 L783,1082.8 L786,1082.7 L789,1082.5 L792,1082.4 L795,1082.2 L798,1082 L801,1081.9 L804,1081.7 L807,1081.6 L810,1081.4 L813,1081.2 L816,1081.1 L819,1080.9 L822,1080.7 L825,1080.6 L828,1080.4 L831,1080.2 L834,1080 L837,1079.8 L840,1079.6 L843,1079.5 L846,1079.3 L849,1079.1 L852,1078.9 L855,1078.7 L858,1078.5 L861,1078.3 L864,1078.1 L867,1077.9 L870,1077.6 L873,1077.4 L876,1077.2 L879,1077 L882,1076.8 L885,1076.5 L888,1076.3 L891,1076.1 L894,1075.8 L897,1075.6 L900,1075.4 L903,1075.1 L906,1074.9 L909,1074.6 L912,1074.4 L915,1074.1 L918,1073.8 L921,1073.6 L924,1073.3 L927,1073 L930,1072.7 L933,1072.4 L936,1072.2 L939,1071.9 L942,1071.6 L945,1071.3 L948,1070.9 L951,1070.6 L954,1070.3 L957,1070 L960,1069.7 L963,1069.3 L966,1069 L969,1068.6 L972,1068.3 L975,1067.9 L978,1067.6 L981,1067.2 L984,1066.8 L987,1066.4 L990,1066 L993,1065.7 L996,1065.2 L999,1064.8 L1002,1064.4 L1005,1064 L1008,1063.6 L1011,1063.1 L1014,1062.7 L1017,1062.2 L1020,1061.7 L1023,1061.3 L1026,1060.8 L1029,1060.3 L1032,1059.8 L1035,1059.3 L1038,1058.7 L1041,1058.2 L1044,1057.7 L1047,1057.1 L1050,1056.5 L1053,1056 L1056,1055.4 L1059,1054.8 L1062,1054.1 L1065,1053.5 L1068,1052.9 L1071,1052.2 L1074,1051.5 L1077,1050.9 L1080,1050.2 L1083,1049.5 L1086,1048.7 L1089,1048 L1092,1047.2 L1095,1046.4 L1098,1045.6 L1101,1044.8 L1104,1044 L1107,1043.2 L1110,1042.3 L1113,1041.4 L1116,1040.5 L1119,1039.6 L1122,1038.6 L1125,1037.6 L1128,1036.7 L1131,1035.6 L1134,1034.6 L1137,1033.5 L1140,1032.5 L1143,1031.3 L1146,1030.2 L1149,1029 L1152,1027.9 L1155,1026.6 L1158,1025.4 L1161,1024.1 L1164,1022.8 L1167,1021.5 L1170,1020.2 L1173,1018.8 L1176,1017.3 L1179,1015.9 L1182,1014.4 L1185,1012.9 L1188,1011.3 L1191,1009.8 L1194,1008.1 L1197,1006.5 L1200,1004.8 L1203,1003.1 L1206,1001.3 L1209,999.5 L1212,997.6 L1215,995.8 L1218,993.8 L1221,991.9 L1224,989.9 L1227,987.8 L1230,985.7 L1233,983.6 L1236,981.4 L1239,979.2 L1242,976.9 L1245,974.6 L1248,972.3 L1251,969.9 L1254,967.4 L1257,964.9 L1260,962.4 L1263,959.8 L1266,957.2 L1269,954.5 L1272,951.7 L1275,949 L1278,946.1 L1281,943.3 L1284,940.3 L1287,937.3 L1290,934.3 L1293,931.2 L1296,928.1 L1299,924.9 L1302,921.7 L1305,918.4 L1308,915.1 L1311,911.7 L1314,908.3 L1317,904.8 L1320,901.3 L1323,897.7 L1326,894.1 L1329,890.5 L1332,886.8 L1335,883.1 L1338,879.3 L1341,875.5 L1344,871.6 L1347,867.7 L1350,863.8 L1353,859.9 L1356,855.9 L1359,851.9 L1362,847.8 L1365,843.8 L1368,839.7 L1371,835.7 L1374,831.6 L1377,827.5 L1380,823.4 L1383,819.3 L1386,815.2 L1389,811.2 L1392,807.1 L1395,803.1 L1398,799.1 L1401,795.2 L1404,791.3 L1407,787.4 L1410,783.6 L1413,779.8 L1416,776.2 L1419,772.5 L1422,769 L1425,765.6 L1428,762.3 L1431,759 L1434,755.9 L1437,752.9 L1440,750.1 L1443,747.3 L1446,744.7 L1449,742.3 L1452,740 L1455,737.9 L1458,735.9 L1461,734.1 L1464,732.5 L1467,731.1 L1470,729.8 L1473,728.7 L1476,727.8 L1479,727.2 L1482,726.7 L1485,726.4 L1488,726.2 L1491,726.3 L1494,726.6 L1497,727.1 L1500,727.7 L1503,728.6 L1506,729.6 L1509,730.8 L1512,732.1 L1515,733.7 L1518,735.4 L1521,737.2 L1524,739.2 L1527,741.4 L1530,743.7 L1533,746.1 L1536,748.6 L1539,751.3 L1542,754.1 L1545,756.9 L1548,759.9 L1551,763 L1554,766.1 L1557,769.3 L1560,772.6 L1563,775.9 L1566,779.3 L1569,782.8 L1572,786.2 L1575,789.7 L1578,793.3 L1581,796.9 L1584,800.4 L1587,804 L1590,807.7 L1593,811.3 L1596,814.9 L1599,818.5 L1602,822.1 L1605,825.7 L1608,829.2 L1611,832.8 L1614,836.3 L1617,839.9 L1620,843.3 L1623,846.8 L1626,850.2 L1629,853.6 L1632,857 L1635,860.3 L1638,863.6 L1641,866.8 L1644,870 L1647,873.2 L1650,876.3 L1653,879.4 L1656,882.5 L1659,885.5 L1662,888.4 L1665,891.3 L1668,894.2 L1671,897 L1674,899.8 L1677,902.5 L1680,905.2 L1683,907.8 L1686,910.4 L1689,912.9 L1692,915.4 L1695,917.9 L1698,920.3 L1701,922.6 L1704,924.9 L1707,927.2 L1710,929.4 L1713,931.6 L1716,933.7 L1719,935.8 L1722,937.9 L1725,939.9 L1728,941.9 L1731,943.8 L1734,945.7 L1737,947.5 L1740,949.3 L1743,951.1 L1746,952.8 L1749,954.5 L1752,956.2 L1755,957.8 L1758,959.4 L1761,960.9 L1764,962.4 L1767,963.9 L1770,965.4 L1773,966.8 L1776,968.1 L1779,969.5 L1782,970.8 L1785,972.1 L1788,973.4 L1791,974.6 L1794,975.8 L1797,977 L1800,978.1 L1803,979.2 L1806,980.3 L1809,981.4 L1812,982.4 L1815,983.4 L1818,984.4 L1821,985.4 L1824,986.3 L1827,987.2 L1830,988.2 L1833,989 L1836,989.9 L1839,990.7 L1842,991.5 L1845,992.3 L1848,993.1 L1851,993.9 L1854,994.6 L1857,995.4 L1860,996.1 L1863,996.8 L1866,997.4 L1869,998.1 L1872,998.8 L1875,999.4 L1878,1000 L1881,1000.6 L1884,1001.2 L1887,1001.8 L1890,1002.3 L1893,1002.9 L1896,1003.4 L1899,1004 L1902,1004.5 L1905,1005 L1908,1005.5 L1911,1006 L1914,1006.4 L1917,1006.9 L1920,1007.3 L1923,1007.8 L1926,1008.2 L1929,1008.6 L1932,1009.1 L1935,1009.5 L1938,1009.9 L1941,1010.3 L1944,1010.6 L1947,1011 L1950,1011.4 L1953,1011.8 L1956,1012.1 L1959,1012.5 L1962,1012.8 L1965,1013.1 L1968,1013.5 L1971,1013.8 L1974,1014.1 L1977,1014.4 L1980,1014.7 L1983,1015 L1986,1015.3 L1989,1015.6 L1992,1015.9 L1995,1016.2 L1998,1016.4 L2001,1016.7 L2004,1017 L2007,1017.2 L2010,1017.5 L2013,1017.7 L2016,1018 L2019,1018.2 L2022,1018.5 L2025,1018.7 L2028,1018.9 L2031,1019.2 L2034,1019.4 L2037,1019.6 L2040,1019.8 L2043,1020 L2046,1020.2 L2049,1020.4 L2052,1020.6 L2055,1020.8 L2058,1021 L2061,1021.2 L2064,1021.4 L2067,1021.6 L2070,1021.8 L2073,1022 L2076,1022.2 L2079,1022.3 L2082,1022.5 L2085,1022.7 L2088,1022.9 L2091,1023 L2094,1023.2 L2097,1023.4 L2100,1023.5 L2103,1023.7 L2106,1023.8 L2109,1024 L2112,1024.1 L2115,1024.3 L2118,1024.4 L2121,1024.6 L2124,1024.7 L2127,1024.9 L2130,1025 L2133,1025.2 L2136,1025.3 L2139,1025.4 L2142,1025.6 L2145,1025.7 L2148,1025.8 L2151,1025.9 L2154,1026.1 L2157,1026.2 L2160,1026.3 L2163,1026.4 L2166,1026.6 L2169,1026.7 L2172,1026.8 L2175,1026.9 L2177,1027" stroke="#0000ff" stroke-width="4.2"/>
<path d="M171,1097 L173,1097 L175,1097 L177,1097 L179,1097 L181,1097 L183,1097 L185,1097 L187,1097 L189,1097 L191,1097 L193,1097 L195,1097 L197,1097 L199,1097 L201,1097 L203,1097 L205,1097 L207,1097 L209,1097 L211,1097 L213,1097 L215,1097 L217,1097 L219,1097 L221,1097 L223,1097 L225,1097 L227,1097 L229,1097 L231,1097 L233,1097 L235,1097 L237,1097 L239,1097 L241,1097 L243,1097 L245,1096.9 L247,1096.9 L249,1096.9 L251,1096.9 L253,1096.9 L255,1096.9 L257,1096.9 L259,1096.9 L261,1096.9 L263,1096.9 L265,1096.9 L267,1096.9 L269,1096.9 L271,1096.9 L273,1096.9 L275,1096.9 L277,1096.9 L279,1096.9 L281,1096.9 L283,1096.9 L285,1096.9 L287,1096.9 L289,1096.9 L291,1096.9 L293,1096.9 L295,1096.9 L297,1096.9 L299,1096.8 L301,1096.8 L303,1096.8 L305,1096.8 L307,1096.8 L309,1096.8 L311,1096.8 L313,1096.8 L315,1096.8 L317,1096.8 L319,1096.8 L321,1096.8 L323,1096.8 L325,1096.8 L327,1096.8 L329,1096.8 L331,1096.8 L333,1096.8 L335,1096.8 L337,1096.7 L339,1096.7 L341,1096.7 L343,1096.7 L345,1096.7 L347,1096.7 L349,1096.7 L351,1096.7 L353,1096.7 L355,1096.7 L357,1096.7 L359,1096.7 L361,1096.7 L363,1096.7 L365,1096.7 L367,1096.6 L369,1096.6 L371,1096.6 L373,1096.6 L375,1096.6 L377,1096.6 L379,1096.6 L381,1096.6 L383,1096.6 L385,1096.6 L387,1096.6 L389,1096.6 L391,1096.6 L393,1096.5 L395,1096.5 L397,1096.5 L399,1096.5 L401,1096.5 L403,1096.5 L405,1096.5 L407,1096.5 L409,1096.5 L411,1096.5 L413,1096.5 L415,1096.4 L417,1096.4 L419,1096.4 L421,1096.4 L423,1096.4 L425,1096.4 L427,1096.4 L429,1096.4 L431,1096.4 L433,1096.4 L435,1096.4 L437,1096.3 L439,1096.3 L441,1096.3 L443,1096.3 L445,1096.3 L447,1096.3 L449,1096.3 L451,1096.3 L453,1096.3 L455,1096.3 L457,1096.2 L459,1096.2 L461,1096.2 L463,1096.2 L465,1096.2 L467,1096.2 L469,1096.2 L471,1096.2 L473,1096.2 L475,1096.1 L477,1096.1 L479,1096.1 L481,1096.1 L483,1096.1 L485,1096.1 L487,1096.1 L489,1096.1 L491,1096.1 L493,1096 L495,1096 L497,1096 L499,1096 L501,1096 L503,1096 L505,1096 L507,1095.9 L509,1095.9 L511,1095.9 L513,1095.9 L515,1095.9 L517,1095.9 L519,1095.8 L521,1095.8 L523,1095.8 L525,1095.7 L527,1095.7 L529,1095.7 L531,1095.7 L533,1095.6 L535,1095.6 L537,1095.6 L539,1095.5 L541,1095.5 L543,1095.4 L545,1095.4 L547,1095.4 L549,1095.3 L551,1095.3 L553,1095.2 L555,1095.2 L557,1095.1 L559,1095.1 L561,1095 L563,1095 L565,1094.9 L567,1094.9 L569,1094.8 L571,1094.8 L573,1094.7 L575,1094.6 L577,1094.6 L579,1094.5 L581,1094.4 L583,1094.4 L585,1094.3 L587,1094.2 L589,1094.2 L591,1094.1 L593,1094 L595,1094 L597,1093.9 L599,1093.8 L601,1093.7 L603,1093.6 L605,1093.6 L607,1093.5 L609,1093.4 L611,1093.3 L613,1093.2 L615,1093.1 L617,1093 L619,1092.9 L621,1092.9 L623,1092.8 L625,1092.7 L627,1092.6 L629,1092.5 L631,1092.4 L633,1092.3 L635,1092.2 L637,1092.1 L639,1092 L641,1091.8 L643,1091.7 L645,1091.6 L647,1091.5 L649,1091.4 L651,1091.3 L653,1091.2 L655,1091.1 L657,1090.9 L659,1090.8 L661,1090.7 L663,1090.6 L665,1090.4 L667,1090.3 L669,1090.2 L671,1090.1 L673,1089.9 L675,1089.8 L677,1089.7 L679,1089.5 L681,1089.4 L683,1089.2 L685,1089.1 L687,1089 L689,1088.8 L691,1088.7 L693,1088.5 L695,1088.4 L697,1088.2 L699,1088.1 L701,1087.9 L703,1087.7 L705,1087.5 L707,1087.3 L709,1087 L711,1086.7 L713,1086.4 L715,1086.1 L717,1085.7 L719,1085.3 L721,1084.9 L723,1084.5 L725,1084.1 L727,1083.6 L729,1083.2 L731,1082.7 L733,1082.2 L735,1081.7 L737,1081.2 L739,1080.7 L741,1080.2 L743,1079.7 L745,1079.2 L747,1078.7 L749,1078.2 L751,1077.7 L753,1077.2 L755,1076.7 L757,1076.2 L759,1075.7 L761,1075.3 L763,1074.8 L765,1074.3 L767,1073.8 L769,1073.2 L771,1072.7 L773,1072.3 L775,1071.8 L777,1071.3 L779,1070.8 L781,1070.4 L783,1069.9 L785,1069.5 L787,1069 L789,1068.6 L791,1068.1 L793,1067.7 L795,1067.3 L797,1066.8 L799,1066.4 L801,1066 L803,1065.5 L805,1065.1 L807,1064.7 L809,1064.2 L811,1063.8 L813,1063.4 L815,1062.9 L817,1062.5 L819,1062 L821,1061.6 L823,1061.1 L825,1060.7 L827,1060.2 L829,1059.7 L831,1059.2 L833,1058.8 L835,1058.3 L837,1057.8 L839,1057.3 L841,1056.7 L843,1056.2 L845,1055.7 L847,1055.1 L849,1054.6 L851,1054 L853,1053.4 L855,1052.8 L857,1052.2 L859,1051.5 L861,1050.8 L863,1050.1 L865,1049.4 L867,1048.7 L869,1047.9 L871,1047.2 L873,1046.5 L875,1045.8 L877,1045 L879,1044.3 L881,1043.6 L883,1042.9 L885,1042.2 L887,1041.5 L889,1040.8 L891,1040.1 L893,1039.4 L895,1038.7 L897,1038 L899,1037.3 L901,1036.6 L903,1035.9 L905,1035.2 L907,1034.5 L909,1033.8 L911,1033 L913,1032.3 L915,1031.6 L917,1030.9 L919,1030.1 L921,1029.4 L923,1028.6 L925,1027.9 L927,1027.1 L929,1026.4 L931,1025.6 L933,1024.8 L935,1024.1 L937,1023.3 L939,1022.5 L941,1021.7 L943,1021 L945,1020.2 L947,1019.4 L949,1018.6 L951,1017.8 L953,1017 L955,1016.2 L957,1015.4 L959,1014.6 L961,1013.8 L963,1012.9 L965,1012.1 L967,1011.3 L969,1010.4 L971,1009.6 L973,1008.7 L975,1007.9 L977,1007 L979,1006.1 L981,1005.2 L983,1004.3 L985,1003.4 L987,1002.4 L989,1001.5 L991,1000.5 L993,999.6 L995,998.5 L997,997.5 L999,996.4 L1001,995.2 L1003,994.1 L1005,992.9 L1007,991.7 L1009,990.4 L1011,989.2 L1013,987.9 L1015,986.6 L1017,985.4 L1019,984.1 L1021,982.9 L1023,981.8 L1025,980.6 L1027,979.5 L1029,978.5 L1031,977.5 L1033,976.5 L1035,975.5 L1037,974.6 L1039,973.7 L1041,972.7 L1043,971.8 L1045,971 L1047,970.1 L1049,969.2 L1051,968.3 L1053,967.4 L1055,966.5 L1057,965.6 L1059,964.7 L1061,963.9 L1063,963.1 L1065,962.2 L1067,961.4 L1069,960.5 L1071,959.7 L1073,958.8 L1075,957.9 L1077,956.9 L1079,955.9 L1081,954.8 L1083,953.7 L1085,952.6 L1087,951.4 L1089,950.1 L1091,948.9 L1093,947.6 L1095,946.3 L1097,945.1 L1099,943.8 L1101,942.4 L1103,941.1 L1105,939.7 L1107,938.3 L1109,936.9 L1111,935.5 L1113,934.1 L1115,932.7 L1117,931.4 L1119,930.1 L1121,928.9 L1123,927.7 L1125,926.6 L1127,925.5 L1129,924.5 L1131,923.5 L1133,922.5 L1135,921.4 L1137,920.3 L1139,919.2 L1141,918 L1143,916.7 L1145,915.2 L1147,913.7 L1149,912 L1151,910.3 L1153,908.4 L1155,906.5 L1157,904.5 L1159,902.4 L1161,900.3 L1163,898.2 L1165,896 L1167,893.8 L1169,891.6 L1171,889.2 L1173,886.8 L1175,884.3 L1177,881.7 L1179,879.1 L1181,876.5 L1183,873.9 L1185,871.2 L1187,868.6 L1189,865.9 L1191,863.2 L1193,860.4 L1195,857.6 L1197,854.8 L1199,852.1 L1201,849.4 L1203,846.8 L1205,844.2 L1207,841.9 L1209,839.5 L1211,837.3 L1213,835.1 L1215,832.9 L1217,830.8 L1219,828.7 L1221,826.6 L1223,824.5 L1225,822.5 L1227,820.4 L1229,818.4 L1231,816.3 L1233,814.2 L1235,812.1 L1237,810 L1239,808 L1241,805.9 L1243,803.8 L1245,801.8 L1247,799.7 L1249,797.7 L1251,795.6 L1253,793.6 L1255,791.5 L1257,789.4 L1259,787.3 L1261,785.2 L1263,783.1 L1265,781 L1267,778.9 L1269,776.8 L1271,774.7 L1273,772.5 L1275,770.4 L1277,768.2 L1279,766.1 L1281,763.8 L1283,761.6 L1285,759.3 L1287,756.9 L1289,754.4 L1291,751.8 L1293,749.3 L1295,746.9 L1297,744.6 L1299,742.6 L1301,740.7 L1303,738.9 L1305,737.2 L1307,735.6 L1309,734 L1311,732.5 L1313,731 L1315,729.5 L1317,728 L1319,726.5 L1321,725 L1323,723.5 L1325,721.9 L1327,720.3 L1329,718.7 L1331,717 L1333,715.2 L1335,713.5 L1337,711.8 L1339,710.1 L1341,708.4 L1343,706.7 L1345,705.1 L1347,703.6 L1349,702.1 L1351,700.7 L1353,699.3 L1355,698 L1357,696.7 L1359,695.4 L1361,694.2 L1363,693 L1365,691.9 L1367,691 L1369,690.1 L1371,689.4 L1373,688.7 L1375,688.1 L1377,687.5 L1379,686.9 L1381,686.4 L1383,685.9 L1385,685.3 L1387,684.7 L1389,684.1 L1391,683.5 L1393,682.9 L1395,682.3 L1397,681.7 L1399,681.1 L1401,680.5 L1403,679.8 L1405,679.2 L1407,678.6 L1409,678.1 L1411,677.5 L1413,676.9 L1415,676.4 L1417,675.8 L1419,675.2 L1421,674.6 L1423,674 L1425,673.4 L1427,672.9 L1429,672.5 L1431,672.1 L1433,671.8 L1435,671.5 L1437,671.3 L1439,671.1 L1441,670.9 L1443,670.8 L1445,670.6 L1447,670.5 L1449,670.4 L1451,670.4 L1453,670.4 L1455,670.4 L1457,670.4 L1459,670.5 L1461,670.5 L1463,670.5 L1465,670.6 L1467,670.7 L1469,670.7 L1471,670.8 L1473,671.3 L1475,672.1 L1477,673.2 L1479,674.5 L1481,675.9 L1483,677.3 L1485,678.5 L1487,679.7 L1489,681 L1491,682.3 L1493,683.7 L1495,685.1 L1497,686.5 L1499,687.9 L1501,689.5 L1503,691 L1505,692.7 L1507,694.3 L1509,696 L1511,697.6 L1513,699.3 L1515,700.9 L1517,702.4 L1519,703.9 L1521,705.3 L1523,706.7 L1525,708 L1527,709.4 L1529,710.7 L1531,712.1 L1533,713.5 L1535,714.9 L1537,716.4 L1539,717.9 L1541,719.4 L1543,720.9 L1545,722.4 L1547,724 L1549,725.7 L1551,727.4 L1553,729.1 L1555,730.8 L1557,732.6 L1559,734.4 L1561,736.3 L1563,738.2 L1565,740 L1567,742 L1569,743.9 L1571,745.9 L1573,747.9 L1575,749.9 L1577,752 L1579,754.1 L1581,756.2 L1583,758.3 L1585,760.4 L1587,762.6 L1589,764.8 L1591,767.1 L1593,769.5 L1595,772 L1597,774.5 L1599,776.9 L1601,779.4 L1603,781.8 L1605,784.2 L1607,786.5 L1609,788.7 L1611,791 L1613,793.2 L1615,795.4 L1617,797.5 L1619,799.7 L1621,801.9 L1623,804 L1625,806.2 L1627,808.3 L1629,810.4 L1631,812.5 L1633,814.6 L1635,816.7 L1637,818.8 L1639,820.9 L1641,822.9 L1643,825 L1645,827 L1647,829.1 L1649,831.1 L1651,833.1 L1653,835 L1655,837 L1657,839 L1659,841.1 L1661,843.1 L1663,845.2 L1665,847.3 L1667,849.4 L1669,851.6 L1671,853.7 L1673,855.9 L1675,858 L1677,860 L1679,862 L1681,863.9 L1683,865.8 L1685,867.7 L1687,869.4 L1689,871.2 L1691,873 L1693,874.7 L1695,876.4 L1697,878 L1699,879.7 L1701,881.4 L1703,883 L1705,884.6 L1707,886.2 L1709,887.9 L1711,889.5 L1713,891 L1715,892.6 L1717,894.2 L1719,895.8 L1721,897.3 L1723,898.9 L1725,900.4 L1727,901.9 L1729,903.4 L1731,905 L1733,906.5 L1735,908 L1737,909.5 L1739,911 L1741,912.5 L1743,913.9 L1745,915.4 L1747,916.9 L1749,918.4 L1751,919.8 L1753,921.3 L1755,922.7 L1757,924.2 L1759,925.6 L1761,927 L1763,928.4 L1765,929.8 L1767,931.2 L1769,932.6 L1771,933.9 L1773,935.3 L1775,936.7 L1777,938.1 L1779,939.5 L1781,940.9 L1783,942.2 L1785,943.6 L1787,945 L1789,946.4 L1791,947.8 L1793,949.3 L1795,950.7 L1797,952.1 L1799,953.5 L1801,954.9 L1803,956.3 L1805,957.7 L1807,959.1 L1809,960.5 L1811,961.9 L1813,963.3 L1815,964.6 L1817,966 L1819,967.4 L1821,968.8 L1823,970.1 L1825,971.5 L1827,972.9 L1829,974.3 L1831,975.7 L1833,977.1 L1835,978.5 L1837,979.9 L1839,981.3 L1841,982.6 L1843,984 L1845,985.3 L1847,986.6 L1849,987.8 L1851,989.1 L1853,990.2 L1855,991.4 L1857,992.5 L1859,993.6 L1861,994.7 L1863,995.7 L1865,996.8 L1867,997.8 L1869,998.8 L1871,999.8 L1873,1000.7 L1875,1001.7 L1877,1002.6 L1879,1003.6 L1881,1004.5 L1883,1005.5 L1885,1006.4 L1887,1007.4 L1889,1008.4 L1891,1009.3 L1893,1010.3 L1895,1011.4 L1897,1012.4 L1899,1013.5 L1901,1014.5 L1903,1015.6 L1905,1016.6 L1907,1017.6 L1909,1018.6 L1911,1019.6 L1913,1020.5 L1915,1021.4 L1917,1022.2 L1919,1023 L1921,1023.7 L1923,1024.3 L1925,1024.9 L1927,1025.4 L1929,1026 L1931,1026.5 L1933,1026.9 L1935,1027.4 L1937,1027.8 L1939,1028.3 L1941,1028.7 L1943,1029.1 L1945,1029.4 L1947,1029.8 L1949,1030.1 L1951,1030.5 L1953,1030.8 L1955,1031.1 L1957,1031.4 L1959,1031.6 L1961,1031.9 L1963,1032.2 L1965,1032.4 L1967,1032.6 L1969,1032.8 L1971,1033 L1973,1033.3 L1975,1033.4 L1977,1033.6 L1979,1033.8 L1981,1034 L1983,1034.2 L1985,1034.4 L1987,1034.6 L1989,1034.7 L1991,1034.9 L1993,1035.1 L1995,1035.3 L1997,1035.5 L1999,1035.7 L2001,1035.9 L2003,1036.1 L2005,1036.3 L2007,1036.5 L2009,1036.7 L2011,1036.9 L2013,1037.1 L2015,1037.3 L2017,1037.5 L2019,1037.6 L2021,1037.8 L2023,1038 L2025,1038.2 L2027,1038.4 L2029,1038.6 L2031,1038.8 L2033,1039 L2035,1039.2 L2037,1039.4 L2039,1039.6 L2041,1039.8 L2043,1040.1 L2045,1040.3 L2047,1040.5 L2049,1040.7 L2051,1041 L2053,1041.2 L2055,1041.5 L2057,1041.8 L2059,1042.1 L2061,1042.4 L2063,1042.8 L2065,1043.1 L2067,1043.4 L2069,1043.8 L2071,1044.1 L2073,1044.4 L2075,1044.7 L2077,1045.1 L2079,1045.3 L2081,1045.6 L2083,1045.9 L2085,1046.1 L2087,1046.3 L2089,1046.5 L2091,1046.7 L2093,1046.8 L2095,1046.9 L2097,1047 L2099,1047 L2101,1047 L2103,1047 L2105,1047 L2107,1047 L2109,1047 L2111,1047 L2113,1047 L2115,1047 L2117,1047 L2119,1047 L2121,1047 L2123,1047 L2125,1047 L2127,1047 L2129,1047 L2131,1047 L2133,1047 L2135,1047 L2137,1047 L2139,1047 L2141,1047 L2143,1047 L2145,1047 L2147,1047 L2149,1047 L2151,1047 L2153,1047 L2155,1047 L2157,1047 L2159,1047 L2161,1047 L2163,1047 L2165,1047 L2167,1047 L2169,1047 L2171,1047 L2173,1047 L2175,1047 L2177,1047" stroke="#6e6e6e" stroke-width="2.0"/>
<path d="M171,1092.6 L174,1092.6 L177,1092.5 L180,1092.5 L183,1092.4 L186,1092.4 L189,1092.3 L192,1092.3 L195,1092.2 L198,1092.2 L201,1092.1 L204,1092.1 L207,1092.1 L210,1092 L213,1092 L216,1091.9 L219,1091.9 L222,1091.8 L225,1091.7 L228,1091.7 L231,1091.6 L234,1091.6 L237,1091.5 L240,1091.5 L243,1091.4 L246,1091.4 L249,1091.3 L252,1091.3 L255,1091.2 L258,1091.2 L261,1091.1 L264,1091 L267,1091 L270,1090.9 L273,1090.9 L276,1090.8 L279,1090.8 L282,1090.7 L285,1090.6 L288,1090.6 L291,1090.5 L294,1090.5 L297,1090.4 L300,1090.3 L303,1090.3 L306,1090.2 L309,1090.1 L312,1090.1 L315,1090 L318,1090 L321,1089.9 L324,1089.8 L327,1089.8 L330,1089.7 L333,1089.6 L336,1089.6 L339,1089.5 L342,1089.4 L345,1089.3 L348,1089.3 L351,1089.2 L354,1089.1 L357,1089.1 L360,1089 L363,1088.9 L366,1088.8 L369,1088.8 L372,1088.7 L375,1088.6 L378,1088.5 L381,1088.5 L384,1088.4 L387,1088.3 L390,1088.2 L393,1088.1 L396,1088.1 L399,1088 L402,1087.9 L405,1087.8 L408,1087.7 L411,1087.7 L414,1087.6 L417,1087.5 L420,1087.4 L423,1087.3 L426,1087.2 L429,1087.1 L432,1087 L435,1087 L438,1086.9 L441,1086.8 L444,1086.7 L447,1086.6 L450,1086.5 L453,1086.4 L456,1086.3 L459,1086.2 L462,1086.1 L465,1086 L468,1085.9 L471,1085.8 L474,1085.7 L477,1085.6 L480,1085.5 L483,1085.4 L486,1085.3 L489,1085.2 L492,1085.1 L495,1085 L498,1084.9 L501,1084.7 L504,1084.6 L507,1084.5 L510,1084.4 L513,1084.3 L516,1084.2 L519,1084.1 L522,1083.9 L525,1083.8 L528,1083.7 L531,1083.6 L534,1083.5 L537,1083.3 L540,1083.2 L543,1083.1 L546,1082.9 L549,1082.8 L552,1082.7 L555,1082.6 L558,1082.4 L561,1082.3 L564,1082.1 L567,1082 L570,1081.9 L573,1081.7 L576,1081.6 L579,1081.4 L582,1081.3 L585,1081.1 L588,1081 L591,1080.8 L594,1080.7 L597,1080.5 L600,1080.4 L603,1080.2 L606,1080.1 L609,1079.9 L612,1079.7 L615,1079.6 L618,1079.4 L621,1079.3 L624,1079.1 L627,1078.9 L630,1078.7 L633,1078.6 L636,1078.4 L639,1078.2 L642,1078 L645,1077.8 L648,1077.6 L651,1077.5 L654,1077.3 L657,1077.1 L660,1076.9 L663,1076.7 L666,1076.5 L669,1076.3 L672,1076.1 L675,1075.9 L678,1075.7 L681,1075.4 L684,1075.2 L687,1075 L690,1074.8 L693,1074.6 L696,1074.3 L699,1074.1 L702,1073.9 L705,1073.6 L708,1073.4 L711,1073.1 L714,1072.9 L717,1072.7 L720,1072.4 L723,1072.1 L726,1071.9 L729,1071.6 L732,1071.3 L735,1071.1 L738,1070.8 L741,1070.5 L744,1070.2 L747,1069.9 L750,1069.7 L753,1069.4 L756,1069.1 L759,1068.7 L762,1068.4 L765,1068.1 L768,1067.8 L771,1067.5 L774,1067.1 L777,1066.8 L780,1066.5 L783,1066.1 L786,1065.8 L789,1065.4 L792,1065 L795,1064.7 L798,1064.3 L801,1063.9 L804,1063.5 L807,1063.1 L810,1062.7 L813,1062.3 L816,1061.9 L819,1061.4 L822,1061 L825,1060.6 L828,1060.1 L831,1059.6 L834,1059.2 L837,1058.7 L840,1058.2 L843,1057.7 L846,1057.2 L849,1056.7 L852,1056.2 L855,1055.6 L858,1055.1 L861,1054.5 L864,1054 L867,1053.4 L870,1052.8 L873,1052.2 L876,1051.6 L879,1050.9 L882,1050.3 L885,1049.6 L888,1049 L891,1048.3 L894,1047.6 L897,1046.9 L900,1046.2 L903,1045.4 L906,1044.7 L909,1043.9 L912,1043.1 L915,1042.3 L918,1041.5 L921,1040.6 L924,1039.8 L927,1038.9 L930,1038 L933,1037.1 L936,1036.2 L939,1035.2 L942,1034.2 L945,1033.2 L948,1032.2 L951,1031.2 L954,1030.1 L957,1029.1 L960,1028 L963,1026.8 L966,1025.7 L969,1024.5 L972,1023.3 L975,1022.1 L978,1020.8 L981,1019.6 L984,1018.3 L987,1016.9 L990,1015.6 L993,1014.2 L996,1012.8 L999,1011.3 L1002,1009.9 L1005,1008.4 L1008,1006.8 L1011,1005.3 L1014,1003.7 L1017,1002.1 L1020,1000.4 L1023,998.7 L1026,997 L1029,995.3 L1032,993.5 L1035,991.7 L1038,989.8 L1041,987.9 L1044,986 L1047,984.1 L1050,982.1 L1053,980 L1056,978 L1059,975.9 L1062,973.7 L1065,971.6 L1068,969.4 L1071,967.1 L1074,964.8 L1077,962.5 L1080,960.2 L1083,957.8 L1086,955.3 L1089,952.9 L1092,950.4 L1095,947.8 L1098,945.2 L1101,942.6 L1104,940 L1107,937.3 L1110,934.5 L1113,931.8 L1116,929 L1119,926.1 L1122,923.3 L1125,920.4 L1128,917.4 L1131,914.5 L1134,911.5 L1137,908.5 L1140,905.4 L1143,902.3 L1146,899.2 L1149,896.1 L1152,893 L1155,889.8 L1158,886.6 L1161,883.4 L1164,880.2 L1167,876.9 L1170,873.7 L1173,870.4 L1176,867.1 L1179,863.9 L1182,860.6 L1185,857.3 L1188,854.1 L1191,850.8 L1194,847.6 L1197,844.3 L1200,841.1 L1203,837.9 L1206,834.7 L1209,831.5 L1212,828.4 L1215,825.2 L1218,822.2 L1221,819.1 L1224,816.1 L1227,813.1 L1230,810.2 L1233,807.2 L1236,804.4 L1239,801.6 L1242,798.8 L1245,796.1 L1248,793.4 L1251,790.7 L1254,788.2 L1257,785.6 L1260,783.1 L1263,780.7 L1266,778.3 L1269,775.9 L1272,773.6 L1275,771.3 L1278,769.1 L1281,766.9 L1284,764.7 L1287,762.6 L1290,760.5 L1293,758.4 L1296,756.4 L1299,754.4 L1302,752.4 L1305,750.4 L1308,748.4 L1311,746.5 L1314,744.5 L1317,742.6 L1320,740.7 L1323,738.7 L1326,736.8 L1329,734.9 L1332,732.9 L1335,731 L1338,729 L1341,727 L1344,725.1 L1347,723.1 L1350,721.1 L1353,719 L1356,717 L1359,714.9 L1362,712.9 L1365,710.8 L1368,708.7 L1371,706.6 L1374,704.5 L1377,702.4 L1380,700.2 L1383,698.1 L1386,696 L1389,693.8 L1392,691.7 L1395,689.6 L1398,687.5 L1401,685.5 L1404,683.4 L1407,681.4 L1410,679.5 L1413,677.5 L1416,675.7 L1419,673.9 L1422,672.1 L1425,670.4 L1428,668.8 L1431,667.3 L1434,665.9 L1437,664.5 L1440,663.3 L1443,662.2 L1446,661.2 L1449,660.3 L1452,659.6 L1455,659 L1458,658.5 L1461,658.2 L1464,658 L1467,658 L1470,658.1 L1473,658.4 L1476,658.9 L1479,659.5 L1482,660.3 L1485,661.3 L1488,662.4 L1491,663.8 L1494,665.2 L1497,666.9 L1500,668.7 L1503,670.7 L1506,672.8 L1509,675.1 L1512,677.6 L1515,680.1 L1518,682.9 L1521,685.7 L1524,688.7 L1527,691.8 L1530,695.1 L1533,698.4 L1536,701.9 L1539,705.4 L1542,709.1 L1545,712.8 L1548,716.6 L1551,720.4 L1554,724.4 L1557,728.4 L1560,732.4 L1563,736.5 L1566,740.6 L1569,744.7 L1572,748.9 L1575,753.1 L1578,757.3 L1581,761.5 L1584,765.7 L1587,769.9 L1590,774.1 L1593,778.3 L1596,782.5 L1599,786.7 L1602,790.8 L1605,794.9 L1608,799 L1611,803.1 L1614,807.1 L1617,811.1 L1620,815.1 L1623,819 L1626,822.9 L1629,826.7 L1632,830.5 L1635,834.2 L1638,837.9 L1641,841.6 L1644,845.2 L1647,848.7 L1650,852.2 L1653,855.7 L1656,859.1 L1659,862.4 L1662,865.7 L1665,868.9 L1668,872.1 L1671,875.2 L1674,878.3 L1677,881.3 L1680,884.3 L1683,887.2 L1686,890.1 L1689,892.9 L1692,895.7 L1695,898.4 L1698,901.1 L1701,903.7 L1704,906.2 L1707,908.7 L1710,911.2 L1713,913.6 L1716,916 L1719,918.3 L1722,920.6 L1725,922.8 L1728,925 L1731,927.1 L1734,929.2 L1737,931.2 L1740,933.2 L1743,935.2 L1746,937.1 L1749,939 L1752,940.8 L1755,942.6 L1758,944.3 L1761,946.1 L1764,947.7 L1767,949.4 L1770,951 L1773,952.5 L1776,954.1 L1779,955.6 L1782,957 L1785,958.5 L1788,959.9 L1791,961.2 L1794,962.6 L1797,963.9 L1800,965.2 L1803,966.4 L1806,967.6 L1809,968.8 L1812,970 L1815,971.1 L1818,972.3 L1821,973.3 L1824,974.4 L1827,975.4 L1830,976.5 L1833,977.5 L1836,978.4 L1839,979.4 L1842,980.3 L1845,981.2 L1848,982.1 L1851,983 L1854,983.8 L1857,984.6 L1860,985.4 L1863,986.2 L1866,987 L1869,987.8 L1872,988.5 L1875,989.2 L1878,989.9 L1881,990.6 L1884,991.3 L1887,992 L1890,992.6 L1893,993.3 L1896,993.9 L1899,994.5 L1902,995.1 L1905,995.7 L1908,996.3 L1911,996.8 L1914,997.4 L1917,997.9 L1920,998.4 L1923,999 L1926,999.5 L1929,1000 L1932,1000.5 L1935,1000.9 L1938,1001.4 L1941,1001.9 L1944,1002.3 L1947,1002.8 L1950,1003.2 L1953,1003.6 L1956,1004 L1959,1004.5 L1962,1004.9 L1965,1005.3 L1968,1005.6 L1971,1006 L1974,1006.4 L1977,1006.8 L1980,1007.1 L1983,1007.5 L1986,1007.9 L1989,1008.2 L1992,1008.5 L1995,1008.9 L1998,1009.2 L2001,1009.5 L2004,1009.8 L2007,1010.2 L2010,1010.5 L2013,1010.8 L2016,1011.1 L2019,1011.4 L2022,1011.7 L2025,1011.9 L2028,1012.2 L2031,1012.5 L2034,1012.8 L2037,1013 L2040,1013.3 L2043,1013.6 L2046,1013.8 L2049,1014.1 L2052,1014.3 L2055,1014.6 L2058,1014.8 L2061,1015.1 L2064,1015.3 L2067,1015.5 L2070,1015.7 L2073,1016 L2076,1016.2 L2079,1016.4 L2082,1016.6 L2085,1016.8 L2088,1017.1 L2091,1017.3 L2094,1017.5 L2097,1017.7 L2100,1017.9 L2103,1018.1 L2106,1018.3 L2109,1018.5 L2112,1018.6 L2115,1018.8 L2118,1019 L2121,1019.2 L2124,1019.4 L2127,1019.6 L2130,1019.7 L2133,1019.9 L2136,1020.1 L2139,1020.2 L2142,1020.4 L2145,1020.6 L2148,1020.7 L2151,1020.9 L2154,1021.1 L2157,1021.2 L2160,1021.4 L2163,1021.5 L2166,1021.7 L2169,1021.8 L2172,1022 L2175,1022.1 L2177,1022.2" stroke="#ff0000" stroke-width="4.2"/>
</g>
<g fill="none" stroke-linejoin="round" stroke-linecap="butt">
<path d="M178.4,1562.6 L181.4,1562.6 L184.4,1562.6 L187.4,1562.6 L190.4,1562.6 L193.4,1562.6 L196.4,1562.6 L199.4,1562.6 L202.4,1562.6 L205.4,1562.6 L208.4,1562.6 L211.4,1562.6 L214.4,1562.6 L217.4,1562.5 L220.4,1562.5 L223.4,1562.5 L226.4,1562.5 L229.4,1562.5 L232.4,1562.5 L235.4,1562.5 L238.4,1562.5 L241.4,1562.5 L244.4,1562.5 L247.4,1562.5 L250.4,1562.5 L253.4,1562.4 L256.4,1562.4 L259.4,1562.4 L262.4,1562.4 L265.4,1562.4 L268.4,1562.4 L271.4,1562.4 L274.4,1562.4 L277.4,1562.4 L280.4,1562.4 L283.4,1562.4 L286.4,1562.3 L289.4,1562.3 L292.4,1562.3 L295.4,1562.3 L298.4,1562.3 L301.4,1562.3 L304.4,1562.3 L307.4,1562.3 L310.4,1562.3 L313.4,1562.3 L316.4,1562.3 L319.4,1562.2 L322.4,1562.2 L325.4,1562.2 L328.4,1562.2 L331.4,1562.2 L334.4,1562.2 L337.4,1562.2 L340.4,1562.2 L343.4,1562.2 L346.4,1562.2 L349.4,1562.1 L352.4,1562.1 L355.4,1562.1 L358.4,1562.1 L361.4,1562.1 L364.4,1562.1 L367.4,1562.1 L370.4,1562.1 L373.4,1562.1 L376.4,1562 L379.4,1562 L382.4,1562 L385.4,1562 L388.4,1562 L391.4,1562 L394.4,1562 L397.4,1562 L400.4,1562 L403.4,1561.9 L406.4,1561.9 L409.4,1561.9 L412.4,1561.9 L415.4,1561.9 L418.4,1561.9 L421.4,1561.9 L424.4,1561.9 L427.4,1561.9 L430.4,1561.8 L433.4,1561.8 L436.4,1561.8 L439.4,1561.8 L442.4,1561.8 L445.4,1561.8 L448.4,1561.8 L451.4,1561.8 L454.4,1561.7 L457.4,1561.7 L460.4,1561.7 L463.4,1561.7 L466.4,1561.7 L469.4,1561.7 L472.4,1561.7 L475.4,1561.6 L478.4,1561.6 L481.4,1561.6 L484.4,1561.6 L487.4,1561.6 L490.4,1561.6 L493.4,1561.6 L496.4,1561.5 L499.4,1561.5 L502.4,1561.5 L505.4,1561.5 L508.4,1561.5 L511.4,1561.5 L514.4,1561.5 L517.4,1561.4 L520.4,1561.4 L523.4,1561.4 L526.4,1561.4 L529.4,1561.4 L532.4,1561.4 L535.4,1561.4 L538.4,1561.3 L541.4,1561.3 L544.4,1561.3 L547.4,1561.3 L550.4,1561.3 L553.4,1561.3 L556.4,1561.2 L559.4,1561.2 L562.4,1561.2 L565.4,1561.2 L568.4,1561.2 L571.4,1561.2 L574.4,1561.1 L577.4,1561.1 L580.4,1561.1 L583.4,1561.1 L586.4,1561.1 L589.4,1561 L592.4,1561 L595.4,1561 L598.4,1561 L601.4,1561 L604.4,1561 L607.4,1560.9 L610.4,1560.9 L613.4,1560.9 L616.4,1560.9 L619.4,1560.9 L622.4,1560.8 L625.4,1560.8 L628.4,1560.8 L631.4,1560.8 L634.4,1560.8 L637.4,1560.7 L640.4,1560.7 L643.4,1560.7 L646.4,1560.7 L649.4,1560.6 L652.4,1560.6 L655.4,1560.6 L658.4,1560.6 L661.4,1560.6 L664.4,1560.5 L667.4,1560.5 L670.4,1560.5 L673.4,1560.5 L676.4,1560.4 L679.4,1560.4 L682.4,1560.4 L685.4,1560.4 L688.4,1560.4 L691.4,1560.3 L694.4,1560.3 L697.4,1560.3 L700.4,1560.3 L703.4,1560.2 L706.4,1560.2 L709.4,1560.2 L712.4,1560.1 L715.4,1560.1 L718.4,1560.1 L721.4,1560.1 L724.4,1560 L727.4,1560 L730.4,1560 L733.4,1560 L736.4,1559.9 L739.4,1559.9 L742.4,1559.9 L745.4,1559.8 L748.4,1559.8 L751.4,1559.8 L754.4,1559.7 L757.4,1559.7 L760.4,1559.7 L763.4,1559.7 L766.4,1559.6 L769.4,1559.6 L772.4,1559.6 L775.4,1559.5 L778.4,1559.5 L781.4,1559.5 L784.4,1559.4 L787.4,1559.4 L790.4,1559.4 L793.4,1559.3 L796.4,1559.3 L799.4,1559.2 L802.4,1559.2 L805.4,1559.2 L808.4,1559.1 L811.4,1559.1 L814.4,1559.1 L817.4,1559 L820.4,1559 L823.4,1558.9 L826.4,1558.9 L829.4,1558.9 L832.4,1558.8 L835.4,1558.8 L838.4,1558.7 L841.4,1558.7 L844.4,1558.6 L847.4,1558.6 L850.4,1558.6 L853.4,1558.5 L856.4,1558.5 L859.4,1558.4 L862.4,1558.4 L865.4,1558.3 L868.4,1558.3 L871.4,1558.2 L874.4,1558.2 L877.4,1558.1 L880.4,1558.1 L883.4,1558 L886.4,1558 L889.4,1557.9 L892.4,1557.9 L895.4,1557.8 L898.4,1557.7 L901.4,1557.7 L904.4,1557.6 L907.4,1557.6 L910.4,1557.5 L913.4,1557.4 L916.4,1557.4 L919.4,1557.3 L922.4,1557.3 L925.4,1557.2 L928.4,1557.1 L931.4,1557.1 L934.4,1557 L937.4,1556.9 L940.4,1556.8 L943.4,1556.8 L946.4,1556.7 L949.4,1556.6 L952.4,1556.5 L955.4,1556.5 L958.4,1556.4 L961.4,1556.3 L964.4,1556.2 L967.4,1556.1 L970.4,1556.1 L973.4,1556 L976.4,1555.9 L979.4,1555.8 L982.4,1555.7 L985.4,1555.6 L988.4,1555.5 L991.4,1555.4 L994.4,1555.3 L997.4,1555.2 L1000.4,1555.1 L1003.4,1555 L1006.4,1554.9 L1009.4,1554.8 L1012.4,1554.7 L1015.4,1554.6 L1018.4,1554.5 L1021.4,1554.4 L1024.4,1554.2 L1027.4,1554.1 L1030.4,1554 L1033.4,1553.9 L1036.4,1553.8 L1039.4,1553.6 L1042.4,1553.5 L1045.4,1553.4 L1048.4,1553.2 L1051.4,1553.1 L1054.4,1553 L1057.4,1552.8 L1060.4,1552.7 L1063.4,1552.5 L1066.4,1552.4 L1069.4,1552.2 L1072.4,1552.1 L1075.4,1551.9 L1078.4,1551.8 L1081.4,1551.6 L1084.4,1551.4 L1087.4,1551.3 L1090.4,1551.1 L1093.4,1550.9 L1096.4,1550.7 L1099.4,1550.6 L1102.4,1550.4 L1105.4,1550.2 L1108.4,1550 L1111.4,1549.8 L1114.4,1549.6 L1117.4,1549.4 L1120.4,1549.2 L1123.4,1549 L1126.4,1548.8 L1129.4,1548.6 L1132.4,1548.4 L1135.4,1548.2 L1138.4,1548 L1141.4,1547.7 L1144.4,1547.5 L1147.4,1547.3 L1150.4,1547.1 L1153.4,1546.8 L1156.4,1546.6 L1159.4,1546.4 L1162.4,1546.1 L1165.4,1545.9 L1168.4,1545.6 L1171.4,1545.4 L1174.4,1545.1 L1177.4,1544.9 L1180.4,1544.6 L1183.4,1544.4 L1186.4,1544.1 L1189.4,1543.8 L1192.4,1543.6 L1195.4,1543.3 L1198.4,1543 L1201.4,1542.8 L1204.4,1542.5 L1207.4,1542.2 L1210.4,1542 L1213.4,1541.7 L1216.4,1541.4 L1219.4,1541.1 L1222.4,1540.8 L1225.4,1540.5 L1228.4,1540.3 L1231.4,1540 L1234.4,1539.7 L1237.4,1539.4 L1240.4,1539.1 L1243.4,1538.8 L1246.4,1538.5 L1249.4,1538.2 L1252.4,1537.9 L1255.4,1537.6 L1258.4,1537.3 L1261.4,1537 L1264.4,1536.7 L1267.4,1536.4 L1270.4,1536.1 L1273.4,1535.8 L1276.4,1535.5 L1279.4,1535.2 L1282.4,1534.9 L1285.4,1534.6 L1288.4,1534.3 L1291.4,1534 L1294.4,1533.6 L1297.4,1533.3 L1300.4,1533 L1303.4,1532.7 L1306.4,1532.4 L1309.4,1532.1 L1312.4,1531.8 L1315.4,1531.5 L1318.4,1531.2 L1321.4,1530.8 L1324.4,1530.5 L1327.4,1530.2 L1330.4,1529.9 L1333.4,1529.6 L1336.4,1529.3 L1339.4,1529 L1342.4,1528.6 L1345.4,1528.3 L1348.4,1528 L1351.4,1527.7 L1354.4,1527.4 L1357.4,1527.1 L1360.4,1526.8 L1363.4,1526.5 L1366.4,1526.2 L1369.4,1525.9 L1372.4,1525.6 L1375.4,1525.3 L1378.4,1525 L1381.4,1524.7 L1384.4,1524.4 L1387.4,1524.1 L1390.4,1523.8 L1393.4,1523.5 L1396.4,1523.2 L1399.4,1522.9 L1402.4,1522.6 L1405.4,1522.3 L1408.4,1522 L1411.4,1521.8 L1414.4,1521.5 L1417.4,1521.2 L1420.4,1520.9 L1423.4,1520.7 L1426.4,1520.4 L1429.4,1520.1 L1432.4,1519.9 L1435.4,1519.6 L1438.4,1519.4 L1441.4,1519.1 L1444.4,1518.9 L1447.4,1518.6 L1450.4,1518.4 L1453.4,1518.1 L1456.4,1517.9 L1459.4,1517.7 L1462.4,1517.4 L1465.4,1517.2 L1468.4,1517 L1471.4,1516.8 L1474.4,1516.6 L1477.4,1516.3 L1480.4,1516.1 L1483.4,1515.9 L1486.4,1515.7 L1489.4,1515.5 L1492.4,1515.3 L1495.4,1515.1 L1498.4,1514.9 L1501.4,1514.7 L1504.4,1514.6 L1507.4,1514.4 L1510.4,1514.2 L1513.4,1514 L1516.4,1513.8 L1519.4,1513.7 L1522.4,1513.5 L1525.4,1513.3 L1528.4,1513.2 L1531.4,1513 L1534.4,1512.9 L1537.4,1512.7 L1540.4,1512.5 L1543.4,1512.4 L1546.4,1512.2 L1549.4,1512.1 L1552.4,1512 L1555.4,1511.8 L1558.4,1511.7 L1561.4,1511.5 L1564.4,1511.4 L1567.4,1511.3 L1570.4,1511.2 L1573.4,1511 L1576.4,1510.9 L1579.4,1510.8 L1582.4,1510.7 L1585.4,1510.5 L1588.4,1510.4 L1591.4,1510.3 L1594.4,1510.2 L1597.4,1510.1 L1600.4,1510 L1603.4,1509.9 L1606.4,1509.8 L1609.4,1509.7 L1612.4,1509.6 L1615.4,1509.5 L1618.4,1509.4 L1621.4,1509.3 L1624.4,1509.2 L1627.4,1509.1 L1630.4,1509 L1633.4,1508.9 L1636.4,1508.8 L1639.4,1508.8 L1642.4,1508.7 L1645.4,1508.6 L1648.4,1508.5 L1651.4,1508.4 L1654.4,1508.4 L1657.4,1508.3 L1660.4,1508.2 L1663.4,1508.1 L1666.4,1508.1 L1669.4,1508 L1672.4,1507.9 L1675.4,1507.8 L1678.4,1507.8 L1681.4,1507.7 L1684.4,1507.6 L1687.4,1507.6 L1690.4,1507.5 L1693.4,1507.4 L1696.4,1507.4 L1699.4,1507.3 L1702.4,1507.3 L1705.4,1507.2 L1708.4,1507.1 L1711.4,1507.1 L1714.4,1507 L1717.4,1507 L1720.4,1506.9 L1723.4,1506.9 L1726.4,1506.8 L1729.4,1506.8 L1732.4,1506.7 L1735.4,1506.6 L1738.4,1506.6 L1741.4,1506.5 L1744.4,1506.5 L1747.4,1506.5 L1750.4,1506.4 L1753.4,1506.4 L1756.4,1506.3 L1759.4,1506.3 L1762.4,1506.2 L1765.4,1506.2 L1768.4,1506.1 L1771.4,1506.1 L1774.4,1506 L1777.4,1506 L1780.4,1506 L1783.4,1505.9 L1786.4,1505.9 L1789.4,1505.8 L1792.4,1505.8 L1795.4,1505.8 L1798.4,1505.7 L1801.4,1505.7 L1804.4,1505.6 L1807.4,1505.6 L1810.4,1505.6 L1813.4,1505.5 L1816.4,1505.5 L1819.4,1505.5 L1822.4,1505.4 L1825.4,1505.4 L1828.4,1505.4 L1831.4,1505.3 L1834.4,1505.3 L1837.4,1505.3 L1840.4,1505.2 L1843.4,1505.2 L1846.4,1505.2 L1849.4,1505.1 L1852.4,1505.1 L1855.4,1505.1 L1858.4,1505 L1861.4,1505 L1864.4,1505 L1867.4,1505 L1870.4,1504.9 L1873.4,1504.9 L1876.4,1504.9 L1879.4,1504.8 L1882.4,1504.8 L1885.4,1504.8 L1888.4,1504.8 L1891.4,1504.7 L1894.4,1504.7 L1897.4,1504.7 L1900.4,1504.6 L1903.4,1504.6 L1906.4,1504.6 L1909.4,1504.6 L1912.4,1504.5 L1915.4,1504.5 L1918.4,1504.5 L1921.4,1504.5 L1924.4,1504.4 L1927.4,1504.4 L1930.4,1504.4 L1933.4,1504.4 L1936.4,1504.3 L1939.4,1504.3 L1942.4,1504.3 L1945.4,1504.3 L1948.4,1504.3 L1951.4,1504.2 L1954.4,1504.2 L1957.4,1504.2 L1960.4,1504.2 L1963.4,1504.1 L1966.4,1504.1 L1969.4,1504.1 L1972.4,1504.1 L1975.4,1504.1 L1978.4,1504 L1981.4,1504 L1984.4,1504 L1987.4,1504 L1990.4,1504 L1993.4,1503.9 L1996.4,1503.9 L1999.4,1503.9 L2002.4,1503.9 L2005.4,1503.9 L2008.4,1503.8 L2011.4,1503.8 L2014.4,1503.8 L2017.4,1503.8 L2020.4,1503.8 L2023.4,1503.7 L2026.4,1503.7 L2029.4,1503.7 L2032.4,1503.7 L2035.4,1503.7 L2038.4,1503.7 L2041.4,1503.6 L2044.4,1503.6 L2047.4,1503.6 L2050.4,1503.6 L2053.4,1503.6 L2056.4,1503.6 L2059.4,1503.5 L2062.4,1503.5 L2065.4,1503.5 L2068.4,1503.5 L2071.4,1503.5 L2074.4,1503.5 L2077.4,1503.4 L2080.4,1503.4 L2083.4,1503.4 L2086.4,1503.4 L2089.4,1503.4 L2092.4,1503.4 L2095.4,1503.4 L2098.4,1503.3 L2101.4,1503.3 L2104.4,1503.3 L2107.4,1503.3 L2110.4,1503.3 L2113.4,1503.3 L2116.4,1503.2 L2119.4,1503.2 L2122.4,1503.2 L2125.4,1503.2 L2128.4,1503.2 L2131.4,1503.2 L2134.4,1503.2 L2137.4,1503.2 L2140.4,1503.1 L2143.4,1503.1 L2146.4,1503.1 L2149.4,1503.1 L2152.4,1503.1 L2155.4,1503.1 L2158.4,1503.1 L2161.4,1503 L2164.4,1503 L2167.4,1503 L2170.4,1503 L2173.4,1503 L2176.4,1503 L2179.4,1503 L2182.4,1503 L2183,1503" stroke="#00f83c" stroke-width="4.2"/>
<path d="M178.4,1558.8 L181.4,1558.8 L184.4,1558.8 L187.4,1558.7 L190.4,1558.7 L193.4,1558.7 L196.4,1558.7 L199.4,1558.6 L202.4,1558.6 L205.4,1558.6 L208.4,1558.5 L211.4,1558.5 L214.4,1558.5 L217.4,1558.4 L220.4,1558.4 L223.4,1558.4 L226.4,1558.3 L229.4,1558.3 L232.4,1558.3 L235.4,1558.2 L238.4,1558.2 L241.4,1558.2 L244.4,1558.1 L247.4,1558.1 L250.4,1558.1 L253.4,1558 L256.4,1558 L259.4,1558 L262.4,1557.9 L265.4,1557.9 L268.4,1557.8 L271.4,1557.8 L274.4,1557.8 L277.4,1557.7 L280.4,1557.7 L283.4,1557.7 L286.4,1557.6 L289.4,1557.6 L292.4,1557.5 L295.4,1557.5 L298.4,1557.5 L301.4,1557.4 L304.4,1557.4 L307.4,1557.3 L310.4,1557.3 L313.4,1557.2 L316.4,1557.2 L319.4,1557.2 L322.4,1557.1 L325.4,1557.1 L328.4,1557 L331.4,1557 L334.4,1556.9 L337.4,1556.9 L340.4,1556.8 L343.4,1556.8 L346.4,1556.8 L349.4,1556.7 L352.4,1556.7 L355.4,1556.6 L358.4,1556.6 L361.4,1556.5 L364.4,1556.5 L367.4,1556.4 L370.4,1556.4 L373.4,1556.3 L376.4,1556.3 L379.4,1556.2 L382.4,1556.2 L385.4,1556.1 L388.4,1556.1 L391.4,1556 L394.4,1555.9 L397.4,1555.9 L400.4,1555.8 L403.4,1555.8 L406.4,1555.7 L409.4,1555.7 L412.4,1555.6 L415.4,1555.5 L418.4,1555.5 L421.4,1555.4 L424.4,1555.4 L427.4,1555.3 L430.4,1555.2 L433.4,1555.2 L436.4,1555.1 L439.4,1555.1 L442.4,1555 L445.4,1554.9 L448.4,1554.9 L451.4,1554.8 L454.4,1554.7 L457.4,1554.7 L460.4,1554.6 L463.4,1554.5 L466.4,1554.5 L469.4,1554.4 L472.4,1554.3 L475.4,1554.2 L478.4,1554.2 L481.4,1554.1 L484.4,1554 L487.4,1554 L490.4,1553.9 L493.4,1553.8 L496.4,1553.7 L499.4,1553.6 L502.4,1553.6 L505.4,1553.5 L508.4,1553.4 L511.4,1553.3 L514.4,1553.2 L517.4,1553.2 L520.4,1553.1 L523.4,1553 L526.4,1552.9 L529.4,1552.8 L532.4,1552.7 L535.4,1552.6 L538.4,1552.5 L541.4,1552.5 L544.4,1552.4 L547.4,1552.3 L550.4,1552.2 L553.4,1552.1 L556.4,1552 L559.4,1551.9 L562.4,1551.8 L565.4,1551.7 L568.4,1551.6 L571.4,1551.5 L574.4,1551.4 L577.4,1551.3 L580.4,1551.2 L583.4,1551 L586.4,1550.9 L589.4,1550.8 L592.4,1550.7 L595.4,1550.6 L598.4,1550.5 L601.4,1550.4 L604.4,1550.2 L607.4,1550.1 L610.4,1550 L613.4,1549.9 L616.4,1549.7 L619.4,1549.6 L622.4,1549.5 L625.4,1549.4 L628.4,1549.2 L631.4,1549.1 L634.4,1549 L637.4,1548.8 L640.4,1548.7 L643.4,1548.5 L646.4,1548.4 L649.4,1548.2 L652.4,1548.1 L655.4,1547.9 L658.4,1547.8 L661.4,1547.6 L664.4,1547.5 L667.4,1547.3 L670.4,1547.1 L673.4,1547 L676.4,1546.8 L679.4,1546.6 L682.4,1546.5 L685.4,1546.3 L688.4,1546.1 L691.4,1545.9 L694.4,1545.7 L697.4,1545.6 L700.4,1545.4 L703.4,1545.2 L706.4,1545 L709.4,1544.8 L712.4,1544.6 L715.4,1544.4 L718.4,1544.2 L721.4,1543.9 L724.4,1543.7 L727.4,1543.5 L730.4,1543.3 L733.4,1543 L736.4,1542.8 L739.4,1542.6 L742.4,1542.3 L745.4,1542.1 L748.4,1541.8 L751.4,1541.6 L754.4,1541.3 L757.4,1541 L760.4,1540.8 L763.4,1540.5 L766.4,1540.2 L769.4,1539.9 L772.4,1539.6 L775.4,1539.3 L778.4,1539 L781.4,1538.7 L784.4,1538.4 L787.4,1538 L790.4,1537.7 L793.4,1537.3 L796.4,1537 L799.4,1536.6 L802.4,1536.3 L805.4,1535.9 L808.4,1535.5 L811.4,1535.1 L814.4,1534.7 L817.4,1534.3 L820.4,1533.9 L823.4,1533.5 L826.4,1533.1 L829.4,1532.6 L832.4,1532.2 L835.4,1531.7 L838.4,1531.2 L841.4,1530.7 L844.4,1530.2 L847.4,1529.7 L850.4,1529.2 L853.4,1528.7 L856.4,1528.1 L859.4,1527.6 L862.4,1527 L865.4,1526.4 L868.4,1525.8 L871.4,1525.2 L874.4,1524.6 L877.4,1524 L880.4,1523.3 L883.4,1522.6 L886.4,1522 L889.4,1521.3 L892.4,1520.6 L895.4,1519.8 L898.4,1519.1 L901.4,1518.3 L904.4,1517.5 L907.4,1516.7 L910.4,1515.9 L913.4,1515.1 L916.4,1514.2 L919.4,1513.3 L922.4,1512.4 L925.4,1511.5 L928.4,1510.6 L931.4,1509.6 L934.4,1508.7 L937.4,1507.7 L940.4,1506.7 L943.4,1505.6 L946.4,1504.6 L949.4,1503.5 L952.4,1502.4 L955.4,1501.2 L958.4,1500.1 L961.4,1498.9 L964.4,1497.7 L967.4,1496.5 L970.4,1495.2 L973.4,1493.9 L976.4,1492.6 L979.4,1491.3 L982.4,1490 L985.4,1488.6 L988.4,1487.2 L991.4,1485.7 L994.4,1484.3 L997.4,1482.8 L1000.4,1481.3 L1003.4,1479.7 L1006.4,1478.2 L1009.4,1476.6 L1012.4,1475 L1015.4,1473.3 L1018.4,1471.7 L1021.4,1470 L1024.4,1468.2 L1027.4,1466.5 L1030.4,1464.7 L1033.4,1462.9 L1036.4,1461.1 L1039.4,1459.2 L1042.4,1457.4 L1045.4,1455.5 L1048.4,1453.5 L1051.4,1451.6 L1054.4,1449.6 L1057.4,1447.6 L1060.4,1445.6 L1063.4,1443.6 L1066.4,1441.6 L1069.4,1439.5 L1072.4,1437.5 L1075.4,1435.4 L1078.4,1433.3 L1081.4,1431.2 L1084.4,1429.1 L1087.4,1426.9 L1090.4,1424.8 L1093.4,1422.7 L1096.4,1420.6 L1099.4,1418.5 L1102.4,1416.3 L1105.4,1414.2 L1108.4,1412.1 L1111.4,1410.1 L1114.4,1408 L1117.4,1406 L1120.4,1404 L1123.4,1402 L1126.4,1400 L1129.4,1398.1 L1132.4,1396.2 L1135.4,1394.4 L1138.4,1392.6 L1141.4,1390.8 L1144.4,1389.1 L1147.4,1387.5 L1150.4,1385.9 L1153.4,1384.4 L1156.4,1383 L1159.4,1381.6 L1162.4,1380.3 L1165.4,1379.1 L1168.4,1378 L1171.4,1376.9 L1174.4,1376 L1177.4,1375.1 L1180.4,1374.3 L1183.4,1373.6 L1186.4,1373 L1189.4,1372.5 L1192.4,1372.1 L1195.4,1371.8 L1198.4,1371.6 L1201.4,1371.5 L1204.4,1371.5 L1207.4,1371.6 L1210.4,1371.8 L1213.4,1372 L1216.4,1372.4 L1219.4,1372.8 L1222.4,1373.4 L1225.4,1374 L1228.4,1374.7 L1231.4,1375.5 L1234.4,1376.3 L1237.4,1377.3 L1240.4,1378.2 L1243.4,1379.3 L1246.4,1380.4 L1249.4,1381.6 L1252.4,1382.9 L1255.4,1384.1 L1258.4,1385.5 L1261.4,1386.9 L1264.4,1388.3 L1267.4,1389.7 L1270.4,1391.2 L1273.4,1392.7 L1276.4,1394.3 L1279.4,1395.8 L1282.4,1397.4 L1285.4,1399 L1288.4,1400.6 L1291.4,1402.3 L1294.4,1403.9 L1297.4,1405.5 L1300.4,1407.2 L1303.4,1408.8 L1306.4,1410.5 L1309.4,1412.1 L1312.4,1413.7 L1315.4,1415.3 L1318.4,1416.9 L1321.4,1418.5 L1324.4,1420.1 L1327.4,1421.7 L1330.4,1423.3 L1333.4,1424.8 L1336.4,1426.3 L1339.4,1427.8 L1342.4,1429.3 L1345.4,1430.8 L1348.4,1432.3 L1351.4,1433.7 L1354.4,1435.1 L1357.4,1436.5 L1360.4,1437.8 L1363.4,1439.2 L1366.4,1440.5 L1369.4,1441.8 L1372.4,1443.1 L1375.4,1444.3 L1378.4,1445.6 L1381.4,1446.8 L1384.4,1447.9 L1387.4,1449.1 L1390.4,1450.2 L1393.4,1451.3 L1396.4,1452.4 L1399.4,1453.5 L1402.4,1454.5 L1405.4,1455.6 L1408.4,1456.6 L1411.4,1457.5 L1414.4,1458.5 L1417.4,1459.4 L1420.4,1460.4 L1423.4,1461.2 L1426.4,1462.1 L1429.4,1463 L1432.4,1463.8 L1435.4,1464.6 L1438.4,1465.4 L1441.4,1466.2 L1444.4,1466.9 L1447.4,1467.7 L1450.4,1468.4 L1453.4,1469.1 L1456.4,1469.8 L1459.4,1470.5 L1462.4,1471.1 L1465.4,1471.8 L1468.4,1472.4 L1471.4,1473 L1474.4,1473.6 L1477.4,1474.1 L1480.4,1474.7 L1483.4,1475.2 L1486.4,1475.8 L1489.4,1476.3 L1492.4,1476.8 L1495.4,1477.3 L1498.4,1477.8 L1501.4,1478.2 L1504.4,1478.7 L1507.4,1479.1 L1510.4,1479.6 L1513.4,1480 L1516.4,1480.4 L1519.4,1480.8 L1522.4,1481.2 L1525.4,1481.6 L1528.4,1481.9 L1531.4,1482.3 L1534.4,1482.6 L1537.4,1483 L1540.4,1483.3 L1543.4,1483.6 L1546.4,1483.9 L1549.4,1484.2 L1552.4,1484.5 L1555.4,1484.8 L1558.4,1485.1 L1561.4,1485.4 L1564.4,1485.7 L1567.4,1485.9 L1570.4,1486.2 L1573.4,1486.4 L1576.4,1486.7 L1579.4,1486.9 L1582.4,1487.1 L1585.4,1487.4 L1588.4,1487.6 L1591.4,1487.8 L1594.4,1488 L1597.4,1488.2 L1600.4,1488.4 L1603.4,1488.6 L1606.4,1488.8 L1609.4,1489 L1612.4,1489.1 L1615.4,1489.3 L1618.4,1489.5 L1621.4,1489.7 L1624.4,1489.8 L1627.4,1490 L1630.4,1490.1 L1633.4,1490.3 L1636.4,1490.4 L1639.4,1490.6 L1642.4,1490.7 L1645.4,1490.9 L1648.4,1491 L1651.4,1491.1 L1654.4,1491.3 L1657.4,1491.4 L1660.4,1491.5 L1663.4,1491.7 L1666.4,1491.8 L1669.4,1491.9 L1672.4,1492 L1675.4,1492.1 L1678.4,1492.2 L1681.4,1492.3 L1684.4,1492.5 L1687.4,1492.6 L1690.4,1492.7 L1693.4,1492.8 L1696.4,1492.9 L1699.4,1493 L1702.4,1493.1 L1705.4,1493.2 L1708.4,1493.2 L1711.4,1493.3 L1714.4,1493.4 L1717.4,1493.5 L1720.4,1493.6 L1723.4,1493.7 L1726.4,1493.8 L1729.4,1493.9 L1732.4,1493.9 L1735.4,1494 L1738.4,1494.1 L1741.4,1494.2 L1744.4,1494.2 L1747.4,1494.3 L1750.4,1494.4 L1753.4,1494.5 L1756.4,1494.5 L1759.4,1494.6 L1762.4,1494.7 L1765.4,1494.7 L1768.4,1494.8 L1771.4,1494.9 L1774.4,1494.9 L1777.4,1495 L1780.4,1495.1 L1783.4,1495.1 L1786.4,1495.2 L1789.4,1495.2 L1792.4,1495.3 L1795.4,1495.4 L1798.4,1495.4 L1801.4,1495.5 L1804.4,1495.5 L1807.4,1495.6 L1810.4,1495.6 L1813.4,1495.7 L1816.4,1495.7 L1819.4,1495.8 L1822.4,1495.9 L1825.4,1495.9 L1828.4,1496 L1831.4,1496 L1834.4,1496 L1837.4,1496.1 L1840.4,1496.1 L1843.4,1496.2 L1846.4,1496.2 L1849.4,1496.3 L1852.4,1496.3 L1855.4,1496.4 L1858.4,1496.4 L1861.4,1496.5 L1864.4,1496.5 L1867.4,1496.5 L1870.4,1496.6 L1873.4,1496.6 L1876.4,1496.7 L1879.4,1496.7 L1882.4,1496.7 L1885.4,1496.8 L1888.4,1496.8 L1891.4,1496.8 L1894.4,1496.9 L1897.4,1496.9 L1900.4,1497 L1903.4,1497 L1906.4,1497 L1909.4,1497.1 L1912.4,1497.1 L1915.4,1497.1 L1918.4,1497.2 L1921.4,1497.2 L1924.4,1497.2 L1927.4,1497.3 L1930.4,1497.3 L1933.4,1497.3 L1936.4,1497.4 L1939.4,1497.4 L1942.4,1497.4 L1945.4,1497.4 L1948.4,1497.5 L1951.4,1497.5 L1954.4,1497.5 L1957.4,1497.6 L1960.4,1497.6 L1963.4,1497.6 L1966.4,1497.6 L1969.4,1497.7 L1972.4,1497.7 L1975.4,1497.7 L1978.4,1497.7 L1981.4,1497.8 L1984.4,1497.8 L1987.4,1497.8 L1990.4,1497.8 L1993.4,1497.9 L1996.4,1497.9 L1999.4,1497.9 L2002.4,1497.9 L2005.4,1498 L2008.4,1498 L2011.4,1498 L2014.4,1498 L2017.4,1498 L2020.4,1498.1 L2023.4,1498.1 L2026.4,1498.1 L2029.4,1498.1 L2032.4,1498.2 L2035.4,1498.2 L2038.4,1498.2 L2041.4,1498.2 L2044.4,1498.2 L2047.4,1498.3 L2050.4,1498.3 L2053.4,1498.3 L2056.4,1498.3 L2059.4,1498.3 L2062.4,1498.3 L2065.4,1498.4 L2068.4,1498.4 L2071.4,1498.4 L2074.4,1498.4 L2077.4,1498.4 L2080.4,1498.4 L2083.4,1498.5 L2086.4,1498.5 L2089.4,1498.5 L2092.4,1498.5 L2095.4,1498.5 L2098.4,1498.5 L2101.4,1498.6 L2104.4,1498.6 L2107.4,1498.6 L2110.4,1498.6 L2113.4,1498.6 L2116.4,1498.6 L2119.4,1498.7 L2122.4,1498.7 L2125.4,1498.7 L2128.4,1498.7 L2131.4,1498.7 L2134.4,1498.7 L2137.4,1498.7 L2140.4,1498.7 L2143.4,1498.8 L2146.4,1498.8 L2149.4,1498.8 L2152.4,1498.8 L2155.4,1498.8 L2158.4,1498.8 L2161.4,1498.8 L2164.4,1498.9 L2167.4,1498.9 L2170.4,1498.9 L2173.4,1498.9 L2176.4,1498.9 L2179.4,1498.9 L2182.4,1498.9 L2183,1498.9" stroke="#00ffff" stroke-width="4.2"/>
<path d="M178.4,1557.8 L181.4,1557.8 L184.4,1557.7 L187.4,1557.7 L190.4,1557.7 L193.4,1557.6 L196.4,1557.6 L199.4,1557.6 L202.4,1557.5 L205.4,1557.5 L208.4,1557.5 L211.4,1557.4 L214.4,1557.4 L217.4,1557.4 L220.4,1557.3 L223.4,1557.3 L226.4,1557.3 L229.4,1557.2 L232.4,1557.2 L235.4,1557.1 L238.4,1557.1 L241.4,1557.1 L244.4,1557 L247.4,1557 L250.4,1557 L253.4,1556.9 L256.4,1556.9 L259.4,1556.9 L262.4,1556.8 L265.4,1556.8 L268.4,1556.7 L271.4,1556.7 L274.4,1556.7 L277.4,1556.6 L280.4,1556.6 L283.4,1556.5 L286.4,1556.5 L289.4,1556.5 L292.4,1556.4 L295.4,1556.4 L298.4,1556.3 L301.4,1556.3 L304.4,1556.2 L307.4,1556.2 L310.4,1556.2 L313.4,1556.1 L316.4,1556.1 L319.4,1556 L322.4,1556 L325.4,1555.9 L328.4,1555.9 L331.4,1555.9 L334.4,1555.8 L337.4,1555.8 L340.4,1555.7 L343.4,1555.7 L346.4,1555.6 L349.4,1555.6 L352.4,1555.5 L355.4,1555.5 L358.4,1555.4 L361.4,1555.4 L364.4,1555.3 L367.4,1555.3 L370.4,1555.2 L373.4,1555.2 L376.4,1555.1 L379.4,1555.1 L382.4,1555 L385.4,1555 L388.4,1554.9 L391.4,1554.9 L394.4,1554.8 L397.4,1554.8 L400.4,1554.7 L403.4,1554.7 L406.4,1554.6 L409.4,1554.5 L412.4,1554.5 L415.4,1554.4 L418.4,1554.4 L421.4,1554.3 L424.4,1554.3 L427.4,1554.2 L430.4,1554.1 L433.4,1554.1 L436.4,1554 L439.4,1554 L442.4,1553.9 L445.4,1553.8 L448.4,1553.8 L451.4,1553.7 L454.4,1553.6 L457.4,1553.6 L460.4,1553.5 L463.4,1553.4 L466.4,1553.4 L469.4,1553.3 L472.4,1553.2 L475.4,1553.2 L478.4,1553.1 L481.4,1553 L484.4,1553 L487.4,1552.9 L490.4,1552.8 L493.4,1552.8 L496.4,1552.7 L499.4,1552.6 L502.4,1552.5 L505.4,1552.5 L508.4,1552.4 L511.4,1552.3 L514.4,1552.2 L517.4,1552.2 L520.4,1552.1 L523.4,1552 L526.4,1551.9 L529.4,1551.8 L532.4,1551.8 L535.4,1551.7 L538.4,1551.6 L541.4,1551.5 L544.4,1551.4 L547.4,1551.3 L550.4,1551.3 L553.4,1551.2 L556.4,1551.1 L559.4,1551 L562.4,1550.9 L565.4,1550.8 L568.4,1550.7 L571.4,1550.6 L574.4,1550.5 L577.4,1550.5 L580.4,1550.4 L583.4,1550.3 L586.4,1550.2 L589.4,1550.1 L592.4,1550 L595.4,1549.9 L598.4,1549.8 L601.4,1549.7 L604.4,1549.6 L607.4,1549.5 L610.4,1549.4 L613.4,1549.2 L616.4,1549.1 L619.4,1549 L622.4,1548.9 L625.4,1548.8 L628.4,1548.7 L631.4,1548.6 L634.4,1548.5 L637.4,1548.4 L640.4,1548.2 L643.4,1548.1 L646.4,1548 L649.4,1547.9 L652.4,1547.8 L655.4,1547.6 L658.4,1547.5 L661.4,1547.4 L664.4,1547.3 L667.4,1547.1 L670.4,1547 L673.4,1546.9 L676.4,1546.7 L679.4,1546.6 L682.4,1546.5 L685.4,1546.3 L688.4,1546.2 L691.4,1546 L694.4,1545.9 L697.4,1545.8 L700.4,1545.6 L703.4,1545.5 L706.4,1545.3 L709.4,1545.2 L712.4,1545 L715.4,1544.8 L718.4,1544.7 L721.4,1544.5 L724.4,1544.4 L727.4,1544.2 L730.4,1544 L733.4,1543.9 L736.4,1543.7 L739.4,1543.5 L742.4,1543.3 L745.4,1543.2 L748.4,1543 L751.4,1542.8 L754.4,1542.6 L757.4,1542.4 L760.4,1542.3 L763.4,1542.1 L766.4,1541.9 L769.4,1541.7 L772.4,1541.5 L775.4,1541.3 L778.4,1541.1 L781.4,1540.9 L784.4,1540.6 L787.4,1540.4 L790.4,1540.2 L793.4,1540 L796.4,1539.8 L799.4,1539.6 L802.4,1539.3 L805.4,1539.1 L808.4,1538.9 L811.4,1538.6 L814.4,1538.4 L817.4,1538.1 L820.4,1537.9 L823.4,1537.6 L826.4,1537.4 L829.4,1537.1 L832.4,1536.8 L835.4,1536.6 L838.4,1536.3 L841.4,1536 L844.4,1535.7 L847.4,1535.4 L850.4,1535.1 L853.4,1534.8 L856.4,1534.5 L859.4,1534.2 L862.4,1533.9 L865.4,1533.6 L868.4,1533.3 L871.4,1532.9 L874.4,1532.6 L877.4,1532.3 L880.4,1531.9 L883.4,1531.6 L886.4,1531.2 L889.4,1530.8 L892.4,1530.4 L895.4,1530.1 L898.4,1529.7 L901.4,1529.3 L904.4,1528.9 L907.4,1528.5 L910.4,1528 L913.4,1527.6 L916.4,1527.2 L919.4,1526.7 L922.4,1526.3 L925.4,1525.8 L928.4,1525.4 L931.4,1524.9 L934.4,1524.4 L937.4,1523.9 L940.4,1523.4 L943.4,1522.8 L946.4,1522.3 L949.4,1521.8 L952.4,1521.2 L955.4,1520.7 L958.4,1520.1 L961.4,1519.5 L964.4,1518.9 L967.4,1518.3 L970.4,1517.6 L973.4,1517 L976.4,1516.3 L979.4,1515.7 L982.4,1515 L985.4,1514.3 L988.4,1513.6 L991.4,1512.8 L994.4,1512.1 L997.4,1511.3 L1000.4,1510.5 L1003.4,1509.7 L1006.4,1508.9 L1009.4,1508.1 L1012.4,1507.3 L1015.4,1506.4 L1018.4,1505.5 L1021.4,1504.6 L1024.4,1503.7 L1027.4,1502.7 L1030.4,1501.7 L1033.4,1500.7 L1036.4,1499.7 L1039.4,1498.7 L1042.4,1497.6 L1045.4,1496.6 L1048.4,1495.4 L1051.4,1494.3 L1054.4,1493.2 L1057.4,1492 L1060.4,1490.8 L1063.4,1489.5 L1066.4,1488.3 L1069.4,1487 L1072.4,1485.7 L1075.4,1484.3 L1078.4,1483 L1081.4,1481.6 L1084.4,1480.2 L1087.4,1478.7 L1090.4,1477.2 L1093.4,1475.7 L1096.4,1474.2 L1099.4,1472.6 L1102.4,1471 L1105.4,1469.3 L1108.4,1467.6 L1111.4,1465.9 L1114.4,1464.2 L1117.4,1462.4 L1120.4,1460.6 L1123.4,1458.8 L1126.4,1456.9 L1129.4,1455 L1132.4,1453 L1135.4,1451 L1138.4,1449 L1141.4,1446.9 L1144.4,1444.8 L1147.4,1442.7 L1150.4,1440.5 L1153.4,1438.3 L1156.4,1436.1 L1159.4,1433.8 L1162.4,1431.5 L1165.4,1429.1 L1168.4,1426.8 L1171.4,1424.3 L1174.4,1421.9 L1177.4,1419.4 L1180.4,1416.8 L1183.4,1414.2 L1186.4,1411.6 L1189.4,1409 L1192.4,1406.3 L1195.4,1403.6 L1198.4,1400.8 L1201.4,1398 L1204.4,1395.2 L1207.4,1392.4 L1210.4,1389.5 L1213.4,1386.6 L1216.4,1383.6 L1219.4,1380.7 L1222.4,1377.7 L1225.4,1374.6 L1228.4,1371.6 L1231.4,1368.5 L1234.4,1365.4 L1237.4,1362.3 L1240.4,1359.2 L1243.4,1356 L1246.4,1352.9 L1249.4,1349.7 L1252.4,1346.5 L1255.4,1343.3 L1258.4,1340.1 L1261.4,1336.9 L1264.4,1333.8 L1267.4,1330.6 L1270.4,1327.4 L1273.4,1324.2 L1276.4,1321.1 L1279.4,1318 L1282.4,1314.9 L1285.4,1311.8 L1288.4,1308.7 L1291.4,1305.7 L1294.4,1302.8 L1297.4,1299.9 L1300.4,1297 L1303.4,1294.2 L1306.4,1291.4 L1309.4,1288.7 L1312.4,1286.1 L1315.4,1283.6 L1318.4,1281.1 L1321.4,1278.7 L1324.4,1276.4 L1327.4,1274.2 L1330.4,1272.1 L1333.4,1270.1 L1336.4,1268.3 L1339.4,1266.5 L1342.4,1264.8 L1345.4,1263.3 L1348.4,1261.9 L1351.4,1260.6 L1354.4,1259.4 L1357.4,1258.4 L1360.4,1257.5 L1363.4,1256.7 L1366.4,1256.1 L1369.4,1255.6 L1372.4,1255.3 L1375.4,1255.1 L1378.4,1255 L1381.4,1255 L1384.4,1255.3 L1387.4,1255.6 L1390.4,1256.1 L1393.4,1256.7 L1396.4,1257.4 L1399.4,1258.3 L1402.4,1259.2 L1405.4,1260.3 L1408.4,1261.6 L1411.4,1262.9 L1414.4,1264.3 L1417.4,1265.9 L1420.4,1267.5 L1423.4,1269.3 L1426.4,1271.1 L1429.4,1273 L1432.4,1275 L1435.4,1277.1 L1438.4,1279.2 L1441.4,1281.4 L1444.4,1283.7 L1447.4,1286 L1450.4,1288.4 L1453.4,1290.8 L1456.4,1293.3 L1459.4,1295.8 L1462.4,1298.4 L1465.4,1300.9 L1468.4,1303.5 L1471.4,1306.2 L1474.4,1308.8 L1477.4,1311.5 L1480.4,1314.2 L1483.4,1316.8 L1486.4,1319.5 L1489.4,1322.2 L1492.4,1324.9 L1495.4,1327.6 L1498.4,1330.3 L1501.4,1332.9 L1504.4,1335.6 L1507.4,1338.2 L1510.4,1340.9 L1513.4,1343.5 L1516.4,1346.1 L1519.4,1348.7 L1522.4,1351.2 L1525.4,1353.8 L1528.4,1356.3 L1531.4,1358.8 L1534.4,1361.3 L1537.4,1363.7 L1540.4,1366.1 L1543.4,1368.5 L1546.4,1370.9 L1549.4,1373.2 L1552.4,1375.5 L1555.4,1377.8 L1558.4,1380 L1561.4,1382.2 L1564.4,1384.4 L1567.4,1386.5 L1570.4,1388.6 L1573.4,1390.7 L1576.4,1392.8 L1579.4,1394.8 L1582.4,1396.8 L1585.4,1398.7 L1588.4,1400.6 L1591.4,1402.5 L1594.4,1404.4 L1597.4,1406.2 L1600.4,1408 L1603.4,1409.7 L1606.4,1411.4 L1609.4,1413.1 L1612.4,1414.8 L1615.4,1416.4 L1618.4,1418 L1621.4,1419.6 L1624.4,1421.1 L1627.4,1422.6 L1630.4,1424.1 L1633.4,1425.6 L1636.4,1427 L1639.4,1428.4 L1642.4,1429.7 L1645.4,1431.1 L1648.4,1432.4 L1651.4,1433.7 L1654.4,1434.9 L1657.4,1436.2 L1660.4,1437.4 L1663.4,1438.5 L1666.4,1439.7 L1669.4,1440.8 L1672.4,1441.9 L1675.4,1443 L1678.4,1444.1 L1681.4,1445.1 L1684.4,1446.1 L1687.4,1447.1 L1690.4,1448.1 L1693.4,1449 L1696.4,1449.9 L1699.4,1450.8 L1702.4,1451.7 L1705.4,1452.6 L1708.4,1453.4 L1711.4,1454.2 L1714.4,1455 L1717.4,1455.8 L1720.4,1456.6 L1723.4,1457.3 L1726.4,1458.1 L1729.4,1458.8 L1732.4,1459.5 L1735.4,1460.2 L1738.4,1460.9 L1741.4,1461.5 L1744.4,1462.2 L1747.4,1462.8 L1750.4,1463.4 L1753.4,1464 L1756.4,1464.6 L1759.4,1465.1 L1762.4,1465.7 L1765.4,1466.2 L1768.4,1466.8 L1771.4,1467.3 L1774.4,1467.8 L1777.4,1468.3 L1780.4,1468.8 L1783.4,1469.3 L1786.4,1469.7 L1789.4,1470.2 L1792.4,1470.6 L1795.4,1471.1 L1798.4,1471.5 L1801.4,1471.9 L1804.4,1472.3 L1807.4,1472.7 L1810.4,1473.1 L1813.4,1473.5 L1816.4,1473.9 L1819.4,1474.2 L1822.4,1474.6 L1825.4,1475 L1828.4,1475.3 L1831.4,1475.6 L1834.4,1476 L1837.4,1476.3 L1840.4,1476.6 L1843.4,1476.9 L1846.4,1477.2 L1849.4,1477.5 L1852.4,1477.8 L1855.4,1478.1 L1858.4,1478.4 L1861.4,1478.6 L1864.4,1478.9 L1867.4,1479.2 L1870.4,1479.4 L1873.4,1479.7 L1876.4,1480 L1879.4,1480.2 L1882.4,1480.4 L1885.4,1480.7 L1888.4,1480.9 L1891.4,1481.1 L1894.4,1481.4 L1897.4,1481.6 L1900.4,1481.8 L1903.4,1482 L1906.4,1482.2 L1909.4,1482.4 L1912.4,1482.6 L1915.4,1482.8 L1918.4,1483 L1921.4,1483.2 L1924.4,1483.4 L1927.4,1483.6 L1930.4,1483.8 L1933.4,1484 L1936.4,1484.1 L1939.4,1484.3 L1942.4,1484.5 L1945.4,1484.6 L1948.4,1484.8 L1951.4,1485 L1954.4,1485.1 L1957.4,1485.3 L1960.4,1485.5 L1963.4,1485.6 L1966.4,1485.8 L1969.4,1485.9 L1972.4,1486.1 L1975.4,1486.2 L1978.4,1486.3 L1981.4,1486.5 L1984.4,1486.6 L1987.4,1486.8 L1990.4,1486.9 L1993.4,1487 L1996.4,1487.2 L1999.4,1487.3 L2002.4,1487.4 L2005.4,1487.5 L2008.4,1487.7 L2011.4,1487.8 L2014.4,1487.9 L2017.4,1488 L2020.4,1488.1 L2023.4,1488.3 L2026.4,1488.4 L2029.4,1488.5 L2032.4,1488.6 L2035.4,1488.7 L2038.4,1488.8 L2041.4,1488.9 L2044.4,1489 L2047.4,1489.1 L2050.4,1489.2 L2053.4,1489.3 L2056.4,1489.4 L2059.4,1489.5 L2062.4,1489.6 L2065.4,1489.7 L2068.4,1489.8 L2071.4,1489.9 L2074.4,1490 L2077.4,1490.1 L2080.4,1490.2 L2083.4,1490.3 L2086.4,1490.4 L2089.4,1490.4 L2092.4,1490.5 L2095.4,1490.6 L2098.4,1490.7 L2101.4,1490.8 L2104.4,1490.9 L2107.4,1490.9 L2110.4,1491 L2113.4,1491.1 L2116.4,1491.2 L2119.4,1491.3 L2122.4,1491.3 L2125.4,1491.4 L2128.4,1491.5 L2131.4,1491.6 L2134.4,1491.6 L2137.4,1491.7 L2140.4,1491.8 L2143.4,1491.8 L2146.4,1491.9 L2149.4,1492 L2152.4,1492 L2155.4,1492.1 L2158.4,1492.2 L2161.4,1492.2 L2164.4,1492.3 L2167.4,1492.4 L2170.4,1492.4 L2173.4,1492.5 L2176.4,1492.6 L2179.4,1492.6 L2182.4,1492.7 L2183,1492.7" stroke="#0000ff" stroke-width="4.2"/>
<path d="M178.4,1557 L180.4,1557 L182.4,1557 L184.4,1557 L186.4,1557 L188.4,1557 L190.4,1557 L192.4,1557 L194.4,1557 L196.4,1557 L198.4,1557 L200.4,1557 L202.4,1557 L204.4,1557 L206.4,1557 L208.4,1557 L210.4,1557 L212.4,1557 L214.4,1557 L216.4,1557 L218.4,1557 L220.4,1557 L222.4,1557 L224.4,1557 L226.4,1557 L228.4,1557 L230.4,1556.9 L232.4,1556.9 L234.4,1556.9 L236.4,1556.9 L238.4,1556.9 L240.4,1556.9 L242.4,1556.9 L244.4,1556.9 L246.4,1556.9 L248.4,1556.9 L250.4,1556.9 L252.4,1556.9 L254.4,1556.9 L256.4,1556.9 L258.4,1556.9 L260.4,1556.9 L262.4,1556.9 L264.4,1556.9 L266.4,1556.9 L268.4,1556.8 L270.4,1556.8 L272.4,1556.8 L274.4,1556.8 L276.4,1556.8 L278.4,1556.8 L280.4,1556.8 L282.4,1556.8 L284.4,1556.8 L286.4,1556.8 L288.4,1556.8 L290.4,1556.8 L292.4,1556.8 L294.4,1556.7 L296.4,1556.7 L298.4,1556.7 L300.4,1556.7 L302.4,1556.7 L304.4,1556.7 L306.4,1556.7 L308.4,1556.7 L310.4,1556.7 L312.4,1556.7 L314.4,1556.6 L316.4,1556.6 L318.4,1556.6 L320.4,1556.6 L322.4,1556.6 L324.4,1556.6 L326.4,1556.6 L328.4,1556.6 L330.4,1556.6 L332.4,1556.5 L334.4,1556.5 L336.4,1556.5 L338.4,1556.5 L340.4,1556.5 L342.4,1556.5 L344.4,1556.5 L346.4,1556.5 L348.4,1556.4 L350.4,1556.4 L352.4,1556.4 L354.4,1556.4 L356.4,1556.4 L358.4,1556.4 L360.4,1556.4 L362.4,1556.4 L364.4,1556.3 L366.4,1556.3 L368.4,1556.3 L370.4,1556.3 L372.4,1556.3 L374.4,1556.3 L376.4,1556.2 L378.4,1556.2 L380.4,1556.2 L382.4,1556.2 L384.4,1556.2 L386.4,1556.2 L388.4,1556.2 L390.4,1556.1 L392.4,1556.1 L394.4,1556.1 L396.4,1556.1 L398.4,1556.1 L400.4,1556.1 L402.4,1556 L404.4,1556 L406.4,1556 L408.4,1556 L410.4,1556 L412.4,1555.9 L414.4,1555.9 L416.4,1555.9 L418.4,1555.9 L420.4,1555.9 L422.4,1555.9 L424.4,1555.8 L426.4,1555.8 L428.4,1555.8 L430.4,1555.8 L432.4,1555.8 L434.4,1555.7 L436.4,1555.7 L438.4,1555.7 L440.4,1555.7 L442.4,1555.7 L444.4,1555.6 L446.4,1555.6 L448.4,1555.6 L450.4,1555.6 L452.4,1555.6 L454.4,1555.5 L456.4,1555.5 L458.4,1555.5 L460.4,1555.5 L462.4,1555.4 L464.4,1555.4 L466.4,1555.4 L468.4,1555.4 L470.4,1555.4 L472.4,1555.3 L474.4,1555.3 L476.4,1555.3 L478.4,1555.3 L480.4,1555.2 L482.4,1555.2 L484.4,1555.2 L486.4,1555.2 L488.4,1555.1 L490.4,1555.1 L492.4,1555.1 L494.4,1555.1 L496.4,1555 L498.4,1555 L500.4,1555 L502.4,1555 L504.4,1554.9 L506.4,1554.9 L508.4,1554.9 L510.4,1554.8 L512.4,1554.8 L514.4,1554.7 L516.4,1554.6 L518.4,1554.6 L520.4,1554.5 L522.4,1554.4 L524.4,1554.3 L526.4,1554.3 L528.4,1554.2 L530.4,1554.1 L532.4,1554 L534.4,1553.9 L536.4,1553.8 L538.4,1553.7 L540.4,1553.5 L542.4,1553.4 L544.4,1553.3 L546.4,1553.2 L548.4,1553 L550.4,1552.9 L552.4,1552.8 L554.4,1552.6 L556.4,1552.5 L558.4,1552.3 L560.4,1552.2 L562.4,1552 L564.4,1551.9 L566.4,1551.7 L568.4,1551.5 L570.4,1551.4 L572.4,1551.2 L574.4,1551 L576.4,1550.8 L578.4,1550.6 L580.4,1550.4 L582.4,1550.3 L584.4,1550.1 L586.4,1549.9 L588.4,1549.7 L590.4,1549.5 L592.4,1549.3 L594.4,1549 L596.4,1548.8 L598.4,1548.6 L600.4,1548.4 L602.4,1548.2 L604.4,1548 L606.4,1547.7 L608.4,1547.5 L610.4,1547.3 L612.4,1547 L614.4,1546.8 L616.4,1546.6 L618.4,1546.3 L620.4,1546.1 L622.4,1545.8 L624.4,1545.6 L626.4,1545.3 L628.4,1545.1 L630.4,1544.8 L632.4,1544.6 L634.4,1544.3 L636.4,1544.1 L638.4,1543.8 L640.4,1543.5 L642.4,1543.3 L644.4,1543 L646.4,1542.7 L648.4,1542.4 L650.4,1542.2 L652.4,1541.9 L654.4,1541.6 L656.4,1541.3 L658.4,1541.1 L660.4,1540.8 L662.4,1540.5 L664.4,1540.2 L666.4,1539.9 L668.4,1539.7 L670.4,1539.4 L672.4,1539.1 L674.4,1538.8 L676.4,1538.5 L678.4,1538.2 L680.4,1537.9 L682.4,1537.6 L684.4,1537.3 L686.4,1537 L688.4,1536.7 L690.4,1536.4 L692.4,1536.1 L694.4,1535.8 L696.4,1535.5 L698.4,1535.2 L700.4,1534.9 L702.4,1534.6 L704.4,1534.3 L706.4,1534 L708.4,1533.6 L710.4,1533.3 L712.4,1532.9 L714.4,1532.5 L716.4,1532.1 L718.4,1531.7 L720.4,1531.3 L722.4,1530.9 L724.4,1530.4 L726.4,1530 L728.4,1529.5 L730.4,1529 L732.4,1528.6 L734.4,1528.1 L736.4,1527.6 L738.4,1527.1 L740.4,1526.6 L742.4,1526.1 L744.4,1525.6 L746.4,1525 L748.4,1524.5 L750.4,1524 L752.4,1523.4 L754.4,1522.9 L756.4,1522.3 L758.4,1521.8 L760.4,1521.2 L762.4,1520.7 L764.4,1520.1 L766.4,1519.5 L768.4,1519 L770.4,1518.4 L772.4,1517.8 L774.4,1517.2 L776.4,1516.7 L778.4,1516.1 L780.4,1515.5 L782.4,1514.9 L784.4,1514.3 L786.4,1513.8 L788.4,1513.2 L790.4,1512.6 L792.4,1512.1 L794.4,1511.5 L796.4,1510.9 L798.4,1510.3 L800.4,1509.8 L802.4,1509.2 L804.4,1508.6 L806.4,1508.1 L808.4,1507.5 L810.4,1506.9 L812.4,1506.3 L814.4,1505.7 L816.4,1505.1 L818.4,1504.5 L820.4,1503.9 L822.4,1503.2 L824.4,1502.6 L826.4,1502 L828.4,1501.3 L830.4,1500.7 L832.4,1500.1 L834.4,1499.4 L836.4,1498.8 L838.4,1498.2 L840.4,1497.5 L842.4,1496.9 L844.4,1496.2 L846.4,1495.6 L848.4,1495 L850.4,1494.3 L852.4,1493.7 L854.4,1493 L856.4,1492.4 L858.4,1491.8 L860.4,1491.1 L862.4,1490.5 L864.4,1489.9 L866.4,1489.3 L868.4,1488.7 L870.4,1488.1 L872.4,1487.5 L874.4,1486.9 L876.4,1486.3 L878.4,1485.7 L880.4,1485.1 L882.4,1484.5 L884.4,1483.9 L886.4,1483.3 L888.4,1482.7 L890.4,1482.1 L892.4,1481.4 L894.4,1480.8 L896.4,1480.2 L898.4,1479.5 L900.4,1478.9 L902.4,1478.2 L904.4,1477.5 L906.4,1476.8 L908.4,1476.1 L910.4,1475.4 L912.4,1474.7 L914.4,1473.9 L916.4,1473.1 L918.4,1472.4 L920.4,1471.6 L922.4,1470.7 L924.4,1469.9 L926.4,1469 L928.4,1468.2 L930.4,1467.3 L932.4,1466.4 L934.4,1465.5 L936.4,1464.5 L938.4,1463.6 L940.4,1462.6 L942.4,1461.7 L944.4,1460.7 L946.4,1459.7 L948.4,1458.7 L950.4,1457.7 L952.4,1456.7 L954.4,1455.6 L956.4,1454.6 L958.4,1453.6 L960.4,1452.6 L962.4,1451.5 L964.4,1450.5 L966.4,1449.4 L968.4,1448.4 L970.4,1447.3 L972.4,1446.3 L974.4,1445.2 L976.4,1444.2 L978.4,1443.1 L980.4,1442.1 L982.4,1441.1 L984.4,1440 L986.4,1438.9 L988.4,1437.9 L990.4,1436.8 L992.4,1435.7 L994.4,1434.5 L996.4,1433.4 L998.4,1432.2 L1000.4,1431 L1002.4,1429.8 L1004.4,1428.6 L1006.4,1427.3 L1008.4,1426 L1010.4,1424.7 L1012.4,1423.3 L1014.4,1421.8 L1016.4,1420.3 L1018.4,1418.8 L1020.4,1417.3 L1022.4,1415.7 L1024.4,1414.1 L1026.4,1412.4 L1028.4,1410.8 L1030.4,1409.1 L1032.4,1407.4 L1034.4,1405.7 L1036.4,1403.9 L1038.4,1402.2 L1040.4,1400.4 L1042.4,1398.7 L1044.4,1396.9 L1046.4,1395.2 L1048.4,1393.4 L1050.4,1391.6 L1052.4,1389.9 L1054.4,1388 L1056.4,1386.2 L1058.4,1384.3 L1060.4,1382.4 L1062.4,1380.5 L1064.4,1378.6 L1066.4,1376.7 L1068.4,1374.8 L1070.4,1372.9 L1072.4,1371 L1074.4,1369.1 L1076.4,1367.3 L1078.4,1365.5 L1080.4,1363.7 L1082.4,1362 L1084.4,1360.3 L1086.4,1358.6 L1088.4,1357 L1090.4,1355.3 L1092.4,1353.7 L1094.4,1352 L1096.4,1350.3 L1098.4,1348.6 L1100.4,1346.8 L1102.4,1345 L1104.4,1343.1 L1106.4,1341.1 L1108.4,1339.1 L1110.4,1336.9 L1112.4,1334.6 L1114.4,1332.2 L1116.4,1329.7 L1118.4,1327.2 L1120.4,1324.7 L1122.4,1322.1 L1124.4,1319.5 L1126.4,1316.9 L1128.4,1314.3 L1130.4,1311.8 L1132.4,1309.3 L1134.4,1306.9 L1136.4,1304.6 L1138.4,1302.3 L1140.4,1300 L1142.4,1297.8 L1144.4,1295.5 L1146.4,1293.2 L1148.4,1290.9 L1150.4,1288.6 L1152.4,1286.2 L1154.4,1283.8 L1156.4,1281.3 L1158.4,1278.7 L1160.4,1276.2 L1162.4,1273.6 L1164.4,1271.1 L1166.4,1268.6 L1168.4,1266.1 L1170.4,1263.7 L1172.4,1261.4 L1174.4,1259.1 L1176.4,1256.9 L1178.4,1254.7 L1180.4,1252.5 L1182.4,1250.3 L1184.4,1248.2 L1186.4,1246 L1188.4,1243.9 L1190.4,1241.7 L1192.4,1239.5 L1194.4,1237.3 L1196.4,1235 L1198.4,1232.8 L1200.4,1230.6 L1202.4,1228.3 L1204.4,1226.1 L1206.4,1223.9 L1208.4,1221.6 L1210.4,1219.4 L1212.4,1217.2 L1214.4,1215.1 L1216.4,1212.9 L1218.4,1210.8 L1220.4,1208.7 L1222.4,1206.7 L1224.4,1204.7 L1226.4,1202.8 L1228.4,1200.9 L1230.4,1199.1 L1232.4,1197.3 L1234.4,1195.5 L1236.4,1193.9 L1238.4,1192.2 L1240.4,1190.7 L1242.4,1189.1 L1244.4,1187.7 L1246.4,1186.3 L1248.4,1184.9 L1250.4,1183.5 L1252.4,1182.2 L1254.4,1180.9 L1256.4,1179.6 L1258.4,1178.4 L1260.4,1177.2 L1262.4,1176 L1264.4,1174.8 L1266.4,1173.7 L1268.4,1172.6 L1270.4,1171.5 L1272.4,1170.3 L1274.4,1169.2 L1276.4,1168 L1278.4,1166.8 L1280.4,1165.7 L1282.4,1164.7 L1284.4,1163.7 L1286.4,1162.9 L1288.4,1162.2 L1290.4,1161.6 L1292.4,1161.2 L1294.4,1160.8 L1296.4,1160.5 L1298.4,1160.1 L1300.4,1159.8 L1302.4,1159.5 L1304.4,1159.3 L1306.4,1159.1 L1308.4,1158.9 L1310.4,1158.7 L1312.4,1158.6 L1314.4,1158.6 L1316.4,1158.6 L1318.4,1158.7 L1320.4,1158.9 L1322.4,1159.2 L1324.4,1159.5 L1326.4,1159.9 L1328.4,1160.2 L1330.4,1160.6 L1332.4,1161.1 L1334.4,1161.5 L1336.4,1162 L1338.4,1162.6 L1340.4,1163.3 L1342.4,1164.1 L1344.4,1164.9 L1346.4,1165.8 L1348.4,1166.7 L1350.4,1167.7 L1352.4,1168.6 L1354.4,1169.5 L1356.4,1170.5 L1358.4,1171.4 L1360.4,1172.3 L1362.4,1173.2 L1364.4,1174.2 L1366.4,1175.2 L1368.4,1176.2 L1370.4,1177.2 L1372.4,1178.3 L1374.4,1179.4 L1376.4,1180.6 L1378.4,1181.8 L1380.4,1183 L1382.4,1184.4 L1384.4,1185.8 L1386.4,1187.4 L1388.4,1189 L1390.4,1190.7 L1392.4,1192.4 L1394.4,1194.1 L1396.4,1195.8 L1398.4,1197.5 L1400.4,1199.2 L1402.4,1201 L1404.4,1202.7 L1406.4,1204.5 L1408.4,1206.4 L1410.4,1208.2 L1412.4,1210 L1414.4,1211.8 L1416.4,1213.7 L1418.4,1215.4 L1420.4,1217.2 L1422.4,1218.9 L1424.4,1220.7 L1426.4,1222.4 L1428.4,1224.2 L1430.4,1226 L1432.4,1227.9 L1434.4,1229.8 L1436.4,1231.8 L1438.4,1234 L1440.4,1236.3 L1442.4,1238.7 L1444.4,1241.1 L1446.4,1243.5 L1448.4,1245.8 L1450.4,1248 L1452.4,1250.2 L1454.4,1252.4 L1456.4,1254.5 L1458.4,1256.6 L1460.4,1258.7 L1462.4,1260.8 L1464.4,1262.9 L1466.4,1264.9 L1468.4,1266.9 L1470.4,1268.9 L1472.4,1270.9 L1474.4,1272.8 L1476.4,1274.8 L1478.4,1276.7 L1480.4,1278.6 L1482.4,1280.6 L1484.4,1282.5 L1486.4,1284.4 L1488.4,1286.3 L1490.4,1288.1 L1492.4,1290 L1494.4,1291.9 L1496.4,1293.7 L1498.4,1295.6 L1500.4,1297.4 L1502.4,1299.3 L1504.4,1301.1 L1506.4,1302.9 L1508.4,1304.7 L1510.4,1306.5 L1512.4,1308.3 L1514.4,1310.1 L1516.4,1311.9 L1518.4,1313.7 L1520.4,1315.4 L1522.4,1317.2 L1524.4,1319 L1526.4,1320.7 L1528.4,1322.5 L1530.4,1324.2 L1532.4,1325.9 L1534.4,1327.6 L1536.4,1329.3 L1538.4,1331 L1540.4,1332.7 L1542.4,1334.3 L1544.4,1336 L1546.4,1337.6 L1548.4,1339.3 L1550.4,1340.9 L1552.4,1342.5 L1554.4,1344.2 L1556.4,1345.8 L1558.4,1347.4 L1560.4,1349.1 L1562.4,1350.7 L1564.4,1352.3 L1566.4,1353.9 L1568.4,1355.4 L1570.4,1356.9 L1572.4,1358.5 L1574.4,1360 L1576.4,1361.6 L1578.4,1363.1 L1580.4,1364.7 L1582.4,1366.2 L1584.4,1367.8 L1586.4,1369.2 L1588.4,1370.7 L1590.4,1372.1 L1592.4,1373.4 L1594.4,1374.7 L1596.4,1375.9 L1598.4,1377 L1600.4,1378 L1602.4,1378.9 L1604.4,1379.8 L1606.4,1380.6 L1608.4,1381.3 L1610.4,1382 L1612.4,1382.7 L1614.4,1383.4 L1616.4,1384 L1618.4,1384.7 L1620.4,1385.3 L1622.4,1386 L1624.4,1386.6 L1626.4,1387.3 L1628.4,1388.1 L1630.4,1388.8 L1632.4,1389.7 L1634.4,1390.6 L1636.4,1391.5 L1638.4,1392.6 L1640.4,1393.7 L1642.4,1394.8 L1644.4,1396 L1646.4,1397.2 L1648.4,1398.4 L1650.4,1399.6 L1652.4,1400.9 L1654.4,1402.1 L1656.4,1403.3 L1658.4,1404.5 L1660.4,1405.7 L1662.4,1406.8 L1664.4,1407.8 L1666.4,1408.8 L1668.4,1409.7 L1670.4,1410.6 L1672.4,1411.5 L1674.4,1412.4 L1676.4,1413.2 L1678.4,1414.1 L1680.4,1414.9 L1682.4,1415.7 L1684.4,1416.4 L1686.4,1417.2 L1688.4,1418 L1690.4,1418.7 L1692.4,1419.4 L1694.4,1420.2 L1696.4,1420.9 L1698.4,1421.6 L1700.4,1422.4 L1702.4,1423.1 L1704.4,1423.8 L1706.4,1424.5 L1708.4,1425.2 L1710.4,1425.9 L1712.4,1426.6 L1714.4,1427.3 L1716.4,1427.9 L1718.4,1428.6 L1720.4,1429.3 L1722.4,1429.9 L1724.4,1430.6 L1726.4,1431.2 L1728.4,1431.8 L1730.4,1432.5 L1732.4,1433.1 L1734.4,1433.8 L1736.4,1434.4 L1738.4,1435 L1740.4,1435.6 L1742.4,1436.2 L1744.4,1436.7 L1746.4,1437.3 L1748.4,1437.9 L1750.4,1438.5 L1752.4,1439.1 L1754.4,1439.6 L1756.4,1440.2 L1758.4,1440.8 L1760.4,1441.4 L1762.4,1442 L1764.4,1442.7 L1766.4,1443.3 L1768.4,1444 L1770.4,1444.7 L1772.4,1445.4 L1774.4,1446.2 L1776.4,1447 L1778.4,1447.8 L1780.4,1448.6 L1782.4,1449.4 L1784.4,1450.2 L1786.4,1451 L1788.4,1451.8 L1790.4,1452.5 L1792.4,1453.2 L1794.4,1453.9 L1796.4,1454.6 L1798.4,1455.2 L1800.4,1455.7 L1802.4,1456.2 L1804.4,1456.6 L1806.4,1457 L1808.4,1457.4 L1810.4,1457.7 L1812.4,1458.1 L1814.4,1458.5 L1816.4,1458.9 L1818.4,1459.4 L1820.4,1459.9 L1822.4,1460.5 L1824.4,1461 L1826.4,1461.6 L1828.4,1462.2 L1830.4,1462.8 L1832.4,1463.4 L1834.4,1464.1 L1836.4,1464.7 L1838.4,1465.4 L1840.4,1466.1 L1842.4,1466.8 L1844.4,1467.5 L1846.4,1468.1 L1848.4,1468.8 L1850.4,1469.5 L1852.4,1470.2 L1854.4,1470.9 L1856.4,1471.6 L1858.4,1472.3 L1860.4,1473 L1862.4,1473.7 L1864.4,1474.3 L1866.4,1475 L1868.4,1475.6 L1870.4,1476.2 L1872.4,1476.9 L1874.4,1477.5 L1876.4,1478.2 L1878.4,1478.8 L1880.4,1479.5 L1882.4,1480.2 L1884.4,1480.8 L1886.4,1481.5 L1888.4,1482.2 L1890.4,1482.8 L1892.4,1483.5 L1894.4,1484.2 L1896.4,1484.8 L1898.4,1485.4 L1900.4,1486.1 L1902.4,1486.7 L1904.4,1487.3 L1906.4,1487.8 L1908.4,1488.4 L1910.4,1488.9 L1912.4,1489.5 L1914.4,1489.9 L1916.4,1490.4 L1918.4,1490.9 L1920.4,1491.3 L1922.4,1491.6 L1924.4,1492 L1926.4,1492.4 L1928.4,1492.7 L1930.4,1493 L1932.4,1493.3 L1934.4,1493.6 L1936.4,1493.9 L1938.4,1494.2 L1940.4,1494.4 L1942.4,1494.7 L1944.4,1495 L1946.4,1495.3 L1948.4,1495.5 L1950.4,1495.8 L1952.4,1496.1 L1954.4,1496.4 L1956.4,1496.7 L1958.4,1497 L1960.4,1497.2 L1962.4,1497.5 L1964.4,1497.8 L1966.4,1498.1 L1968.4,1498.3 L1970.4,1498.6 L1972.4,1498.9 L1974.4,1499.1 L1976.4,1499.4 L1978.4,1499.6 L1980.4,1499.9 L1982.4,1500.1 L1984.4,1500.3 L1986.4,1500.5 L1988.4,1500.7 L1990.4,1500.9 L1992.4,1501.1 L1994.4,1501.3 L1996.4,1501.5 L1998.4,1501.6 L2000.4,1501.8 L2002.4,1501.9 L2004.4,1502 L2006.4,1502.2 L2008.4,1502.3 L2010.4,1502.5 L2012.4,1502.6 L2014.4,1502.8 L2016.4,1502.9 L2018.4,1503.1 L2020.4,1503.2 L2022.4,1503.3 L2024.4,1503.5 L2026.4,1503.6 L2028.4,1503.7 L2030.4,1503.9 L2032.4,1504 L2034.4,1504.1 L2036.4,1504.2 L2038.4,1504.3 L2040.4,1504.4 L2042.4,1504.5 L2044.4,1504.6 L2046.4,1504.7 L2048.4,1504.8 L2050.4,1504.9 L2052.4,1505 L2054.4,1505.1 L2056.4,1505.1 L2058.4,1505.2 L2060.4,1505.2 L2062.4,1505.3 L2064.4,1505.3 L2066.4,1505.3 L2068.4,1505.4 L2070.4,1505.4 L2072.4,1505.4 L2074.4,1505.4 L2076.4,1505.4 L2078.4,1505.4 L2080.4,1505.4 L2082.4,1505.4 L2084.4,1505.4 L2086.4,1505.4 L2088.4,1505.4 L2090.4,1505.4 L2092.4,1505.4 L2094.4,1505.4 L2096.4,1505.4 L2098.4,1505.4 L2100.4,1505.4 L2102.4,1505.4 L2104.4,1505.4 L2106.4,1505.4 L2108.4,1505.4 L2110.4,1505.4 L2112.4,1505.4 L2114.4,1505.4 L2116.4,1505.4 L2118.4,1505.4 L2120.4,1505.4 L2122.4,1505.4 L2124.4,1505.4 L2126.4,1505.4 L2128.4,1505.4 L2130.4,1505.4 L2132.4,1505.4 L2134.4,1505.4 L2136.4,1505.4 L2138.4,1505.4 L2140.4,1505.4 L2142.4,1505.4 L2144.4,1505.4 L2146.4,1505.4 L2148.4,1505.4 L2150.4,1505.4 L2152.4,1505.4 L2154.4,1505.4 L2156.4,1505.4 L2158.4,1505.4 L2160.4,1505.4 L2162.4,1505.4 L2164.4,1505.4 L2166.4,1505.4 L2168.4,1505.4 L2170.4,1505.4 L2172.4,1505.4 L2174.4,1505.4 L2176.4,1505.4 L2178.4,1505.4 L2180.4,1505.4 L2182.4,1505.4" stroke="#6e6e6e" stroke-width="2.0"/>
<path d="M178.4,1554 L181.4,1553.9 L184.4,1553.9 L187.4,1553.8 L190.4,1553.8 L193.4,1553.7 L196.4,1553.6 L199.4,1553.6 L202.4,1553.5 L205.4,1553.5 L208.4,1553.4 L211.4,1553.4 L214.4,1553.3 L217.4,1553.2 L220.4,1553.2 L223.4,1553.1 L226.4,1553.1 L229.4,1553 L232.4,1552.9 L235.4,1552.9 L238.4,1552.8 L241.4,1552.8 L244.4,1552.7 L247.4,1552.6 L250.4,1552.6 L253.4,1552.5 L256.4,1552.4 L259.4,1552.4 L262.4,1552.3 L265.4,1552.2 L268.4,1552.2 L271.4,1552.1 L274.4,1552 L277.4,1552 L280.4,1551.9 L283.4,1551.8 L286.4,1551.8 L289.4,1551.7 L292.4,1551.6 L295.4,1551.5 L298.4,1551.5 L301.4,1551.4 L304.4,1551.3 L307.4,1551.3 L310.4,1551.2 L313.4,1551.1 L316.4,1551 L319.4,1550.9 L322.4,1550.9 L325.4,1550.8 L328.4,1550.7 L331.4,1550.6 L334.4,1550.6 L337.4,1550.5 L340.4,1550.4 L343.4,1550.3 L346.4,1550.2 L349.4,1550.1 L352.4,1550.1 L355.4,1550 L358.4,1549.9 L361.4,1549.8 L364.4,1549.7 L367.4,1549.6 L370.4,1549.5 L373.4,1549.4 L376.4,1549.3 L379.4,1549.2 L382.4,1549.2 L385.4,1549.1 L388.4,1549 L391.4,1548.9 L394.4,1548.8 L397.4,1548.7 L400.4,1548.6 L403.4,1548.5 L406.4,1548.4 L409.4,1548.3 L412.4,1548.2 L415.4,1548.1 L418.4,1548 L421.4,1547.9 L424.4,1547.8 L427.4,1547.6 L430.4,1547.5 L433.4,1547.4 L436.4,1547.3 L439.4,1547.2 L442.4,1547.1 L445.4,1547 L448.4,1546.9 L451.4,1546.7 L454.4,1546.6 L457.4,1546.5 L460.4,1546.4 L463.4,1546.3 L466.4,1546.2 L469.4,1546 L472.4,1545.9 L475.4,1545.8 L478.4,1545.7 L481.4,1545.5 L484.4,1545.4 L487.4,1545.3 L490.4,1545.1 L493.4,1545 L496.4,1544.9 L499.4,1544.7 L502.4,1544.6 L505.4,1544.4 L508.4,1544.3 L511.4,1544.2 L514.4,1544 L517.4,1543.9 L520.4,1543.7 L523.4,1543.6 L526.4,1543.4 L529.4,1543.3 L532.4,1543.1 L535.4,1543 L538.4,1542.8 L541.4,1542.6 L544.4,1542.5 L547.4,1542.3 L550.4,1542.2 L553.4,1542 L556.4,1541.8 L559.4,1541.7 L562.4,1541.5 L565.4,1541.3 L568.4,1541.1 L571.4,1541 L574.4,1540.8 L577.4,1540.6 L580.4,1540.4 L583.4,1540.2 L586.4,1540 L589.4,1539.8 L592.4,1539.6 L595.4,1539.4 L598.4,1539.3 L601.4,1539.1 L604.4,1538.8 L607.4,1538.6 L610.4,1538.4 L613.4,1538.2 L616.4,1538 L619.4,1537.8 L622.4,1537.6 L625.4,1537.4 L628.4,1537.1 L631.4,1536.9 L634.4,1536.7 L637.4,1536.4 L640.4,1536.2 L643.4,1536 L646.4,1535.7 L649.4,1535.5 L652.4,1535.2 L655.4,1535 L658.4,1534.7 L661.4,1534.5 L664.4,1534.2 L667.4,1533.9 L670.4,1533.7 L673.4,1533.4 L676.4,1533.1 L679.4,1532.8 L682.4,1532.5 L685.4,1532.2 L688.4,1531.9 L691.4,1531.6 L694.4,1531.3 L697.4,1531 L700.4,1530.7 L703.4,1530.4 L706.4,1530.1 L709.4,1529.8 L712.4,1529.4 L715.4,1529.1 L718.4,1528.7 L721.4,1528.4 L724.4,1528 L727.4,1527.7 L730.4,1527.3 L733.4,1526.9 L736.4,1526.6 L739.4,1526.2 L742.4,1525.8 L745.4,1525.4 L748.4,1525 L751.4,1524.6 L754.4,1524.2 L757.4,1523.8 L760.4,1523.3 L763.4,1522.9 L766.4,1522.4 L769.4,1522 L772.4,1521.5 L775.4,1521 L778.4,1520.6 L781.4,1520.1 L784.4,1519.6 L787.4,1519.1 L790.4,1518.6 L793.4,1518 L796.4,1517.5 L799.4,1516.9 L802.4,1516.4 L805.4,1515.8 L808.4,1515.2 L811.4,1514.6 L814.4,1514 L817.4,1513.4 L820.4,1512.8 L823.4,1512.2 L826.4,1511.5 L829.4,1510.8 L832.4,1510.2 L835.4,1509.5 L838.4,1508.8 L841.4,1508 L844.4,1507.3 L847.4,1506.6 L850.4,1505.8 L853.4,1505 L856.4,1504.2 L859.4,1503.4 L862.4,1502.6 L865.4,1501.7 L868.4,1500.8 L871.4,1499.9 L874.4,1499 L877.4,1498.1 L880.4,1497.2 L883.4,1496.2 L886.4,1495.2 L889.4,1494.2 L892.4,1493.1 L895.4,1492.1 L898.4,1491 L901.4,1489.9 L904.4,1488.8 L907.4,1487.6 L910.4,1486.5 L913.4,1485.3 L916.4,1484 L919.4,1482.8 L922.4,1481.5 L925.4,1480.2 L928.4,1478.8 L931.4,1477.5 L934.4,1476.1 L937.4,1474.6 L940.4,1473.2 L943.4,1471.7 L946.4,1470.2 L949.4,1468.6 L952.4,1467 L955.4,1465.4 L958.4,1463.8 L961.4,1462.1 L964.4,1460.4 L967.4,1458.6 L970.4,1456.8 L973.4,1455 L976.4,1453.1 L979.4,1451.2 L982.4,1449.2 L985.4,1447.2 L988.4,1445.2 L991.4,1443.2 L994.4,1441 L997.4,1438.9 L1000.4,1436.7 L1003.4,1434.5 L1006.4,1432.2 L1009.4,1429.9 L1012.4,1427.5 L1015.4,1425.1 L1018.4,1422.7 L1021.4,1420.2 L1024.4,1417.6 L1027.4,1415.1 L1030.4,1412.4 L1033.4,1409.8 L1036.4,1407 L1039.4,1404.3 L1042.4,1401.5 L1045.4,1398.6 L1048.4,1395.7 L1051.4,1392.8 L1054.4,1389.8 L1057.4,1386.8 L1060.4,1383.7 L1063.4,1380.6 L1066.4,1377.5 L1069.4,1374.3 L1072.4,1371.1 L1075.4,1367.8 L1078.4,1364.5 L1081.4,1361.2 L1084.4,1357.8 L1087.4,1354.4 L1090.4,1350.9 L1093.4,1347.5 L1096.4,1344 L1099.4,1340.5 L1102.4,1336.9 L1105.4,1333.4 L1108.4,1329.8 L1111.4,1326.2 L1114.4,1322.6 L1117.4,1319 L1120.4,1315.3 L1123.4,1311.7 L1126.4,1308.1 L1129.4,1304.4 L1132.4,1300.8 L1135.4,1297.2 L1138.4,1293.6 L1141.4,1290 L1144.4,1286.5 L1147.4,1282.9 L1150.4,1279.4 L1153.4,1275.9 L1156.4,1272.5 L1159.4,1269.1 L1162.4,1265.7 L1165.4,1262.4 L1168.4,1259.1 L1171.4,1255.9 L1174.4,1252.7 L1177.4,1249.6 L1180.4,1246.5 L1183.4,1243.5 L1186.4,1240.6 L1189.4,1237.7 L1192.4,1234.9 L1195.4,1232.1 L1198.4,1229.4 L1201.4,1226.8 L1204.4,1224.2 L1207.4,1221.7 L1210.4,1219.3 L1213.4,1216.9 L1216.4,1214.6 L1219.4,1212.4 L1222.4,1210.2 L1225.4,1208.1 L1228.4,1206 L1231.4,1204 L1234.4,1202.1 L1237.4,1200.2 L1240.4,1198.3 L1243.4,1196.5 L1246.4,1194.8 L1249.4,1193.1 L1252.4,1191.5 L1255.4,1189.9 L1258.4,1188.3 L1261.4,1186.8 L1264.4,1185.3 L1267.4,1183.9 L1270.4,1182.5 L1273.4,1181.2 L1276.4,1179.9 L1279.4,1178.6 L1282.4,1177.4 L1285.4,1176.2 L1288.4,1175.1 L1291.4,1174 L1294.4,1173 L1297.4,1172.1 L1300.4,1171.1 L1303.4,1170.3 L1306.4,1169.5 L1309.4,1168.7 L1312.4,1168 L1315.4,1167.4 L1318.4,1166.9 L1321.4,1166.4 L1324.4,1166 L1327.4,1165.7 L1330.4,1165.5 L1333.4,1165.4 L1336.4,1165.3 L1339.4,1165.4 L1342.4,1165.5 L1345.4,1165.8 L1348.4,1166.1 L1351.4,1166.6 L1354.4,1167.1 L1357.4,1167.8 L1360.4,1168.5 L1363.4,1169.4 L1366.4,1170.4 L1369.4,1171.6 L1372.4,1172.8 L1375.4,1174.1 L1378.4,1175.6 L1381.4,1177.1 L1384.4,1178.8 L1387.4,1180.6 L1390.4,1182.5 L1393.4,1184.5 L1396.4,1186.6 L1399.4,1188.9 L1402.4,1191.2 L1405.4,1193.6 L1408.4,1196.1 L1411.4,1198.7 L1414.4,1201.3 L1417.4,1204.1 L1420.4,1206.9 L1423.4,1209.8 L1426.4,1212.8 L1429.4,1215.8 L1432.4,1218.9 L1435.4,1222.1 L1438.4,1225.3 L1441.4,1228.5 L1444.4,1231.8 L1447.4,1235.1 L1450.4,1238.4 L1453.4,1241.8 L1456.4,1245.2 L1459.4,1248.6 L1462.4,1252 L1465.4,1255.5 L1468.4,1258.9 L1471.4,1262.4 L1474.4,1265.8 L1477.4,1269.3 L1480.4,1272.7 L1483.4,1276.2 L1486.4,1279.6 L1489.4,1283 L1492.4,1286.4 L1495.4,1289.8 L1498.4,1293.1 L1501.4,1296.4 L1504.4,1299.7 L1507.4,1303 L1510.4,1306.3 L1513.4,1309.5 L1516.4,1312.7 L1519.4,1315.8 L1522.4,1318.9 L1525.4,1322 L1528.4,1325.1 L1531.4,1328.1 L1534.4,1331 L1537.4,1334 L1540.4,1336.9 L1543.4,1339.7 L1546.4,1342.6 L1549.4,1345.3 L1552.4,1348.1 L1555.4,1350.8 L1558.4,1353.4 L1561.4,1356 L1564.4,1358.6 L1567.4,1361.2 L1570.4,1363.6 L1573.4,1366.1 L1576.4,1368.5 L1579.4,1370.9 L1582.4,1373.2 L1585.4,1375.5 L1588.4,1377.8 L1591.4,1380 L1594.4,1382.1 L1597.4,1384.3 L1600.4,1386.4 L1603.4,1388.4 L1606.4,1390.4 L1609.4,1392.4 L1612.4,1394.3 L1615.4,1396.3 L1618.4,1398.1 L1621.4,1400 L1624.4,1401.7 L1627.4,1403.5 L1630.4,1405.2 L1633.4,1406.9 L1636.4,1408.6 L1639.4,1410.2 L1642.4,1411.8 L1645.4,1413.4 L1648.4,1414.9 L1651.4,1416.4 L1654.4,1417.8 L1657.4,1419.3 L1660.4,1420.7 L1663.4,1422.1 L1666.4,1423.4 L1669.4,1424.7 L1672.4,1426 L1675.4,1427.3 L1678.4,1428.5 L1681.4,1429.7 L1684.4,1430.9 L1687.4,1432.1 L1690.4,1433.2 L1693.4,1434.3 L1696.4,1435.4 L1699.4,1436.5 L1702.4,1437.5 L1705.4,1438.5 L1708.4,1439.5 L1711.4,1440.5 L1714.4,1441.4 L1717.4,1442.4 L1720.4,1443.3 L1723.4,1444.2 L1726.4,1445 L1729.4,1445.9 L1732.4,1446.7 L1735.4,1447.6 L1738.4,1448.4 L1741.4,1449.1 L1744.4,1449.9 L1747.4,1450.6 L1750.4,1451.4 L1753.4,1452.1 L1756.4,1452.8 L1759.4,1453.5 L1762.4,1454.2 L1765.4,1454.8 L1768.4,1455.5 L1771.4,1456.1 L1774.4,1456.7 L1777.4,1457.3 L1780.4,1457.9 L1783.4,1458.5 L1786.4,1459 L1789.4,1459.6 L1792.4,1460.1 L1795.4,1460.7 L1798.4,1461.2 L1801.4,1461.7 L1804.4,1462.2 L1807.4,1462.7 L1810.4,1463.2 L1813.4,1463.7 L1816.4,1464.1 L1819.4,1464.6 L1822.4,1465 L1825.4,1465.5 L1828.4,1465.9 L1831.4,1466.3 L1834.4,1466.7 L1837.4,1467.1 L1840.4,1467.5 L1843.4,1467.9 L1846.4,1468.3 L1849.4,1468.7 L1852.4,1469 L1855.4,1469.4 L1858.4,1469.7 L1861.4,1470.1 L1864.4,1470.4 L1867.4,1470.8 L1870.4,1471.1 L1873.4,1471.4 L1876.4,1471.7 L1879.4,1472.1 L1882.4,1472.4 L1885.4,1472.7 L1888.4,1473 L1891.4,1473.3 L1894.4,1473.5 L1897.4,1473.8 L1900.4,1474.1 L1903.4,1474.4 L1906.4,1474.7 L1909.4,1474.9 L1912.4,1475.2 L1915.4,1475.4 L1918.4,1475.7 L1921.4,1475.9 L1924.4,1476.2 L1927.4,1476.4 L1930.4,1476.7 L1933.4,1476.9 L1936.4,1477.1 L1939.4,1477.4 L1942.4,1477.6 L1945.4,1477.8 L1948.4,1478 L1951.4,1478.2 L1954.4,1478.5 L1957.4,1478.7 L1960.4,1478.9 L1963.4,1479.1 L1966.4,1479.3 L1969.4,1479.5 L1972.4,1479.7 L1975.4,1479.9 L1978.4,1480 L1981.4,1480.2 L1984.4,1480.4 L1987.4,1480.6 L1990.4,1480.8 L1993.4,1480.9 L1996.4,1481.1 L1999.4,1481.3 L2002.4,1481.5 L2005.4,1481.6 L2008.4,1481.8 L2011.4,1482 L2014.4,1482.1 L2017.4,1482.3 L2020.4,1482.4 L2023.4,1482.6 L2026.4,1482.7 L2029.4,1482.9 L2032.4,1483 L2035.4,1483.2 L2038.4,1483.3 L2041.4,1483.5 L2044.4,1483.6 L2047.4,1483.8 L2050.4,1483.9 L2053.4,1484 L2056.4,1484.2 L2059.4,1484.3 L2062.4,1484.4 L2065.4,1484.6 L2068.4,1484.7 L2071.4,1484.8 L2074.4,1485 L2077.4,1485.1 L2080.4,1485.2 L2083.4,1485.3 L2086.4,1485.4 L2089.4,1485.6 L2092.4,1485.7 L2095.4,1485.8 L2098.4,1485.9 L2101.4,1486 L2104.4,1486.1 L2107.4,1486.2 L2110.4,1486.4 L2113.4,1486.5 L2116.4,1486.6 L2119.4,1486.7 L2122.4,1486.8 L2125.4,1486.9 L2128.4,1487 L2131.4,1487.1 L2134.4,1487.2 L2137.4,1487.3 L2140.4,1487.4 L2143.4,1487.5 L2146.4,1487.6 L2149.4,1487.7 L2152.4,1487.8 L2155.4,1487.9 L2158.4,1488 L2161.4,1488 L2164.4,1488.1 L2167.4,1488.2 L2170.4,1488.3 L2173.4,1488.4 L2176.4,1488.5 L2179.4,1488.6 L2182.4,1488.7 L2183,1488.7" stroke="#ff0000" stroke-width="4.2"/>
</g>
<g stroke-width="5.5" fill="none">
<line x1="1228.5" y1="193" x2="1228.5" y2="1573.5" stroke="#1a1a1a" stroke-dasharray="20 20"/>
<line x1="1475.5" y1="145.5" x2="1475.5" y2="1608.5" stroke="#1a1a1a" stroke-dasharray="20 20"/>
</g>
<g fill="none">
<path d="M169.5,49 V1631 M168,50.5 H2184" stroke="#8e9696" stroke-width="3"/>
<path d="M2182.5,52 V1622 M171,1620.5 H2184" stroke="#50555c" stroke-width="3"/>
<rect x="172.5" y="53.5" width="2013" height="1570" stroke="#000" stroke-width="3"/>
</g>
<g stroke="#000" stroke-width="5">
<line x1="441" y1="1624" x2="441" y2="1639"/>
<line x1="977.7" y1="1624" x2="977.7" y2="1639"/>
<line x1="1514.3" y1="1624" x2="1514.3" y2="1639"/>
<line x1="2051" y1="1624" x2="2051" y2="1639"/>
<line x1="174" y1="1624" x2="174" y2="1631"/>
<line x1="709.3" y1="1624" x2="709.3" y2="1631"/>
<line x1="1246" y1="1624" x2="1246" y2="1631"/>
<line x1="1782.6" y1="1624" x2="1782.6" y2="1631"/>
</g>
<g font-family="Liberation Serif, Times New Roman, serif" fill="#000">
<text id="t1" x="183.5" y="504.6" font-size="52" font-weight="bold" textLength="658.2" lengthAdjust="spacingAndGlyphs">10%V<tspan font-size="27.0">2</tspan>O<tspan font-size="27.0">5</tspan>/DeAlmm-H-MOR</text>
<text id="t2" x="181.9" y="1059.0" font-size="56" font-weight="bold" textLength="571.8" lengthAdjust="spacingAndGlyphs">10%V<tspan font-size="29.1">2</tspan>O<tspan font-size="29.1">5</tspan>/mm-H-MOR</text>
<text id="t3" x="191.8" y="1523.4" font-size="54" font-weight="bold" textLength="454.8" lengthAdjust="spacingAndGlyphs">10%V<tspan font-size="28.1">2</tspan>O<tspan font-size="28.1">5</tspan>/H-MOR</text>
<text id="v4" x="1198.5" y="189.6" font-size="70" font-weight="bold">V</text>
<text id="v4s" x="1250.0" y="161.6" font-size="31" font-weight="normal">4+</text>
<text id="v5" x="1453.0" y="121.0" font-size="73" font-weight="bold">V</text>
<text id="v5s" x="1506.0" y="92.7" font-size="31" font-weight="normal">5+</text>
<text id="k514" x="441.0" y="1687.5" font-size="52" font-weight="normal" text-anchor="middle">514</text>
<text id="k516" x="977.6" y="1687.5" font-size="52" font-weight="normal" text-anchor="middle">516</text>
<text id="k518" x="1514.3" y="1687.5" font-size="52" font-weight="normal" text-anchor="middle">518</text>
<text id="k520" x="2051.0" y="1687.5" font-size="52" font-weight="normal" text-anchor="middle">520</text>
<text id="xt" x="926.0" y="1783.6" font-size="62" font-weight="bold" textLength="610.2" lengthAdjust="spacingAndGlyphs">Bindinng Energy (eV)</text>
<text id="yt" x="91.5" y="1098.0" font-size="71" font-weight="bold" transform="rotate(-90 91.5 1098)">Intensity(a.u.)</text>
</g>
</svg>

</body></html>
